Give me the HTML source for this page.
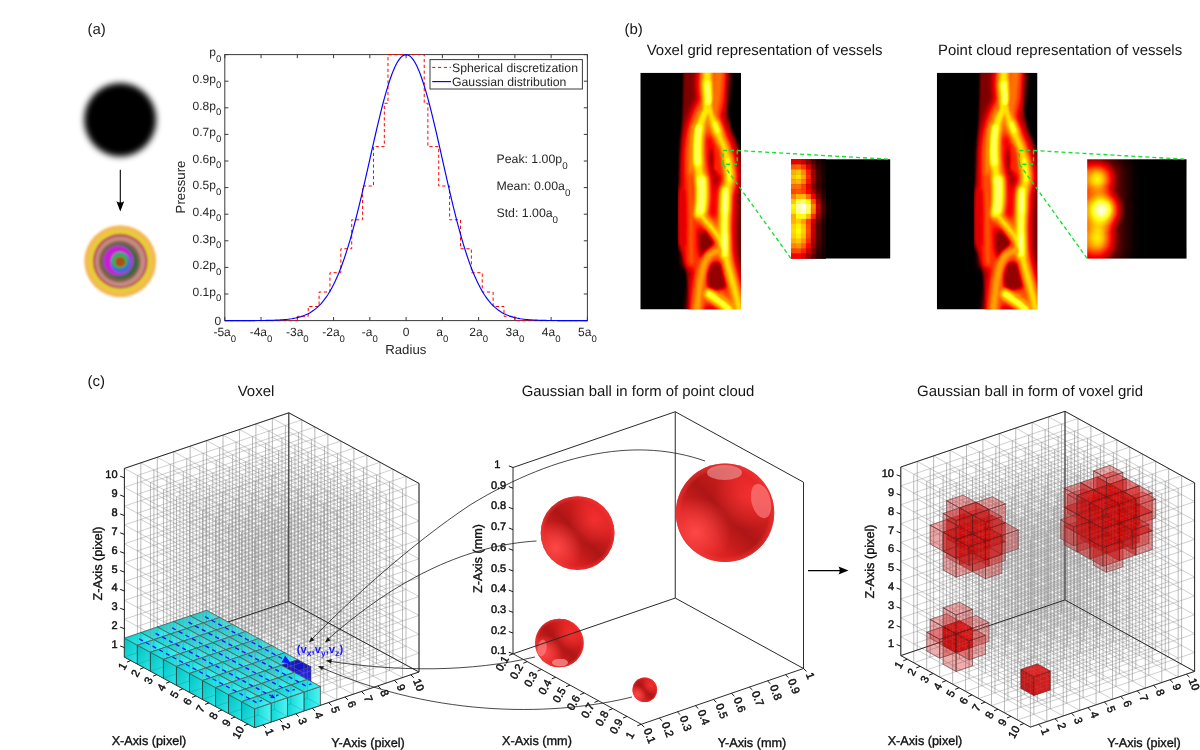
<!DOCTYPE html>
<html><head><meta charset="utf-8"><title>Figure</title>
<style>
html,body{margin:0;padding:0;background:#fff;}
body{width:1200px;height:750px;overflow:hidden;font-family:'Liberation Sans', sans-serif;}
svg{display:block;will-change:transform;text-rendering:geometricPrecision;font-family:"Liberation Sans",sans-serif;}
</style></head><body>
<svg width="1200" height="750" viewBox="0 0 1200 750">
<defs>
<filter id="blur25" x="-20%" y="-20%" width="140%" height="140%"><feGaussianBlur stdDeviation="3"/></filter>
<filter id="blur12" x="-20%" y="-20%" width="140%" height="140%"><feGaussianBlur stdDeviation="1.1"/></filter>

<filter id="hot" x="0" y="0" width="100%" height="100%" color-interpolation-filters="sRGB">
<feComponentTransfer>
<feFuncR type="table" tableValues="0 0.333 0.667 1 1 1 1 1 1"/>
<feFuncG type="table" tableValues="0 0 0 0 0.333 0.667 1 1 1"/>
<feFuncB type="table" tableValues="0 0 0 0 0 0 0 0.5 1"/>
</feComponentTransfer>
</filter>
<filter id="vb" x="-10%" y="-10%" width="120%" height="120%" color-interpolation-filters="sRGB"><feGaussianBlur stdDeviation="1.3"/></filter>
<filter id="vb3" x="-10%" y="-10%" width="120%" height="120%" color-interpolation-filters="sRGB"><feGaussianBlur stdDeviation="3"/></filter>
<filter id="vb2" x="-10%" y="-10%" width="120%" height="120%" color-interpolation-filters="sRGB"><feGaussianBlur stdDeviation="1.7"/></filter>
<radialGradient id="gw"><stop offset="0" stop-color="#fff" stop-opacity="1"/><stop offset="0.25" stop-color="#fff" stop-opacity="0.82"/><stop offset="0.5" stop-color="#fff" stop-opacity="0.46"/><stop offset="0.75" stop-color="#fff" stop-opacity="0.17"/><stop offset="1" stop-color="#fff" stop-opacity="0"/></radialGradient>
<linearGradient id="bandg" x1="0" x2="1" y1="0" y2="0"><stop offset="0.000" stop-color="#696969"/><stop offset="0.121" stop-color="#5e5e5e"/><stop offset="0.202" stop-color="#4a4a4a"/><stop offset="0.282" stop-color="#2e2e2e"/><stop offset="0.363" stop-color="#171717"/><stop offset="0.444" stop-color="#090909"/><stop offset="0.524" stop-color="#000000"/></linearGradient>
<linearGradient id="topg" x1="0" x2="0" y1="0" y2="1"><stop offset="0" stop-color="#000" stop-opacity="0.5"/><stop offset="1" stop-color="#000" stop-opacity="0"/></linearGradient>
<linearGradient id="botg" x1="0" x2="0" y1="0" y2="1"><stop offset="0" stop-color="#000" stop-opacity="0"/><stop offset="1" stop-color="#000" stop-opacity="0.35"/></linearGradient>
<clipPath id="vclip"><rect x="640.3" y="72.7" width="100.7" height="236.8"/></clipPath>
<linearGradient id="ct" x1="0" y1="0.3" x2="1" y2="0.7"><stop offset="0" stop-color="#00d2d2"/><stop offset="1" stop-color="#4cf2f2"/></linearGradient>
<linearGradient id="cy" x1="0" y1="0" x2="1" y2="1"><stop offset="0" stop-color="#00c4c4"/><stop offset="1" stop-color="#2ee6e6"/></linearGradient>
<linearGradient id="cx" x1="0" y1="0" x2="1" y2="0"><stop offset="0" stop-color="#0cd8d8"/><stop offset="1" stop-color="#52f3f3"/></linearGradient>
<linearGradient id="bshade" gradientUnits="objectBoundingBox" x1="0.15" y1="0.85" x2="0.85" y2="0.15"><stop offset="0.2" stop-color="#8a0c0c" stop-opacity="0"/><stop offset="0.36" stop-color="#8a0c0c" stop-opacity="0.32"/><stop offset="0.5" stop-color="#8a0c0c" stop-opacity="0.55"/><stop offset="0.66" stop-color="#8a0c0c" stop-opacity="0.3"/><stop offset="0.85" stop-color="#8a0c0c" stop-opacity="0"/></linearGradient>
<radialGradient id="bhl1" gradientUnits="objectBoundingBox" cx="0.2" cy="0.7" r="0.36"><stop offset="0" stop-color="#ff4a4a" stop-opacity="0.95"/><stop offset="1" stop-color="#ff4a4a" stop-opacity="0"/></radialGradient>
<radialGradient id="bhl2" gradientUnits="objectBoundingBox" cx="0.72" cy="0.33" r="0.34"><stop offset="0" stop-color="#ff3636" stop-opacity="0.7"/><stop offset="1" stop-color="#ff3636" stop-opacity="0"/></radialGradient>
<radialGradient id="brim"><stop offset="0.88" stop-color="#ff4040" stop-opacity="0"/><stop offset="1" stop-color="#f03838" stop-opacity="0.6"/></radialGradient>
</defs>
<rect width="1200" height="750" fill="#fff"/>
<text x="87.5" y="33.5" font-size="15" text-anchor="start" fill="#1a1a1a">(a)</text>
<ellipse cx="120.2" cy="119.7" rx="36" ry="36.8" fill="#000" filter="url(#blur25)"/>
<path d="M120.3 169.8V205" stroke="#000" stroke-width="1.1" fill="none"/>
<path d="M120.3 211.6L116.4 201.2Q120.3 203.6 124.2 201.2Z" fill="#000"/>
<g filter="url(#blur12)">
<circle cx="120.3" cy="261.2" r="36" fill="#f4b955"/>
<circle cx="120.3" cy="261.2" r="31.2" fill="#e3d22a"/>
<circle cx="120.3" cy="261.2" r="27.4" fill="#c0405f"/>
<circle cx="120.3" cy="261.5" r="25.2" fill="#c18c82"/>
<circle cx="119.7" cy="261.5" r="20.7" fill="#86603f"/>
<circle cx="120" cy="261.2" r="17.6" fill="#5e6283"/>
<circle cx="121" cy="262.2" r="16.9" fill="#2f6b46"/>
<circle cx="118.4" cy="260.8" r="14.8" fill="#c91fd4"/>
<circle cx="120.9" cy="263" r="10.4" fill="#4468da"/>
<circle cx="119.8" cy="260.4" r="8.4" fill="#22b556"/>
<circle cx="120.3" cy="261.8" r="5.3" fill="#a9501f"/>
</g>
<rect x="224.8" y="54.6" width="362.6" height="266" fill="none" stroke="#3a3a3a" stroke-width="1"/>
<path d="M224.8 320.6v-3.6M224.8 54.6v3.6M224.8 320.6h3.6M587.4 320.6h-3.6M261.06 320.6v-3.6M261.06 54.6v3.6M224.8 294h3.6M587.4 294h-3.6M297.32 320.6v-3.6M297.32 54.6v3.6M224.8 267.4h3.6M587.4 267.4h-3.6M333.58 320.6v-3.6M333.58 54.6v3.6M224.8 240.8h3.6M587.4 240.8h-3.6M369.84 320.6v-3.6M369.84 54.6v3.6M224.8 214.2h3.6M587.4 214.2h-3.6M406.1 320.6v-3.6M406.1 54.6v3.6M224.8 187.6h3.6M587.4 187.6h-3.6M442.36 320.6v-3.6M442.36 54.6v3.6M224.8 161h3.6M587.4 161h-3.6M478.62 320.6v-3.6M478.62 54.6v3.6M224.8 134.4h3.6M587.4 134.4h-3.6M514.88 320.6v-3.6M514.88 54.6v3.6M224.8 107.8h3.6M587.4 107.8h-3.6M551.14 320.6v-3.6M551.14 54.6v3.6M224.8 81.2h3.6M587.4 81.2h-3.6M587.4 320.6v-3.6M587.4 54.6v3.6M224.8 54.6h3.6M587.4 54.6h-3.6" stroke="#3a3a3a" stroke-width="1" fill="none"/>
<path d="M224.8 320.6L297.32 320.6L297.32 316.34L308.2 316.34L308.2 306.5L319.08 306.5L319.08 292L329.95 292L329.95 272.72L340.83 272.72L340.83 248.78L351.71 248.78L351.71 219.79L362.59 219.79L362.59 186L373.47 186L373.47 146.64L384.34 146.64L384.34 103.28L387.97 103.28L387.97 54.6L424.23 54.6L424.23 103.28L427.86 103.28L427.86 146.64L438.73 146.64L438.73 186L449.61 186L449.61 219.79L460.49 219.79L460.49 248.78L471.37 248.78L471.37 272.72L482.25 272.72L482.25 292L493.12 292L493.12 306.5L504 306.5L504 316.34L514.88 316.34L514.88 320.6L587.4 320.6" stroke="#ff0000" stroke-width="1" stroke-dasharray="3.2 2.6" fill="none"/>
<path d="M224.8 320.6L226.61 320.6L228.43 320.6L230.24 320.6L232.05 320.6L233.87 320.6L235.68 320.6L237.49 320.59L239.3 320.59L241.12 320.59L242.93 320.59L244.74 320.59L246.56 320.58L248.37 320.58L250.18 320.57L252 320.57L253.81 320.56L255.62 320.55L257.43 320.54L259.25 320.53L261.06 320.51L262.87 320.49L264.69 320.47L266.5 320.44L268.31 320.41L270.12 320.36L271.94 320.32L273.75 320.26L275.56 320.19L277.38 320.11L279.19 320.02L281 319.91L282.82 319.78L284.63 319.63L286.44 319.45L288.25 319.25L290.07 319.01L291.88 318.74L293.69 318.42L295.51 318.06L297.32 317.65L299.13 317.17L300.95 316.63L302.76 316.02L304.57 315.32L306.39 314.54L308.2 313.65L310.01 312.66L311.82 311.54L313.64 310.3L315.45 308.91L317.26 307.37L319.08 305.67L320.89 303.79L322.7 301.71L324.52 299.44L326.33 296.95L328.14 294.23L329.95 291.27L331.77 288.07L333.58 284.6L335.39 280.86L337.21 276.85L339.02 272.55L340.83 267.96L342.65 263.07L344.46 257.89L346.27 252.41L348.08 246.64L349.9 240.58L351.71 234.24L353.52 227.63L355.34 220.77L357.15 213.66L358.96 206.34L360.78 198.82L362.59 191.12L364.4 183.29L366.21 175.34L368.03 167.32L369.84 159.26L371.65 151.2L373.47 143.18L375.28 135.25L377.09 127.44L378.91 119.81L380.72 112.4L382.53 105.25L384.34 98.42L386.16 91.94L387.97 85.86L389.78 80.21L391.6 75.05L393.41 70.4L395.22 66.3L397.04 62.78L398.85 59.87L400.66 57.58L402.47 55.93L404.29 54.93L406.1 54.6L407.91 54.93L409.73 55.93L411.54 57.58L413.35 59.87L415.17 62.78L416.98 66.3L418.79 70.4L420.6 75.05L422.42 80.21L424.23 85.86L426.04 91.94L427.86 98.42L429.67 105.25L431.48 112.4L433.3 119.81L435.11 127.44L436.92 135.25L438.73 143.18L440.55 151.2L442.36 159.26L444.17 167.32L445.99 175.34L447.8 183.29L449.61 191.12L451.43 198.82L453.24 206.34L455.05 213.66L456.86 220.77L458.68 227.63L460.49 234.24L462.3 240.58L464.12 246.64L465.93 252.41L467.74 257.89L469.56 263.07L471.37 267.96L473.18 272.55L474.99 276.85L476.81 280.86L478.62 284.6L480.43 288.07L482.25 291.27L484.06 294.23L485.87 296.95L487.69 299.44L489.5 301.71L491.31 303.79L493.12 305.67L494.94 307.37L496.75 308.91L498.56 310.3L500.38 311.54L502.19 312.66L504 313.65L505.81 314.54L507.63 315.32L509.44 316.02L511.25 316.63L513.07 317.17L514.88 317.65L516.69 318.06L518.51 318.42L520.32 318.74L522.13 319.01L523.95 319.25L525.76 319.45L527.57 319.63L529.38 319.78L531.2 319.91L533.01 320.02L534.82 320.11L536.64 320.19L538.45 320.26L540.26 320.32L542.08 320.36L543.89 320.41L545.7 320.44L547.51 320.47L549.33 320.49L551.14 320.51L552.95 320.53L554.77 320.54L556.58 320.55L558.39 320.56L560.21 320.57L562.02 320.57L563.83 320.58L565.64 320.58L567.46 320.59L569.27 320.59L571.08 320.59L572.9 320.59L574.71 320.59L576.52 320.6L578.34 320.6L580.15 320.6L581.96 320.6L583.77 320.6L585.59 320.6L587.4 320.6" stroke="#0000ff" stroke-width="1.15" fill="none"/>
<text x="221.3" y="325.1" font-size="12" text-anchor="end" fill="#262626">0</text>
<text x="221.3" y="295.7" font-size="12" text-anchor="end" fill="#262626">0.1p<tspan font-size="80%" dy="5.4">0</tspan></text>
<text x="221.3" y="269.1" font-size="12" text-anchor="end" fill="#262626">0.2p<tspan font-size="80%" dy="5.4">0</tspan></text>
<text x="221.3" y="242.5" font-size="12" text-anchor="end" fill="#262626">0.3p<tspan font-size="80%" dy="5.4">0</tspan></text>
<text x="221.3" y="215.9" font-size="12" text-anchor="end" fill="#262626">0.4p<tspan font-size="80%" dy="5.4">0</tspan></text>
<text x="221.3" y="189.3" font-size="12" text-anchor="end" fill="#262626">0.5p<tspan font-size="80%" dy="5.4">0</tspan></text>
<text x="221.3" y="162.7" font-size="12" text-anchor="end" fill="#262626">0.6p<tspan font-size="80%" dy="5.4">0</tspan></text>
<text x="221.3" y="136.1" font-size="12" text-anchor="end" fill="#262626">0.7p<tspan font-size="80%" dy="5.4">0</tspan></text>
<text x="221.3" y="109.5" font-size="12" text-anchor="end" fill="#262626">0.8p<tspan font-size="80%" dy="5.4">0</tspan></text>
<text x="221.3" y="82.9" font-size="12" text-anchor="end" fill="#262626">0.9p<tspan font-size="80%" dy="5.4">0</tspan></text>
<text x="221.3" y="56.3" font-size="12" text-anchor="end" fill="#262626">p<tspan font-size="80%" dy="5.4">0</tspan></text>
<text x="224.8" y="336.3" font-size="12" text-anchor="middle" fill="#262626">-5a<tspan font-size="80%" dy="5.4">0</tspan></text>
<text x="261.06" y="336.3" font-size="12" text-anchor="middle" fill="#262626">-4a<tspan font-size="80%" dy="5.4">0</tspan></text>
<text x="297.32" y="336.3" font-size="12" text-anchor="middle" fill="#262626">-3a<tspan font-size="80%" dy="5.4">0</tspan></text>
<text x="333.58" y="336.3" font-size="12" text-anchor="middle" fill="#262626">-2a<tspan font-size="80%" dy="5.4">0</tspan></text>
<text x="369.84" y="336.3" font-size="12" text-anchor="middle" fill="#262626">-a<tspan font-size="80%" dy="5.4">0</tspan></text>
<text x="406.1" y="336.3" font-size="12" text-anchor="middle" fill="#262626">0</text>
<text x="442.36" y="336.3" font-size="12" text-anchor="middle" fill="#262626">a<tspan font-size="80%" dy="5.4">0</tspan></text>
<text x="478.62" y="336.3" font-size="12" text-anchor="middle" fill="#262626">2a<tspan font-size="80%" dy="5.4">0</tspan></text>
<text x="514.88" y="336.3" font-size="12" text-anchor="middle" fill="#262626">3a<tspan font-size="80%" dy="5.4">0</tspan></text>
<text x="551.14" y="336.3" font-size="12" text-anchor="middle" fill="#262626">4a<tspan font-size="80%" dy="5.4">0</tspan></text>
<text x="587.4" y="336.3" font-size="12" text-anchor="middle" fill="#262626">5a<tspan font-size="80%" dy="5.4">0</tspan></text>
<text x="405.8" y="354" font-size="13.2" text-anchor="middle" fill="#262626">Radius</text>
<text x="185" y="187" font-size="13.2" text-anchor="middle" fill="#262626" transform="rotate(-90 185 187)">Pressure</text>
<rect x="430" y="59.6" width="152.4" height="29.4" fill="#fff" stroke="#3a3a3a" stroke-width="1"/>
<path d="M432.2 67.4H451" stroke="#ff0000" stroke-width="1" stroke-dasharray="3.2 2.6"/>
<path d="M432.2 81.6H451" stroke="#0000ff" stroke-width="1.15"/>
<text x="452" y="71.7" font-size="12.25" text-anchor="start" fill="#262626">Spherical discretization</text>
<text x="452" y="85.6" font-size="12.25" text-anchor="start" fill="#262626">Gaussian distribution</text>
<text x="496.5" y="163.3" font-size="12.3" text-anchor="start" fill="#262626">Peak: 1.00p<tspan font-size="80%" dy="5.4">0</tspan></text>
<text x="496.5" y="190.3" font-size="12.3" text-anchor="start" fill="#262626">Mean: 0.00a<tspan font-size="80%" dy="5.4">0</tspan></text>
<text x="496.5" y="217.3" font-size="12.3" text-anchor="start" fill="#262626">Std: 1.00a<tspan font-size="80%" dy="5.4">0</tspan></text>
<text x="624.5" y="34" font-size="15" text-anchor="start" fill="#151515">(b)</text>
<text x="646.7" y="54.5" font-size="14.95" text-anchor="start" fill="#151515">Voxel grid representation of vessels</text>
<text x="938" y="54.5" font-size="14.95" text-anchor="start" fill="#151515">Point cloud representation of vessels</text>
<g id="vimg" filter="url(#hot)" clip-path="url(#vclip)"><g>
<rect x="640.3" y="72.7" width="100.7" height="236.8" fill="#000"/>
<path d="M683.5 72L683 100L682 125L681 140L680 165L679 188L679.5 215L680 250L685 263L688 288L690 310L741.5 310L741.5 152L739 148L735 138L731 128L727 110L725 90L723.5 72Z" fill="#303030" filter="url(#vb)"/>
<g filter="url(#vb3)" fill="none" stroke-linecap="round" stroke-linejoin="round">
<path d="M685 193C684.83 196.67 684.08 206.83 684 215C683.92 223.17 684.42 237.5 684.5 242" stroke="#5a5a5a" stroke-width="14.5"/>
<path d="M702 108C701.17 110 698.5 115.5 697 120C695.5 124.5 694 130 693 135C692 140 691.42 145 691 150C690.58 155 690.67 160 690.5 165C690.33 170 690 175 690 180C690 185 690.33 189.17 690.5 195C690.67 200.83 690.92 207.5 691 215C691.08 222.5 690.92 232.17 691 240C691.08 247.83 691.42 258.33 691.5 262" stroke="#6b6b6b" stroke-width="16"/>
<path d="M700 112C699 115.33 695.5 125.67 694 132C692.5 138.33 691.58 143.33 691 150C690.42 156.67 690.58 168.33 690.5 172" stroke="#717171" stroke-width="16"/>
<path d="M718.5 73C718.33 75 717.92 80.5 717.5 85C717.08 89.5 716.75 95.5 716 100C715.25 104.5 713.5 110 713 112" stroke="#6e6e6e" stroke-width="20"/>
<path d="M716 148C716.17 149.67 716.92 154.67 717 158C717.08 161.33 716.58 166.33 716.5 168" stroke="#686868" stroke-width="14"/>
<path d="M724 250C723 250.17 720.17 250.33 718 251C715.83 251.67 713 252.5 711 254C709 255.5 707.33 257.67 706 260C704.67 262.33 703.92 264.67 703 268C702.08 271.33 701.17 276 700.5 280C699.83 284 699.5 287.83 699 292C698.5 296.17 697.83 301.83 697.5 305C697.17 308.17 697.08 310 697 311" stroke="#747474" stroke-width="18.5"/>
<path d="M720 296C721.17 296.83 724.5 299 727 301C729.5 303 733.67 306.83 735 308" stroke="#727272" stroke-width="16.5"/>
<path d="M707.5 72C707.42 74.17 706.92 81.17 707 85C707.08 88.83 707.75 92.33 708 95C708.25 97.67 709 98.17 708.5 101C708 103.83 706.42 108 705 112C703.58 116 701.25 121.17 700 125C698.75 128.83 698 130.83 697.5 135C697 139.17 697 145.83 697 150C697 154.17 697.17 156.67 697.5 160C697.83 163.33 698.42 165.83 699 170C699.58 174.17 700.55 181.33 701 185C701.45 188.67 701.62 189.17 701.7 192C701.78 194.83 701.78 199 701.5 202C701.22 205 700.5 208 700 210C699.5 212 698.75 213.33 698.5 214" stroke="#7d7d7d" stroke-width="19.5"/>
<path d="M708.5 103C709.08 105.5 710.75 113.83 712 118C713.25 122.17 714.67 124.67 716 128C717.33 131.33 718.67 134.83 720 138C721.33 141.17 722.83 143.67 724 147C725.17 150.33 726.17 154.17 727 158C727.83 161.83 728.58 166.33 729 170C729.42 173.67 729.75 177 729.5 180C729.25 183 728.17 185.67 727.5 188C726.83 190.33 725.92 191.67 725.5 194C725.08 196.33 725.17 198.5 725 202C724.83 205.5 724.67 210.33 724.5 215C724.33 219.67 724 225 724 230C724 235 724.33 241.33 724.5 245C724.67 248.67 724.42 248.67 725 252C725.58 255.33 726.83 260.33 728 265C729.17 269.67 730.67 275 732 280C733.33 285 734.75 289.83 736 295C737.25 300.17 738.92 308.33 739.5 311" stroke="#7b7b7b" stroke-width="18"/>
<path d="M699 212C700 213.33 702.83 217.33 705 220C707.17 222.67 709.83 225.33 712 228C714.17 230.67 716.17 233.33 718 236C719.83 238.67 722.17 242.67 723 244" stroke="#7d7d7d" stroke-width="16.5"/>
<path d="M709 294C710.17 294.83 713.83 297.5 716 299C718.17 300.5 719.83 301.33 722 303C724.17 304.67 727.83 308 729 309" stroke="#858585" stroke-width="18"/>
<path d="M725.6 190C725.53 191.67 725.33 196 725.2 200C725.07 204 724.93 209.33 724.8 214C724.67 218.67 724.45 223.67 724.4 228C724.35 232.33 724.43 235.67 724.5 240C724.57 244.33 724.75 251.67 724.8 254" stroke="#888888" stroke-width="17.5"/>
<path d="M725.3 195L725 210" stroke="#8c8c8c" stroke-width="17.5"/>
<path d="M724.5 236L724.6 248" stroke="#8c8c8c" stroke-width="17"/>
<path d="M701.4 180C701.47 181.67 701.78 186.33 701.8 190C701.82 193.67 701.72 198.67 701.5 202C701.28 205.33 700.67 208.67 700.5 210" stroke="#888888" stroke-width="20.5"/>
<path d="M707.4 84C707.47 85.33 707.63 89 707.8 92C707.97 95 708.3 100.33 708.4 102" stroke="#888888" stroke-width="18"/>
<path d="M698.6 128C698.42 129.67 697.73 134.33 697.5 138C697.27 141.67 697.18 146 697.2 150C697.22 154 697.53 160 697.6 162" stroke="#878787" stroke-width="19.5"/>
<path d="M715 124L717.5 131" stroke="#868686" stroke-width="16.5"/>
<path d="M727.5 160C727.8 162 728.97 168.67 729.3 172C729.63 175.33 729.47 178.67 729.5 180" stroke="#858585" stroke-width="16"/>
</g>
<g filter="url(#vb2)" fill="none" stroke-linecap="round" stroke-linejoin="round">
<ellipse cx="713.5" cy="160" rx="4" ry="15" fill="#333333"/>
<path d="M704 230L714 243L708 251L702 260L700 260L700 238Z" fill="#333333"/>
<path d="M712 263L720 263L726 287L716 290L708 287L707 272Z" fill="#383838"/>
<path d="M685 193C684.83 196.67 684.08 206.83 684 215C683.92 223.17 684.42 237.5 684.5 242" stroke="#535353" stroke-width="7.5"/>
<path d="M702 108C701.17 110 698.5 115.5 697 120C695.5 124.5 694 130 693 135C692 140 691.42 145 691 150C690.58 155 690.67 160 690.5 165C690.33 170 690 175 690 180C690 185 690.33 189.17 690.5 195C690.67 200.83 690.92 207.5 691 215C691.08 222.5 690.92 232.17 691 240C691.08 247.83 691.42 258.33 691.5 262" stroke="#747474" stroke-width="9"/>
<path d="M700 112C699 115.33 695.5 125.67 694 132C692.5 138.33 691.58 143.33 691 150C690.42 156.67 690.58 168.33 690.5 172" stroke="#808080" stroke-width="9"/>
<path d="M718.5 73C718.33 75 717.92 80.5 717.5 85C717.08 89.5 716.75 95.5 716 100C715.25 104.5 713.5 110 713 112" stroke="#7a7a7a" stroke-width="13"/>
<path d="M716 148C716.17 149.67 716.92 154.67 717 158C717.08 161.33 716.58 166.33 716.5 168" stroke="#6e6e6e" stroke-width="7"/>
<path d="M724 250C723 250.17 720.17 250.33 718 251C715.83 251.67 713 252.5 711 254C709 255.5 707.33 257.67 706 260C704.67 262.33 703.92 264.67 703 268C702.08 271.33 701.17 276 700.5 280C699.83 284 699.5 287.83 699 292C698.5 296.17 697.83 301.83 697.5 305C697.17 308.17 697.08 310 697 311" stroke="#868686" stroke-width="11.5"/>
<path d="M720 296C721.17 296.83 724.5 299 727 301C729.5 303 733.67 306.83 735 308" stroke="#838383" stroke-width="9.5"/>
<path d="M707.5 72C707.42 74.17 706.92 81.17 707 85C707.08 88.83 707.75 92.33 708 95C708.25 97.67 709 98.17 708.5 101C708 103.83 706.42 108 705 112C703.58 116 701.25 121.17 700 125C698.75 128.83 698 130.83 697.5 135C697 139.17 697 145.83 697 150C697 154.17 697.17 156.67 697.5 160C697.83 163.33 698.42 165.83 699 170C699.58 174.17 700.55 181.33 701 185C701.45 188.67 701.62 189.17 701.7 192C701.78 194.83 701.78 199 701.5 202C701.22 205 700.5 208 700 210C699.5 212 698.75 213.33 698.5 214" stroke="#979797" stroke-width="12.5"/>
<path d="M708.5 103C709.08 105.5 710.75 113.83 712 118C713.25 122.17 714.67 124.67 716 128C717.33 131.33 718.67 134.83 720 138C721.33 141.17 722.83 143.67 724 147C725.17 150.33 726.17 154.17 727 158C727.83 161.83 728.58 166.33 729 170C729.42 173.67 729.75 177 729.5 180C729.25 183 728.17 185.67 727.5 188C726.83 190.33 725.92 191.67 725.5 194C725.08 196.33 725.17 198.5 725 202C724.83 205.5 724.67 210.33 724.5 215C724.33 219.67 724 225 724 230C724 235 724.33 241.33 724.5 245C724.67 248.67 724.42 248.67 725 252C725.58 255.33 726.83 260.33 728 265C729.17 269.67 730.67 275 732 280C733.33 285 734.75 289.83 736 295C737.25 300.17 738.92 308.33 739.5 311" stroke="#959595" stroke-width="11"/>
<path d="M699 212C700 213.33 702.83 217.33 705 220C707.17 222.67 709.83 225.33 712 228C714.17 230.67 716.17 233.33 718 236C719.83 238.67 722.17 242.67 723 244" stroke="#979797" stroke-width="9.5"/>
<path d="M709 294C710.17 294.83 713.83 297.5 716 299C718.17 300.5 719.83 301.33 722 303C724.17 304.67 727.83 308 729 309" stroke="#a6a6a6" stroke-width="11"/>
<path d="M725.6 190C725.53 191.67 725.33 196 725.2 200C725.07 204 724.93 209.33 724.8 214C724.67 218.67 724.45 223.67 724.4 228C724.35 232.33 724.43 235.67 724.5 240C724.57 244.33 724.75 251.67 724.8 254" stroke="#aeaeae" stroke-width="10.5"/>
<path d="M725.3 195L725 210" stroke="#b5b5b5" stroke-width="10.5"/>
<path d="M724.5 236L724.6 248" stroke="#b5b5b5" stroke-width="10"/>
<path d="M701.4 180C701.47 181.67 701.78 186.33 701.8 190C701.82 193.67 701.72 198.67 701.5 202C701.28 205.33 700.67 208.67 700.5 210" stroke="#aeaeae" stroke-width="13.5"/>
<path d="M707.4 84C707.47 85.33 707.63 89 707.8 92C707.97 95 708.3 100.33 708.4 102" stroke="#aeaeae" stroke-width="11"/>
<path d="M698.6 128C698.42 129.67 697.73 134.33 697.5 138C697.27 141.67 697.18 146 697.2 150C697.22 154 697.53 160 697.6 162" stroke="#ababab" stroke-width="12.5"/>
<path d="M715 124L717.5 131" stroke="#a9a9a9" stroke-width="9.5"/>
<path d="M727.5 160C727.8 162 728.97 168.67 729.3 172C729.63 175.33 729.47 178.67 729.5 180" stroke="#a6a6a6" stroke-width="9"/>
</g>
<g filter="url(#vb)" fill="none" stroke-linecap="round" stroke-linejoin="round">
<path d="M702 108C701.17 110 698.5 115.5 697 120C695.5 124.5 694 130 693 135C692 140 691.42 145 691 150C690.58 155 690.67 160 690.5 165C690.33 170 690 175 690 180C690 185 690.33 189.17 690.5 195C690.67 200.83 690.92 207.5 691 215C691.08 222.5 690.92 232.17 691 240C691.08 247.83 691.42 258.33 691.5 262" stroke="#818181" stroke-width="3"/>
<path d="M700 112C699 115.33 695.5 125.67 694 132C692.5 138.33 691.58 143.33 691 150C690.42 156.67 690.58 168.33 690.5 172" stroke="#939393" stroke-width="3"/>
<path d="M718.5 73C718.33 75 717.92 80.5 717.5 85C717.08 89.5 716.75 95.5 716 100C715.25 104.5 713.5 110 713 112" stroke="#8a8a8a" stroke-width="7"/>
<path d="M724 250C723 250.17 720.17 250.33 718 251C715.83 251.67 713 252.5 711 254C709 255.5 707.33 257.67 706 260C704.67 262.33 703.92 264.67 703 268C702.08 271.33 701.17 276 700.5 280C699.83 284 699.5 287.83 699 292C698.5 296.17 697.83 301.83 697.5 305C697.17 308.17 697.08 310 697 311" stroke="#9c9c9c" stroke-width="5.5"/>
<path d="M720 296C721.17 296.83 724.5 299 727 301C729.5 303 733.67 306.83 735 308" stroke="#979797" stroke-width="3.5"/>
<path d="M707.5 72C707.42 74.17 706.92 81.17 707 85C707.08 88.83 707.75 92.33 708 95C708.25 97.67 709 98.17 708.5 101C708 103.83 706.42 108 705 112C703.58 116 701.25 121.17 700 125C698.75 128.83 698 130.83 697.5 135C697 139.17 697 145.83 697 150C697 154.17 697.17 156.67 697.5 160C697.83 163.33 698.42 165.83 699 170C699.58 174.17 700.55 181.33 701 185C701.45 188.67 701.62 189.17 701.7 192C701.78 194.83 701.78 199 701.5 202C701.22 205 700.5 208 700 210C699.5 212 698.75 213.33 698.5 214" stroke="#b8b8b8" stroke-width="6.5"/>
<path d="M708.5 103C709.08 105.5 710.75 113.83 712 118C713.25 122.17 714.67 124.67 716 128C717.33 131.33 718.67 134.83 720 138C721.33 141.17 722.83 143.67 724 147C725.17 150.33 726.17 154.17 727 158C727.83 161.83 728.58 166.33 729 170C729.42 173.67 729.75 177 729.5 180C729.25 183 728.17 185.67 727.5 188C726.83 190.33 725.92 191.67 725.5 194C725.08 196.33 725.17 198.5 725 202C724.83 205.5 724.67 210.33 724.5 215C724.33 219.67 724 225 724 230C724 235 724.33 241.33 724.5 245C724.67 248.67 724.42 248.67 725 252C725.58 255.33 726.83 260.33 728 265C729.17 269.67 730.67 275 732 280C733.33 285 734.75 289.83 736 295C737.25 300.17 738.92 308.33 739.5 311" stroke="#b3b3b3" stroke-width="5"/>
<path d="M699 212C700 213.33 702.83 217.33 705 220C707.17 222.67 709.83 225.33 712 228C714.17 230.67 716.17 233.33 718 236C719.83 238.67 722.17 242.67 723 244" stroke="#b8b8b8" stroke-width="3.5"/>
<path d="M709 294C710.17 294.83 713.83 297.5 716 299C718.17 300.5 719.83 301.33 722 303C724.17 304.67 727.83 308 729 309" stroke="#cfcfcf" stroke-width="5"/>
<path d="M725.6 190C725.53 191.67 725.33 196 725.2 200C725.07 204 724.93 209.33 724.8 214C724.67 218.67 724.45 223.67 724.4 228C724.35 232.33 724.43 235.67 724.5 240C724.57 244.33 724.75 251.67 724.8 254" stroke="#dadada" stroke-width="4.5"/>
<path d="M725.3 195L725 210" stroke="#e6e6e6" stroke-width="4.5"/>
<path d="M724.5 236L724.6 248" stroke="#e6e6e6" stroke-width="4"/>
<path d="M701.4 180C701.47 181.67 701.78 186.33 701.8 190C701.82 193.67 701.72 198.67 701.5 202C701.28 205.33 700.67 208.67 700.5 210" stroke="#dadada" stroke-width="7.5"/>
<path d="M707.4 84C707.47 85.33 707.63 89 707.8 92C707.97 95 708.3 100.33 708.4 102" stroke="#dadada" stroke-width="5"/>
<path d="M698.6 128C698.42 129.67 697.73 134.33 697.5 138C697.27 141.67 697.18 146 697.2 150C697.22 154 697.53 160 697.6 162" stroke="#d5d5d5" stroke-width="6.5"/>
<path d="M715 124L717.5 131" stroke="#d3d3d3" stroke-width="3.5"/>
<path d="M727.5 160C727.8 162 728.97 168.67 729.3 172C729.63 175.33 729.47 178.67 729.5 180" stroke="#cfcfcf" stroke-width="3"/>
</g>
</g></g>
<use href="#vimg" x="296.5" y="0"/>
<rect x="791.0" y="159.3" width="99.2" height="99.2" fill="#000"/>
<rect x="791" y="159.3" width="5.26" height="5.26" fill="#e40000"/>
<rect x="791" y="164.26" width="5.26" height="5.26" fill="#ff5600"/>
<rect x="791" y="169.22" width="5.26" height="5.26" fill="#ffae00"/>
<rect x="791" y="174.18" width="5.26" height="5.26" fill="#ffc300"/>
<rect x="791" y="179.14" width="5.26" height="5.26" fill="#ffa400"/>
<rect x="791" y="184.1" width="5.26" height="5.26" fill="#ff6b00"/>
<rect x="791" y="189.06" width="5.26" height="5.26" fill="#ff4400"/>
<rect x="791" y="194.02" width="5.26" height="5.26" fill="#ff8100"/>
<rect x="791" y="198.98" width="5.26" height="5.26" fill="#ffc900"/>
<rect x="791" y="203.94" width="5.26" height="5.26" fill="#fff700"/>
<rect x="791" y="208.9" width="5.26" height="5.26" fill="#ffeb00"/>
<rect x="791" y="213.86" width="5.26" height="5.26" fill="#ffad00"/>
<rect x="791" y="218.82" width="5.26" height="5.26" fill="#ffb400"/>
<rect x="791" y="223.78" width="5.26" height="5.26" fill="#ffd200"/>
<rect x="791" y="228.74" width="5.26" height="5.26" fill="#ffdb00"/>
<rect x="791" y="233.7" width="5.26" height="5.26" fill="#ffcd00"/>
<rect x="791" y="238.66" width="5.26" height="5.26" fill="#ffad00"/>
<rect x="791" y="243.62" width="5.26" height="5.26" fill="#ff8300"/>
<rect x="791" y="248.58" width="5.26" height="5.26" fill="#ff4200"/>
<rect x="791" y="253.54" width="5.26" height="5.26" fill="#f90000"/>
<rect x="795.96" y="159.3" width="5.26" height="5.26" fill="#e70000"/>
<rect x="795.96" y="164.26" width="5.26" height="5.26" fill="#ff6200"/>
<rect x="795.96" y="169.22" width="5.26" height="5.26" fill="#ffc300"/>
<rect x="795.96" y="174.18" width="5.26" height="5.26" fill="#ffdd00"/>
<rect x="795.96" y="179.14" width="5.26" height="5.26" fill="#ffb800"/>
<rect x="795.96" y="184.1" width="5.26" height="5.26" fill="#ff7000"/>
<rect x="795.96" y="189.06" width="5.26" height="5.26" fill="#ff5300"/>
<rect x="795.96" y="194.02" width="5.26" height="5.26" fill="#ffb400"/>
<rect x="795.96" y="198.98" width="5.26" height="5.26" fill="#ffff3f"/>
<rect x="795.96" y="203.94" width="5.26" height="5.26" fill="#ffffad"/>
<rect x="795.96" y="208.9" width="5.26" height="5.26" fill="#ffff8f"/>
<rect x="795.96" y="213.86" width="5.26" height="5.26" fill="#fffb00"/>
<rect x="795.96" y="218.82" width="5.26" height="5.26" fill="#ffce00"/>
<rect x="795.96" y="223.78" width="5.26" height="5.26" fill="#fff300"/>
<rect x="795.96" y="228.74" width="5.26" height="5.26" fill="#ffff00"/>
<rect x="795.96" y="233.7" width="5.26" height="5.26" fill="#ffed00"/>
<rect x="795.96" y="238.66" width="5.26" height="5.26" fill="#ffc400"/>
<rect x="795.96" y="243.62" width="5.26" height="5.26" fill="#ff9000"/>
<rect x="795.96" y="248.58" width="5.26" height="5.26" fill="#ff4800"/>
<rect x="795.96" y="253.54" width="5.26" height="5.26" fill="#f90000"/>
<rect x="800.92" y="159.3" width="5.26" height="5.26" fill="#c60000"/>
<rect x="800.92" y="164.26" width="5.26" height="5.26" fill="#ff3400"/>
<rect x="800.92" y="169.22" width="5.26" height="5.26" fill="#ff8c00"/>
<rect x="800.92" y="174.18" width="5.26" height="5.26" fill="#ffa400"/>
<rect x="800.92" y="179.14" width="5.26" height="5.26" fill="#ff8100"/>
<rect x="800.92" y="184.1" width="5.26" height="5.26" fill="#ff4000"/>
<rect x="800.92" y="189.06" width="5.26" height="5.26" fill="#ff4000"/>
<rect x="800.92" y="194.02" width="5.26" height="5.26" fill="#ffb800"/>
<rect x="800.92" y="198.98" width="5.26" height="5.26" fill="#ffff6d"/>
<rect x="800.92" y="203.94" width="5.26" height="5.26" fill="#fffff5"/>
<rect x="800.92" y="208.9" width="5.26" height="5.26" fill="#ffffd0"/>
<rect x="800.92" y="213.86" width="5.26" height="5.26" fill="#ffff19"/>
<rect x="800.92" y="218.82" width="5.26" height="5.26" fill="#ff9f00"/>
<rect x="800.92" y="223.78" width="5.26" height="5.26" fill="#ffc300"/>
<rect x="800.92" y="228.74" width="5.26" height="5.26" fill="#ffcf00"/>
<rect x="800.92" y="233.7" width="5.26" height="5.26" fill="#ffbe00"/>
<rect x="800.92" y="238.66" width="5.26" height="5.26" fill="#ff9600"/>
<rect x="800.92" y="243.62" width="5.26" height="5.26" fill="#ff6400"/>
<rect x="800.92" y="248.58" width="5.26" height="5.26" fill="#ff2000"/>
<rect x="800.92" y="253.54" width="5.26" height="5.26" fill="#d90000"/>
<rect x="805.88" y="159.3" width="5.26" height="5.26" fill="#8b0000"/>
<rect x="805.88" y="164.26" width="5.26" height="5.26" fill="#d70000"/>
<rect x="805.88" y="169.22" width="5.26" height="5.26" fill="#ff1700"/>
<rect x="805.88" y="174.18" width="5.26" height="5.26" fill="#ff2700"/>
<rect x="805.88" y="179.14" width="5.26" height="5.26" fill="#ff1000"/>
<rect x="805.88" y="184.1" width="5.26" height="5.26" fill="#e30000"/>
<rect x="805.88" y="189.06" width="5.26" height="5.26" fill="#fe0000"/>
<rect x="805.88" y="194.02" width="5.26" height="5.26" fill="#ff7000"/>
<rect x="805.88" y="198.98" width="5.26" height="5.26" fill="#fff600"/>
<rect x="805.88" y="203.94" width="5.26" height="5.26" fill="#ffff72"/>
<rect x="805.88" y="208.9" width="5.26" height="5.26" fill="#ffff4f"/>
<rect x="805.88" y="213.86" width="5.26" height="5.26" fill="#ffc200"/>
<rect x="805.88" y="218.82" width="5.26" height="5.26" fill="#ff3d00"/>
<rect x="805.88" y="223.78" width="5.26" height="5.26" fill="#ff4a00"/>
<rect x="805.88" y="228.74" width="5.26" height="5.26" fill="#ff5300"/>
<rect x="805.88" y="233.7" width="5.26" height="5.26" fill="#ff4600"/>
<rect x="805.88" y="238.66" width="5.26" height="5.26" fill="#ff2a00"/>
<rect x="805.88" y="243.62" width="5.26" height="5.26" fill="#ff0500"/>
<rect x="805.88" y="248.58" width="5.26" height="5.26" fill="#d10000"/>
<rect x="805.88" y="253.54" width="5.26" height="5.26" fill="#9d0000"/>
<rect x="810.84" y="159.3" width="5.26" height="5.26" fill="#500000"/>
<rect x="810.84" y="164.26" width="5.26" height="5.26" fill="#790000"/>
<rect x="810.84" y="169.22" width="5.26" height="5.26" fill="#9c0000"/>
<rect x="810.84" y="174.18" width="5.26" height="5.26" fill="#a30000"/>
<rect x="810.84" y="179.14" width="5.26" height="5.26" fill="#980000"/>
<rect x="810.84" y="184.1" width="5.26" height="5.26" fill="#840000"/>
<rect x="810.84" y="189.06" width="5.26" height="5.26" fill="#a40000"/>
<rect x="810.84" y="194.02" width="5.26" height="5.26" fill="#f10000"/>
<rect x="810.84" y="198.98" width="5.26" height="5.26" fill="#ff4d00"/>
<rect x="810.84" y="203.94" width="5.26" height="5.26" fill="#ff8700"/>
<rect x="810.84" y="208.9" width="5.26" height="5.26" fill="#ff7700"/>
<rect x="810.84" y="213.86" width="5.26" height="5.26" fill="#ff2900"/>
<rect x="810.84" y="218.82" width="5.26" height="5.26" fill="#cf0000"/>
<rect x="810.84" y="223.78" width="5.26" height="5.26" fill="#be0000"/>
<rect x="810.84" y="228.74" width="5.26" height="5.26" fill="#c30000"/>
<rect x="810.84" y="233.7" width="5.26" height="5.26" fill="#bc0000"/>
<rect x="810.84" y="238.66" width="5.26" height="5.26" fill="#ad0000"/>
<rect x="810.84" y="243.62" width="5.26" height="5.26" fill="#990000"/>
<rect x="810.84" y="248.58" width="5.26" height="5.26" fill="#7c0000"/>
<rect x="810.84" y="253.54" width="5.26" height="5.26" fill="#5e0000"/>
<rect x="815.8" y="159.3" width="5.26" height="5.26" fill="#260000"/>
<rect x="815.8" y="164.26" width="5.26" height="5.26" fill="#380000"/>
<rect x="815.8" y="169.22" width="5.26" height="5.26" fill="#460000"/>
<rect x="815.8" y="174.18" width="5.26" height="5.26" fill="#490000"/>
<rect x="815.8" y="179.14" width="5.26" height="5.26" fill="#450000"/>
<rect x="815.8" y="184.1" width="5.26" height="5.26" fill="#3f0000"/>
<rect x="815.8" y="189.06" width="5.26" height="5.26" fill="#540000"/>
<rect x="815.8" y="194.02" width="5.26" height="5.26" fill="#790000"/>
<rect x="815.8" y="198.98" width="5.26" height="5.26" fill="#a50000"/>
<rect x="815.8" y="203.94" width="5.26" height="5.26" fill="#c10000"/>
<rect x="815.8" y="208.9" width="5.26" height="5.26" fill="#b90000"/>
<rect x="815.8" y="213.86" width="5.26" height="5.26" fill="#940000"/>
<rect x="815.8" y="218.82" width="5.26" height="5.26" fill="#680000"/>
<rect x="815.8" y="223.78" width="5.26" height="5.26" fill="#570000"/>
<rect x="815.8" y="228.74" width="5.26" height="5.26" fill="#580000"/>
<rect x="815.8" y="233.7" width="5.26" height="5.26" fill="#560000"/>
<rect x="815.8" y="238.66" width="5.26" height="5.26" fill="#500000"/>
<rect x="815.8" y="243.62" width="5.26" height="5.26" fill="#490000"/>
<rect x="815.8" y="248.58" width="5.26" height="5.26" fill="#3c0000"/>
<rect x="815.8" y="253.54" width="5.26" height="5.26" fill="#2e0000"/>
<rect x="820.76" y="159.3" width="5.26" height="5.26" fill="#0e0000"/>
<rect x="820.76" y="164.26" width="5.26" height="5.26" fill="#150000"/>
<rect x="820.76" y="169.22" width="5.26" height="5.26" fill="#190000"/>
<rect x="820.76" y="174.18" width="5.26" height="5.26" fill="#1a0000"/>
<rect x="820.76" y="179.14" width="5.26" height="5.26" fill="#190000"/>
<rect x="820.76" y="184.1" width="5.26" height="5.26" fill="#190000"/>
<rect x="820.76" y="189.06" width="5.26" height="5.26" fill="#200000"/>
<rect x="820.76" y="194.02" width="5.26" height="5.26" fill="#2d0000"/>
<rect x="820.76" y="198.98" width="5.26" height="5.26" fill="#3c0000"/>
<rect x="820.76" y="203.94" width="5.26" height="5.26" fill="#460000"/>
<rect x="820.76" y="208.9" width="5.26" height="5.26" fill="#430000"/>
<rect x="820.76" y="213.86" width="5.26" height="5.26" fill="#360000"/>
<rect x="820.76" y="218.82" width="5.26" height="5.26" fill="#270000"/>
<rect x="820.76" y="223.78" width="5.26" height="5.26" fill="#1f0000"/>
<rect x="820.76" y="228.74" width="5.26" height="5.26" fill="#1f0000"/>
<rect x="820.76" y="233.7" width="5.26" height="5.26" fill="#1f0000"/>
<rect x="820.76" y="238.66" width="5.26" height="5.26" fill="#1d0000"/>
<rect x="820.76" y="243.62" width="5.26" height="5.26" fill="#1b0000"/>
<rect x="820.76" y="248.58" width="5.26" height="5.26" fill="#170000"/>
<rect x="820.76" y="253.54" width="5.26" height="5.26" fill="#120000"/>
<rect x="825.72" y="198.98" width="5.26" height="5.26" fill="#0b0000"/>
<rect x="825.72" y="203.94" width="5.26" height="5.26" fill="#0d0000"/>
<rect x="825.72" y="208.9" width="5.26" height="5.26" fill="#0c0000"/>
<rect x="825.72" y="213.86" width="5.26" height="5.26" fill="#090000"/>
<g filter="url(#hot)"><svg x="1087.2" y="159.3" width="99.2" height="99.2" viewBox="0 0 99.2 99.2"><rect width="99.2" height="99.2" fill="#000"/>
<rect width="99.2" height="99.2" fill="url(#bandg)"/>
<rect width="99.2" height="12" fill="url(#topg)"/>
<rect y="87.2" width="99.2" height="12" fill="url(#botg)"/>
<ellipse cx="10.5" cy="20" rx="21" ry="21" fill="url(#gw)" opacity="0.6"/>
<ellipse cx="10.5" cy="78" rx="22" ry="28" fill="url(#gw)" opacity="0.58"/>
<ellipse cx="14.5" cy="50.5" rx="24" ry="24" fill="url(#gw)" opacity="1"/>
</svg></g>
<rect x="723" y="150.5" width="14.2" height="13.7" stroke="#14e02e" stroke-width="1.35" stroke-dasharray="4 3" fill="none"/>
<path d="M737.2 150.5L890.2 159.3M723 164.2L791 258.5" stroke="#14e02e" stroke-width="1.35" stroke-dasharray="4 3" fill="none"/>
<rect x="1019.3" y="150.5" width="14.2" height="13.7" stroke="#14e02e" stroke-width="1.35" stroke-dasharray="4 3" fill="none"/>
<path d="M1033.5 150.5L1186.4 159.3M1019.3 164.2L1087.2 258.5" stroke="#14e02e" stroke-width="1.35" stroke-dasharray="4 3" fill="none"/>
<text x="87.5" y="386.2" font-size="15" text-anchor="start" fill="#151515">(c)</text>
<text x="256" y="395.7" font-size="15" text-anchor="middle" fill="#151515">Voxel</text>
<text x="638" y="395.7" font-size="14.9" text-anchor="middle" fill="#151515">Gaussian ball in form of point cloud</text>
<text x="1030" y="395.7" font-size="15" text-anchor="middle" fill="#151515">Gaussian ball in form of voxel grid</text>
<path d="M124.4 657L254.6 727.6M124.4 638.14L254.6 708.74M124.4 619.28L254.6 689.88M124.4 600.42L254.6 671.02M124.4 581.56L254.6 652.16M124.4 562.7L254.6 633.3M124.4 543.84L254.6 614.44M124.4 524.98L254.6 595.58M124.4 506.12L254.6 576.72M124.4 487.26L254.6 557.86M124.4 468.4L254.6 539M140.84 651.44L271.04 722.04M140.84 632.58L271.04 703.18M140.84 613.72L271.04 684.32M140.84 594.86L271.04 665.46M140.84 576L271.04 646.6M140.84 557.14L271.04 627.74M140.84 538.28L271.04 608.88M140.84 519.42L271.04 590.02M140.84 500.56L271.04 571.16M140.84 481.7L271.04 552.3M140.84 462.84L271.04 533.44M157.28 645.88L287.48 716.48M157.28 627.02L287.48 697.62M157.28 608.16L287.48 678.76M157.28 589.3L287.48 659.9M157.28 570.44L287.48 641.04M157.28 551.58L287.48 622.18M157.28 532.72L287.48 603.32M157.28 513.86L287.48 584.46M157.28 495L287.48 565.6M157.28 476.14L287.48 546.74M157.28 457.28L287.48 527.88M173.72 640.32L303.92 710.92M173.72 621.46L303.92 692.06M173.72 602.6L303.92 673.2M173.72 583.74L303.92 654.34M173.72 564.88L303.92 635.48M173.72 546.02L303.92 616.62M173.72 527.16L303.92 597.76M173.72 508.3L303.92 578.9M173.72 489.44L303.92 560.04M173.72 470.58L303.92 541.18M173.72 451.72L303.92 522.32M190.16 634.76L320.36 705.36M190.16 615.9L320.36 686.5M190.16 597.04L320.36 667.64M190.16 578.18L320.36 648.78M190.16 559.32L320.36 629.92M190.16 540.46L320.36 611.06M190.16 521.6L320.36 592.2M190.16 502.74L320.36 573.34M190.16 483.88L320.36 554.48M190.16 465.02L320.36 535.62M190.16 446.16L320.36 516.76M206.6 629.2L336.8 699.8M206.6 610.34L336.8 680.94M206.6 591.48L336.8 662.08M206.6 572.62L336.8 643.22M206.6 553.76L336.8 624.36M206.6 534.9L336.8 605.5M206.6 516.04L336.8 586.64M206.6 497.18L336.8 567.78M206.6 478.32L336.8 548.92M206.6 459.46L336.8 530.06M206.6 440.6L336.8 511.2M223.04 623.64L353.24 694.24M223.04 604.78L353.24 675.38M223.04 585.92L353.24 656.52M223.04 567.06L353.24 637.66M223.04 548.2L353.24 618.8M223.04 529.34L353.24 599.94M223.04 510.48L353.24 581.08M223.04 491.62L353.24 562.22M223.04 472.76L353.24 543.36M223.04 453.9L353.24 524.5M223.04 435.04L353.24 505.64M239.48 618.08L369.68 688.68M239.48 599.22L369.68 669.82M239.48 580.36L369.68 650.96M239.48 561.5L369.68 632.1M239.48 542.64L369.68 613.24M239.48 523.78L369.68 594.38M239.48 504.92L369.68 575.52M239.48 486.06L369.68 556.66M239.48 467.2L369.68 537.8M239.48 448.34L369.68 518.94M239.48 429.48L369.68 500.08M255.92 612.52L386.12 683.12M255.92 593.66L386.12 664.26M255.92 574.8L386.12 645.4M255.92 555.94L386.12 626.54M255.92 537.08L386.12 607.68M255.92 518.22L386.12 588.82M255.92 499.36L386.12 569.96M255.92 480.5L386.12 551.1M255.92 461.64L386.12 532.24M255.92 442.78L386.12 513.38M255.92 423.92L386.12 494.52M272.36 606.96L402.56 677.56M272.36 588.1L402.56 658.7M272.36 569.24L402.56 639.84M272.36 550.38L402.56 620.98M272.36 531.52L402.56 602.12M272.36 512.66L402.56 583.26M272.36 493.8L402.56 564.4M272.36 474.94L402.56 545.54M272.36 456.08L402.56 526.68M272.36 437.22L402.56 507.82M272.36 418.36L402.56 488.96M288.8 601.4L419 672M288.8 582.54L419 653.14M288.8 563.68L419 634.28M288.8 544.82L419 615.42M288.8 525.96L419 596.56M288.8 507.1L419 577.7M288.8 488.24L419 558.84M288.8 469.38L419 539.98M288.8 450.52L419 521.12M288.8 431.66L419 502.26M288.8 412.8L419 483.4M124.4 657L288.8 601.4M124.4 638.14L288.8 582.54M124.4 619.28L288.8 563.68M124.4 600.42L288.8 544.82M124.4 581.56L288.8 525.96M124.4 562.7L288.8 507.1M124.4 543.84L288.8 488.24M124.4 524.98L288.8 469.38M124.4 506.12L288.8 450.52M124.4 487.26L288.8 431.66M124.4 468.4L288.8 412.8M137.42 664.06L301.82 608.46M137.42 645.2L301.82 589.6M137.42 626.34L301.82 570.74M137.42 607.48L301.82 551.88M137.42 588.62L301.82 533.02M137.42 569.76L301.82 514.16M137.42 550.9L301.82 495.3M137.42 532.04L301.82 476.44M137.42 513.18L301.82 457.58M137.42 494.32L301.82 438.72M137.42 475.46L301.82 419.86M150.44 671.12L314.84 615.52M150.44 652.26L314.84 596.66M150.44 633.4L314.84 577.8M150.44 614.54L314.84 558.94M150.44 595.68L314.84 540.08M150.44 576.82L314.84 521.22M150.44 557.96L314.84 502.36M150.44 539.1L314.84 483.5M150.44 520.24L314.84 464.64M150.44 501.38L314.84 445.78M150.44 482.52L314.84 426.92M163.46 678.18L327.86 622.58M163.46 659.32L327.86 603.72M163.46 640.46L327.86 584.86M163.46 621.6L327.86 566M163.46 602.74L327.86 547.14M163.46 583.88L327.86 528.28M163.46 565.02L327.86 509.42M163.46 546.16L327.86 490.56M163.46 527.3L327.86 471.7M163.46 508.44L327.86 452.84M163.46 489.58L327.86 433.98M176.48 685.24L340.88 629.64M176.48 666.38L340.88 610.78M176.48 647.52L340.88 591.92M176.48 628.66L340.88 573.06M176.48 609.8L340.88 554.2M176.48 590.94L340.88 535.34M176.48 572.08L340.88 516.48M176.48 553.22L340.88 497.62M176.48 534.36L340.88 478.76M176.48 515.5L340.88 459.9M176.48 496.64L340.88 441.04M189.5 692.3L353.9 636.7M189.5 673.44L353.9 617.84M189.5 654.58L353.9 598.98M189.5 635.72L353.9 580.12M189.5 616.86L353.9 561.26M189.5 598L353.9 542.4M189.5 579.14L353.9 523.54M189.5 560.28L353.9 504.68M189.5 541.42L353.9 485.82M189.5 522.56L353.9 466.96M189.5 503.7L353.9 448.1M202.52 699.36L366.92 643.76M202.52 680.5L366.92 624.9M202.52 661.64L366.92 606.04M202.52 642.78L366.92 587.18M202.52 623.92L366.92 568.32M202.52 605.06L366.92 549.46M202.52 586.2L366.92 530.6M202.52 567.34L366.92 511.74M202.52 548.48L366.92 492.88M202.52 529.62L366.92 474.02M202.52 510.76L366.92 455.16M215.54 706.42L379.94 650.82M215.54 687.56L379.94 631.96M215.54 668.7L379.94 613.1M215.54 649.84L379.94 594.24M215.54 630.98L379.94 575.38M215.54 612.12L379.94 556.52M215.54 593.26L379.94 537.66M215.54 574.4L379.94 518.8M215.54 555.54L379.94 499.94M215.54 536.68L379.94 481.08M215.54 517.82L379.94 462.22M228.56 713.48L392.96 657.88M228.56 694.62L392.96 639.02M228.56 675.76L392.96 620.16M228.56 656.9L392.96 601.3M228.56 638.04L392.96 582.44M228.56 619.18L392.96 563.58M228.56 600.32L392.96 544.72M228.56 581.46L392.96 525.86M228.56 562.6L392.96 507M228.56 543.74L392.96 488.14M228.56 524.88L392.96 469.28M241.58 720.54L405.98 664.94M241.58 701.68L405.98 646.08M241.58 682.82L405.98 627.22M241.58 663.96L405.98 608.36M241.58 645.1L405.98 589.5M241.58 626.24L405.98 570.64M241.58 607.38L405.98 551.78M241.58 588.52L405.98 532.92M241.58 569.66L405.98 514.06M241.58 550.8L405.98 495.2M241.58 531.94L405.98 476.34M254.6 727.6L419 672M254.6 708.74L419 653.14M254.6 689.88L419 634.28M254.6 671.02L419 615.42M254.6 652.16L419 596.56M254.6 633.3L419 577.7M254.6 614.44L419 558.84M254.6 595.58L419 539.98M254.6 576.72L419 521.12M254.6 557.86L419 502.26M254.6 539L419 483.4" fill="none" stroke="#9e9e9e" stroke-width="0.5"/><path d="M124.4 657L124.4 468.4M140.84 651.44L140.84 462.84M157.28 645.88L157.28 457.28M173.72 640.32L173.72 451.72M190.16 634.76L190.16 446.16M206.6 629.2L206.6 440.6M223.04 623.64L223.04 435.04M239.48 618.08L239.48 429.48M255.92 612.52L255.92 423.92M272.36 606.96L272.36 418.36M288.8 601.4L288.8 412.8M137.42 664.06L137.42 475.46M153.86 658.5L153.86 469.9M170.3 652.94L170.3 464.34M186.74 647.38L186.74 458.78M203.18 641.82L203.18 453.22M219.62 636.26L219.62 447.66M236.06 630.7L236.06 442.1M252.5 625.14L252.5 436.54M268.94 619.58L268.94 430.98M285.38 614.02L285.38 425.42M301.82 608.46L301.82 419.86M150.44 671.12L150.44 482.52M166.88 665.56L166.88 476.96M183.32 660L183.32 471.4M199.76 654.44L199.76 465.84M216.2 648.88L216.2 460.28M232.64 643.32L232.64 454.72M249.08 637.76L249.08 449.16M265.52 632.2L265.52 443.6M281.96 626.64L281.96 438.04M298.4 621.08L298.4 432.48M314.84 615.52L314.84 426.92M163.46 678.18L163.46 489.58M179.9 672.62L179.9 484.02M196.34 667.06L196.34 478.46M212.78 661.5L212.78 472.9M229.22 655.94L229.22 467.34M245.66 650.38L245.66 461.78M262.1 644.82L262.1 456.22M278.54 639.26L278.54 450.66M294.98 633.7L294.98 445.1M311.42 628.14L311.42 439.54M327.86 622.58L327.86 433.98M176.48 685.24L176.48 496.64M192.92 679.68L192.92 491.08M209.36 674.12L209.36 485.52M225.8 668.56L225.8 479.96M242.24 663L242.24 474.4M258.68 657.44L258.68 468.84M275.12 651.88L275.12 463.28M291.56 646.32L291.56 457.72M308 640.76L308 452.16M324.44 635.2L324.44 446.6M340.88 629.64L340.88 441.04M189.5 692.3L189.5 503.7M205.94 686.74L205.94 498.14M222.38 681.18L222.38 492.58M238.82 675.62L238.82 487.02M255.26 670.06L255.26 481.46M271.7 664.5L271.7 475.9M288.14 658.94L288.14 470.34M304.58 653.38L304.58 464.78M321.02 647.82L321.02 459.22M337.46 642.26L337.46 453.66M353.9 636.7L353.9 448.1M202.52 699.36L202.52 510.76M218.96 693.8L218.96 505.2M235.4 688.24L235.4 499.64M251.84 682.68L251.84 494.08M268.28 677.12L268.28 488.52M284.72 671.56L284.72 482.96M301.16 666L301.16 477.4M317.6 660.44L317.6 471.84M334.04 654.88L334.04 466.28M350.48 649.32L350.48 460.72M366.92 643.76L366.92 455.16M215.54 706.42L215.54 517.82M231.98 700.86L231.98 512.26M248.42 695.3L248.42 506.7M264.86 689.74L264.86 501.14M281.3 684.18L281.3 495.58M297.74 678.62L297.74 490.02M314.18 673.06L314.18 484.46M330.62 667.5L330.62 478.9M347.06 661.94L347.06 473.34M363.5 656.38L363.5 467.78M379.94 650.82L379.94 462.22M228.56 713.48L228.56 524.88M245 707.92L245 519.32M261.44 702.36L261.44 513.76M277.88 696.8L277.88 508.2M294.32 691.24L294.32 502.64M310.76 685.68L310.76 497.08M327.2 680.12L327.2 491.52M343.64 674.56L343.64 485.96M360.08 669L360.08 480.4M376.52 663.44L376.52 474.84M392.96 657.88L392.96 469.28M241.58 720.54L241.58 531.94M258.02 714.98L258.02 526.38M274.46 709.42L274.46 520.82M290.9 703.86L290.9 515.26M307.34 698.3L307.34 509.7M323.78 692.74L323.78 504.14M340.22 687.18L340.22 498.58M356.66 681.62L356.66 493.02M373.1 676.06L373.1 487.46M389.54 670.5L389.54 481.9M405.98 664.94L405.98 476.34M254.6 727.6L254.6 539M271.04 722.04L271.04 533.44M287.48 716.48L287.48 527.88M303.92 710.92L303.92 522.32M320.36 705.36L320.36 516.76M336.8 699.8L336.8 511.2M353.24 694.24L353.24 505.64M369.68 688.68L369.68 500.08M386.12 683.12L386.12 494.52M402.56 677.56L402.56 488.96M419 672L419 483.4" fill="none" stroke="#8c8c8c" stroke-width="0.6"/>
<path d="M124.4 468.4L124.4 657L254.6 727.6L419 672L419 483.4L288.8 412.8L124.4 468.4M124.4 657L288.8 601.4L419 672M288.8 601.4L288.8 412.8" fill="none" stroke="#2a2a2a" stroke-width="1" stroke-linejoin="round"/>
<path d="M900.8 655.6L1030.4 727.1M900.8 636.74L1030.4 708.24M900.8 617.88L1030.4 689.38M900.8 599.02L1030.4 670.52M900.8 580.16L1030.4 651.66M900.8 561.3L1030.4 632.8M900.8 542.44L1030.4 613.94M900.8 523.58L1030.4 595.08M900.8 504.72L1030.4 576.22M900.8 485.86L1030.4 557.36M900.8 467L1030.4 538.5M917.22 650.03L1046.82 721.53M917.22 631.17L1046.82 702.67M917.22 612.31L1046.82 683.81M917.22 593.45L1046.82 664.95M917.22 574.59L1046.82 646.09M917.22 555.73L1046.82 627.23M917.22 536.87L1046.82 608.37M917.22 518.01L1046.82 589.51M917.22 499.15L1046.82 570.65M917.22 480.29L1046.82 551.79M917.22 461.43L1046.82 532.93M933.64 644.46L1063.24 715.96M933.64 625.6L1063.24 697.1M933.64 606.74L1063.24 678.24M933.64 587.88L1063.24 659.38M933.64 569.02L1063.24 640.52M933.64 550.16L1063.24 621.66M933.64 531.3L1063.24 602.8M933.64 512.44L1063.24 583.94M933.64 493.58L1063.24 565.08M933.64 474.72L1063.24 546.22M933.64 455.86L1063.24 527.36M950.06 638.89L1079.66 710.39M950.06 620.03L1079.66 691.53M950.06 601.17L1079.66 672.67M950.06 582.31L1079.66 653.81M950.06 563.45L1079.66 634.95M950.06 544.59L1079.66 616.09M950.06 525.73L1079.66 597.23M950.06 506.87L1079.66 578.37M950.06 488.01L1079.66 559.51M950.06 469.15L1079.66 540.65M950.06 450.29L1079.66 521.79M966.48 633.32L1096.08 704.82M966.48 614.46L1096.08 685.96M966.48 595.6L1096.08 667.1M966.48 576.74L1096.08 648.24M966.48 557.88L1096.08 629.38M966.48 539.02L1096.08 610.52M966.48 520.16L1096.08 591.66M966.48 501.3L1096.08 572.8M966.48 482.44L1096.08 553.94M966.48 463.58L1096.08 535.08M966.48 444.72L1096.08 516.22M982.9 627.75L1112.5 699.25M982.9 608.89L1112.5 680.39M982.9 590.03L1112.5 661.53M982.9 571.17L1112.5 642.67M982.9 552.31L1112.5 623.81M982.9 533.45L1112.5 604.95M982.9 514.59L1112.5 586.09M982.9 495.73L1112.5 567.23M982.9 476.87L1112.5 548.37M982.9 458.01L1112.5 529.51M982.9 439.15L1112.5 510.65M999.32 622.18L1128.92 693.68M999.32 603.32L1128.92 674.82M999.32 584.46L1128.92 655.96M999.32 565.6L1128.92 637.1M999.32 546.74L1128.92 618.24M999.32 527.88L1128.92 599.38M999.32 509.02L1128.92 580.52M999.32 490.16L1128.92 561.66M999.32 471.3L1128.92 542.8M999.32 452.44L1128.92 523.94M999.32 433.58L1128.92 505.08M1015.74 616.61L1145.34 688.11M1015.74 597.75L1145.34 669.25M1015.74 578.89L1145.34 650.39M1015.74 560.03L1145.34 631.53M1015.74 541.17L1145.34 612.67M1015.74 522.31L1145.34 593.81M1015.74 503.45L1145.34 574.95M1015.74 484.59L1145.34 556.09M1015.74 465.73L1145.34 537.23M1015.74 446.87L1145.34 518.37M1015.74 428.01L1145.34 499.51M1032.16 611.04L1161.76 682.54M1032.16 592.18L1161.76 663.68M1032.16 573.32L1161.76 644.82M1032.16 554.46L1161.76 625.96M1032.16 535.6L1161.76 607.1M1032.16 516.74L1161.76 588.24M1032.16 497.88L1161.76 569.38M1032.16 479.02L1161.76 550.52M1032.16 460.16L1161.76 531.66M1032.16 441.3L1161.76 512.8M1032.16 422.44L1161.76 493.94M1048.58 605.47L1178.18 676.97M1048.58 586.61L1178.18 658.11M1048.58 567.75L1178.18 639.25M1048.58 548.89L1178.18 620.39M1048.58 530.03L1178.18 601.53M1048.58 511.17L1178.18 582.67M1048.58 492.31L1178.18 563.81M1048.58 473.45L1178.18 544.95M1048.58 454.59L1178.18 526.09M1048.58 435.73L1178.18 507.23M1048.58 416.87L1178.18 488.37M1065 599.9L1194.6 671.4M1065 581.04L1194.6 652.54M1065 562.18L1194.6 633.68M1065 543.32L1194.6 614.82M1065 524.46L1194.6 595.96M1065 505.6L1194.6 577.1M1065 486.74L1194.6 558.24M1065 467.88L1194.6 539.38M1065 449.02L1194.6 520.52M1065 430.16L1194.6 501.66M1065 411.3L1194.6 482.8M900.8 655.6L1065 599.9M900.8 636.74L1065 581.04M900.8 617.88L1065 562.18M900.8 599.02L1065 543.32M900.8 580.16L1065 524.46M900.8 561.3L1065 505.6M900.8 542.44L1065 486.74M900.8 523.58L1065 467.88M900.8 504.72L1065 449.02M900.8 485.86L1065 430.16M900.8 467L1065 411.3M913.76 662.75L1077.96 607.05M913.76 643.89L1077.96 588.19M913.76 625.03L1077.96 569.33M913.76 606.17L1077.96 550.47M913.76 587.31L1077.96 531.61M913.76 568.45L1077.96 512.75M913.76 549.59L1077.96 493.89M913.76 530.73L1077.96 475.03M913.76 511.87L1077.96 456.17M913.76 493.01L1077.96 437.31M913.76 474.15L1077.96 418.45M926.72 669.9L1090.92 614.2M926.72 651.04L1090.92 595.34M926.72 632.18L1090.92 576.48M926.72 613.32L1090.92 557.62M926.72 594.46L1090.92 538.76M926.72 575.6L1090.92 519.9M926.72 556.74L1090.92 501.04M926.72 537.88L1090.92 482.18M926.72 519.02L1090.92 463.32M926.72 500.16L1090.92 444.46M926.72 481.3L1090.92 425.6M939.68 677.05L1103.88 621.35M939.68 658.19L1103.88 602.49M939.68 639.33L1103.88 583.63M939.68 620.47L1103.88 564.77M939.68 601.61L1103.88 545.91M939.68 582.75L1103.88 527.05M939.68 563.89L1103.88 508.19M939.68 545.03L1103.88 489.33M939.68 526.17L1103.88 470.47M939.68 507.31L1103.88 451.61M939.68 488.45L1103.88 432.75M952.64 684.2L1116.84 628.5M952.64 665.34L1116.84 609.64M952.64 646.48L1116.84 590.78M952.64 627.62L1116.84 571.92M952.64 608.76L1116.84 553.06M952.64 589.9L1116.84 534.2M952.64 571.04L1116.84 515.34M952.64 552.18L1116.84 496.48M952.64 533.32L1116.84 477.62M952.64 514.46L1116.84 458.76M952.64 495.6L1116.84 439.9M965.6 691.35L1129.8 635.65M965.6 672.49L1129.8 616.79M965.6 653.63L1129.8 597.93M965.6 634.77L1129.8 579.07M965.6 615.91L1129.8 560.21M965.6 597.05L1129.8 541.35M965.6 578.19L1129.8 522.49M965.6 559.33L1129.8 503.63M965.6 540.47L1129.8 484.77M965.6 521.61L1129.8 465.91M965.6 502.75L1129.8 447.05M978.56 698.5L1142.76 642.8M978.56 679.64L1142.76 623.94M978.56 660.78L1142.76 605.08M978.56 641.92L1142.76 586.22M978.56 623.06L1142.76 567.36M978.56 604.2L1142.76 548.5M978.56 585.34L1142.76 529.64M978.56 566.48L1142.76 510.78M978.56 547.62L1142.76 491.92M978.56 528.76L1142.76 473.06M978.56 509.9L1142.76 454.2M991.52 705.65L1155.72 649.95M991.52 686.79L1155.72 631.09M991.52 667.93L1155.72 612.23M991.52 649.07L1155.72 593.37M991.52 630.21L1155.72 574.51M991.52 611.35L1155.72 555.65M991.52 592.49L1155.72 536.79M991.52 573.63L1155.72 517.93M991.52 554.77L1155.72 499.07M991.52 535.91L1155.72 480.21M991.52 517.05L1155.72 461.35M1004.48 712.8L1168.68 657.1M1004.48 693.94L1168.68 638.24M1004.48 675.08L1168.68 619.38M1004.48 656.22L1168.68 600.52M1004.48 637.36L1168.68 581.66M1004.48 618.5L1168.68 562.8M1004.48 599.64L1168.68 543.94M1004.48 580.78L1168.68 525.08M1004.48 561.92L1168.68 506.22M1004.48 543.06L1168.68 487.36M1004.48 524.2L1168.68 468.5M1017.44 719.95L1181.64 664.25M1017.44 701.09L1181.64 645.39M1017.44 682.23L1181.64 626.53M1017.44 663.37L1181.64 607.67M1017.44 644.51L1181.64 588.81M1017.44 625.65L1181.64 569.95M1017.44 606.79L1181.64 551.09M1017.44 587.93L1181.64 532.23M1017.44 569.07L1181.64 513.37M1017.44 550.21L1181.64 494.51M1017.44 531.35L1181.64 475.65M1030.4 727.1L1194.6 671.4M1030.4 708.24L1194.6 652.54M1030.4 689.38L1194.6 633.68M1030.4 670.52L1194.6 614.82M1030.4 651.66L1194.6 595.96M1030.4 632.8L1194.6 577.1M1030.4 613.94L1194.6 558.24M1030.4 595.08L1194.6 539.38M1030.4 576.22L1194.6 520.52M1030.4 557.36L1194.6 501.66M1030.4 538.5L1194.6 482.8" fill="none" stroke="#9e9e9e" stroke-width="0.5"/><path d="M900.8 655.6L900.8 467M917.22 650.03L917.22 461.43M933.64 644.46L933.64 455.86M950.06 638.89L950.06 450.29M966.48 633.32L966.48 444.72M982.9 627.75L982.9 439.15M999.32 622.18L999.32 433.58M1015.74 616.61L1015.74 428.01M1032.16 611.04L1032.16 422.44M1048.58 605.47L1048.58 416.87M1065 599.9L1065 411.3M913.76 662.75L913.76 474.15M930.18 657.18L930.18 468.58M946.6 651.61L946.6 463.01M963.02 646.04L963.02 457.44M979.44 640.47L979.44 451.87M995.86 634.9L995.86 446.3M1012.28 629.33L1012.28 440.73M1028.7 623.76L1028.7 435.16M1045.12 618.19L1045.12 429.59M1061.54 612.62L1061.54 424.02M1077.96 607.05L1077.96 418.45M926.72 669.9L926.72 481.3M943.14 664.33L943.14 475.73M959.56 658.76L959.56 470.16M975.98 653.19L975.98 464.59M992.4 647.62L992.4 459.02M1008.82 642.05L1008.82 453.45M1025.24 636.48L1025.24 447.88M1041.66 630.91L1041.66 442.31M1058.08 625.34L1058.08 436.74M1074.5 619.77L1074.5 431.17M1090.92 614.2L1090.92 425.6M939.68 677.05L939.68 488.45M956.1 671.48L956.1 482.88M972.52 665.91L972.52 477.31M988.94 660.34L988.94 471.74M1005.36 654.77L1005.36 466.17M1021.78 649.2L1021.78 460.6M1038.2 643.63L1038.2 455.03M1054.62 638.06L1054.62 449.46M1071.04 632.49L1071.04 443.89M1087.46 626.92L1087.46 438.32M1103.88 621.35L1103.88 432.75M952.64 684.2L952.64 495.6M969.06 678.63L969.06 490.03M985.48 673.06L985.48 484.46M1001.9 667.49L1001.9 478.89M1018.32 661.92L1018.32 473.32M1034.74 656.35L1034.74 467.75M1051.16 650.78L1051.16 462.18M1067.58 645.21L1067.58 456.61M1084 639.64L1084 451.04M1100.42 634.07L1100.42 445.47M1116.84 628.5L1116.84 439.9M965.6 691.35L965.6 502.75M982.02 685.78L982.02 497.18M998.44 680.21L998.44 491.61M1014.86 674.64L1014.86 486.04M1031.28 669.07L1031.28 480.47M1047.7 663.5L1047.7 474.9M1064.12 657.93L1064.12 469.33M1080.54 652.36L1080.54 463.76M1096.96 646.79L1096.96 458.19M1113.38 641.22L1113.38 452.62M1129.8 635.65L1129.8 447.05M978.56 698.5L978.56 509.9M994.98 692.93L994.98 504.33M1011.4 687.36L1011.4 498.76M1027.82 681.79L1027.82 493.19M1044.24 676.22L1044.24 487.62M1060.66 670.65L1060.66 482.05M1077.08 665.08L1077.08 476.48M1093.5 659.51L1093.5 470.91M1109.92 653.94L1109.92 465.34M1126.34 648.37L1126.34 459.77M1142.76 642.8L1142.76 454.2M991.52 705.65L991.52 517.05M1007.94 700.08L1007.94 511.48M1024.36 694.51L1024.36 505.91M1040.78 688.94L1040.78 500.34M1057.2 683.37L1057.2 494.77M1073.62 677.8L1073.62 489.2M1090.04 672.23L1090.04 483.63M1106.46 666.66L1106.46 478.06M1122.88 661.09L1122.88 472.49M1139.3 655.52L1139.3 466.92M1155.72 649.95L1155.72 461.35M1004.48 712.8L1004.48 524.2M1020.9 707.23L1020.9 518.63M1037.32 701.66L1037.32 513.06M1053.74 696.09L1053.74 507.49M1070.16 690.52L1070.16 501.92M1086.58 684.95L1086.58 496.35M1103 679.38L1103 490.78M1119.42 673.81L1119.42 485.21M1135.84 668.24L1135.84 479.64M1152.26 662.67L1152.26 474.07M1168.68 657.1L1168.68 468.5M1017.44 719.95L1017.44 531.35M1033.86 714.38L1033.86 525.78M1050.28 708.81L1050.28 520.21M1066.7 703.24L1066.7 514.64M1083.12 697.67L1083.12 509.07M1099.54 692.1L1099.54 503.5M1115.96 686.53L1115.96 497.93M1132.38 680.96L1132.38 492.36M1148.8 675.39L1148.8 486.79M1165.22 669.82L1165.22 481.22M1181.64 664.25L1181.64 475.65M1030.4 727.1L1030.4 538.5M1046.82 721.53L1046.82 532.93M1063.24 715.96L1063.24 527.36M1079.66 710.39L1079.66 521.79M1096.08 704.82L1096.08 516.22M1112.5 699.25L1112.5 510.65M1128.92 693.68L1128.92 505.08M1145.34 688.11L1145.34 499.51M1161.76 682.54L1161.76 493.94M1178.18 676.97L1178.18 488.37M1194.6 671.4L1194.6 482.8" fill="none" stroke="#8c8c8c" stroke-width="0.6"/>
<path d="M900.8 467L900.8 655.6L1030.4 727.1L1194.6 671.4L1194.6 482.8L1065 411.3L900.8 467M900.8 655.6L1065 599.9L1194.6 671.4M1065 599.9L1065 411.3" fill="none" stroke="#2a2a2a" stroke-width="1" stroke-linejoin="round"/>
<path d="M190.16 634.76L203.18 641.82L203.18 622.96L190.16 615.9Z" fill="url(#cy)" stroke="#2a2a2a" stroke-width="0.6" stroke-linejoin="round"/><path d="M203.18 641.82L219.62 636.26L219.62 617.4L203.18 622.96Z" fill="url(#cx)" stroke="#2a2a2a" stroke-width="0.6" stroke-linejoin="round"/><path d="M190.16 615.9L203.18 622.96L219.62 617.4L206.6 610.34Z" fill="url(#ct)" stroke="#2a2a2a" stroke-width="0.6" stroke-linejoin="round"/><path d="M206.6 629.2L219.62 636.26M206.6 629.2L190.16 634.76M206.6 629.2L206.6 610.34" fill="none" stroke="rgba(30,70,70,0.38)" stroke-width="0.5"/>
<path d="M203.18 641.82L216.2 648.88L216.2 630.02L203.18 622.96Z" fill="url(#cy)" stroke="#2a2a2a" stroke-width="0.6" stroke-linejoin="round"/><path d="M216.2 648.88L232.64 643.32L232.64 624.46L216.2 630.02Z" fill="url(#cx)" stroke="#2a2a2a" stroke-width="0.6" stroke-linejoin="round"/><path d="M203.18 622.96L216.2 630.02L232.64 624.46L219.62 617.4Z" fill="url(#ct)" stroke="#2a2a2a" stroke-width="0.6" stroke-linejoin="round"/><path d="M219.62 636.26L232.64 643.32M219.62 636.26L203.18 641.82M219.62 636.26L219.62 617.4" fill="none" stroke="rgba(30,70,70,0.38)" stroke-width="0.5"/>
<path d="M216.2 648.88L229.22 655.94L229.22 637.08L216.2 630.02Z" fill="url(#cy)" stroke="#2a2a2a" stroke-width="0.6" stroke-linejoin="round"/><path d="M229.22 655.94L245.66 650.38L245.66 631.52L229.22 637.08Z" fill="url(#cx)" stroke="#2a2a2a" stroke-width="0.6" stroke-linejoin="round"/><path d="M216.2 630.02L229.22 637.08L245.66 631.52L232.64 624.46Z" fill="url(#ct)" stroke="#2a2a2a" stroke-width="0.6" stroke-linejoin="round"/><path d="M232.64 643.32L245.66 650.38M232.64 643.32L216.2 648.88M232.64 643.32L232.64 624.46" fill="none" stroke="rgba(30,70,70,0.38)" stroke-width="0.5"/>
<path d="M229.22 655.94L242.24 663L242.24 644.14L229.22 637.08Z" fill="url(#cy)" stroke="#2a2a2a" stroke-width="0.6" stroke-linejoin="round"/><path d="M242.24 663L258.68 657.44L258.68 638.58L242.24 644.14Z" fill="url(#cx)" stroke="#2a2a2a" stroke-width="0.6" stroke-linejoin="round"/><path d="M229.22 637.08L242.24 644.14L258.68 638.58L245.66 631.52Z" fill="url(#ct)" stroke="#2a2a2a" stroke-width="0.6" stroke-linejoin="round"/><path d="M245.66 650.38L258.68 657.44M245.66 650.38L229.22 655.94M245.66 650.38L245.66 631.52" fill="none" stroke="rgba(30,70,70,0.38)" stroke-width="0.5"/>
<path d="M242.24 663L255.26 670.06L255.26 651.2L242.24 644.14Z" fill="url(#cy)" stroke="#2a2a2a" stroke-width="0.6" stroke-linejoin="round"/><path d="M255.26 670.06L271.7 664.5L271.7 645.64L255.26 651.2Z" fill="url(#cx)" stroke="#2a2a2a" stroke-width="0.6" stroke-linejoin="round"/><path d="M242.24 644.14L255.26 651.2L271.7 645.64L258.68 638.58Z" fill="url(#ct)" stroke="#2a2a2a" stroke-width="0.6" stroke-linejoin="round"/><path d="M258.68 657.44L271.7 664.5M258.68 657.44L242.24 663M258.68 657.44L258.68 638.58" fill="none" stroke="rgba(30,70,70,0.38)" stroke-width="0.5"/>
<path d="M255.26 670.06L268.28 677.12L268.28 658.26L255.26 651.2Z" fill="url(#cy)" stroke="#2a2a2a" stroke-width="0.6" stroke-linejoin="round"/><path d="M268.28 677.12L284.72 671.56L284.72 652.7L268.28 658.26Z" fill="url(#cx)" stroke="#2a2a2a" stroke-width="0.6" stroke-linejoin="round"/><path d="M255.26 651.2L268.28 658.26L284.72 652.7L271.7 645.64Z" fill="url(#ct)" stroke="#2a2a2a" stroke-width="0.6" stroke-linejoin="round"/><path d="M271.7 664.5L284.72 671.56M271.7 664.5L255.26 670.06M271.7 664.5L271.7 645.64" fill="none" stroke="rgba(30,70,70,0.38)" stroke-width="0.5"/>
<path d="M268.28 677.12L281.3 684.18L281.3 665.32L268.28 658.26Z" fill="url(#cy)" stroke="#2a2a2a" stroke-width="0.6" stroke-linejoin="round"/><path d="M281.3 684.18L297.74 678.62L297.74 659.76L281.3 665.32Z" fill="url(#cx)" stroke="#2a2a2a" stroke-width="0.6" stroke-linejoin="round"/><path d="M268.28 658.26L281.3 665.32L297.74 659.76L284.72 652.7Z" fill="url(#ct)" stroke="#2a2a2a" stroke-width="0.6" stroke-linejoin="round"/><path d="M284.72 671.56L297.74 678.62M284.72 671.56L268.28 677.12M284.72 671.56L284.72 652.7" fill="none" stroke="rgba(30,70,70,0.38)" stroke-width="0.5"/>
<path d="M281.3 684.18L294.32 691.24L294.32 672.38L281.3 665.32Z" fill="#0a0aa0" stroke="#101050" stroke-width="0.6" stroke-linejoin="round"/><path d="M294.32 691.24L310.76 685.68L310.76 666.82L294.32 672.38Z" fill="#2020e6" stroke="#101050" stroke-width="0.6" stroke-linejoin="round"/><path d="M281.3 665.32L294.32 672.38L310.76 666.82L297.74 659.76Z" fill="#1414c8" stroke="#101050" stroke-width="0.6" stroke-linejoin="round"/>
<path d="M173.72 640.32L186.74 647.38L186.74 628.52L173.72 621.46Z" fill="url(#cy)" stroke="#2a2a2a" stroke-width="0.6" stroke-linejoin="round"/><path d="M186.74 647.38L203.18 641.82L203.18 622.96L186.74 628.52Z" fill="url(#cx)" stroke="#2a2a2a" stroke-width="0.6" stroke-linejoin="round"/><path d="M173.72 621.46L186.74 628.52L203.18 622.96L190.16 615.9Z" fill="url(#ct)" stroke="#2a2a2a" stroke-width="0.6" stroke-linejoin="round"/><path d="M190.16 634.76L203.18 641.82M190.16 634.76L173.72 640.32M190.16 634.76L190.16 615.9" fill="none" stroke="rgba(30,70,70,0.38)" stroke-width="0.5"/>
<path d="M186.74 647.38L199.76 654.44L199.76 635.58L186.74 628.52Z" fill="url(#cy)" stroke="#2a2a2a" stroke-width="0.6" stroke-linejoin="round"/><path d="M199.76 654.44L216.2 648.88L216.2 630.02L199.76 635.58Z" fill="url(#cx)" stroke="#2a2a2a" stroke-width="0.6" stroke-linejoin="round"/><path d="M186.74 628.52L199.76 635.58L216.2 630.02L203.18 622.96Z" fill="url(#ct)" stroke="#2a2a2a" stroke-width="0.6" stroke-linejoin="round"/><path d="M203.18 641.82L216.2 648.88M203.18 641.82L186.74 647.38M203.18 641.82L203.18 622.96" fill="none" stroke="rgba(30,70,70,0.38)" stroke-width="0.5"/>
<path d="M199.76 654.44L212.78 661.5L212.78 642.64L199.76 635.58Z" fill="url(#cy)" stroke="#2a2a2a" stroke-width="0.6" stroke-linejoin="round"/><path d="M212.78 661.5L229.22 655.94L229.22 637.08L212.78 642.64Z" fill="url(#cx)" stroke="#2a2a2a" stroke-width="0.6" stroke-linejoin="round"/><path d="M199.76 635.58L212.78 642.64L229.22 637.08L216.2 630.02Z" fill="url(#ct)" stroke="#2a2a2a" stroke-width="0.6" stroke-linejoin="round"/><path d="M216.2 648.88L229.22 655.94M216.2 648.88L199.76 654.44M216.2 648.88L216.2 630.02" fill="none" stroke="rgba(30,70,70,0.38)" stroke-width="0.5"/>
<path d="M212.78 661.5L225.8 668.56L225.8 649.7L212.78 642.64Z" fill="url(#cy)" stroke="#2a2a2a" stroke-width="0.6" stroke-linejoin="round"/><path d="M225.8 668.56L242.24 663L242.24 644.14L225.8 649.7Z" fill="url(#cx)" stroke="#2a2a2a" stroke-width="0.6" stroke-linejoin="round"/><path d="M212.78 642.64L225.8 649.7L242.24 644.14L229.22 637.08Z" fill="url(#ct)" stroke="#2a2a2a" stroke-width="0.6" stroke-linejoin="round"/><path d="M229.22 655.94L242.24 663M229.22 655.94L212.78 661.5M229.22 655.94L229.22 637.08" fill="none" stroke="rgba(30,70,70,0.38)" stroke-width="0.5"/>
<path d="M225.8 668.56L238.82 675.62L238.82 656.76L225.8 649.7Z" fill="url(#cy)" stroke="#2a2a2a" stroke-width="0.6" stroke-linejoin="round"/><path d="M238.82 675.62L255.26 670.06L255.26 651.2L238.82 656.76Z" fill="url(#cx)" stroke="#2a2a2a" stroke-width="0.6" stroke-linejoin="round"/><path d="M225.8 649.7L238.82 656.76L255.26 651.2L242.24 644.14Z" fill="url(#ct)" stroke="#2a2a2a" stroke-width="0.6" stroke-linejoin="round"/><path d="M242.24 663L255.26 670.06M242.24 663L225.8 668.56M242.24 663L242.24 644.14" fill="none" stroke="rgba(30,70,70,0.38)" stroke-width="0.5"/>
<path d="M238.82 675.62L251.84 682.68L251.84 663.82L238.82 656.76Z" fill="url(#cy)" stroke="#2a2a2a" stroke-width="0.6" stroke-linejoin="round"/><path d="M251.84 682.68L268.28 677.12L268.28 658.26L251.84 663.82Z" fill="url(#cx)" stroke="#2a2a2a" stroke-width="0.6" stroke-linejoin="round"/><path d="M238.82 656.76L251.84 663.82L268.28 658.26L255.26 651.2Z" fill="url(#ct)" stroke="#2a2a2a" stroke-width="0.6" stroke-linejoin="round"/><path d="M255.26 670.06L268.28 677.12M255.26 670.06L238.82 675.62M255.26 670.06L255.26 651.2" fill="none" stroke="rgba(30,70,70,0.38)" stroke-width="0.5"/>
<path d="M251.84 682.68L264.86 689.74L264.86 670.88L251.84 663.82Z" fill="url(#cy)" stroke="#2a2a2a" stroke-width="0.6" stroke-linejoin="round"/><path d="M264.86 689.74L281.3 684.18L281.3 665.32L264.86 670.88Z" fill="url(#cx)" stroke="#2a2a2a" stroke-width="0.6" stroke-linejoin="round"/><path d="M251.84 663.82L264.86 670.88L281.3 665.32L268.28 658.26Z" fill="url(#ct)" stroke="#2a2a2a" stroke-width="0.6" stroke-linejoin="round"/><path d="M268.28 677.12L281.3 684.18M268.28 677.12L251.84 682.68M268.28 677.12L268.28 658.26" fill="none" stroke="rgba(30,70,70,0.38)" stroke-width="0.5"/>
<path d="M264.86 689.74L277.88 696.8L277.88 677.94L264.86 670.88Z" fill="url(#cy)" stroke="#2a2a2a" stroke-width="0.6" stroke-linejoin="round"/><path d="M277.88 696.8L294.32 691.24L294.32 672.38L277.88 677.94Z" fill="url(#cx)" stroke="#2a2a2a" stroke-width="0.6" stroke-linejoin="round"/><path d="M264.86 670.88L277.88 677.94L294.32 672.38L281.3 665.32Z" fill="url(#ct)" stroke="#2a2a2a" stroke-width="0.6" stroke-linejoin="round"/><path d="M281.3 684.18L294.32 691.24M281.3 684.18L264.86 689.74M281.3 684.18L281.3 665.32" fill="none" stroke="rgba(30,70,70,0.38)" stroke-width="0.5"/>
<path d="M277.88 696.8L290.9 703.86L290.9 685L277.88 677.94Z" fill="url(#cy)" stroke="#2a2a2a" stroke-width="0.6" stroke-linejoin="round"/><path d="M290.9 703.86L307.34 698.3L307.34 679.44L290.9 685Z" fill="url(#cx)" stroke="#2a2a2a" stroke-width="0.6" stroke-linejoin="round"/><path d="M277.88 677.94L290.9 685L307.34 679.44L294.32 672.38Z" fill="url(#ct)" stroke="#2a2a2a" stroke-width="0.6" stroke-linejoin="round"/><path d="M294.32 691.24L307.34 698.3M294.32 691.24L277.88 696.8M294.32 691.24L294.32 672.38" fill="none" stroke="rgba(30,70,70,0.38)" stroke-width="0.5"/>
<path d="M290.9 703.86L303.92 710.92L303.92 692.06L290.9 685Z" fill="url(#cy)" stroke="#2a2a2a" stroke-width="0.6" stroke-linejoin="round"/><path d="M303.92 710.92L320.36 705.36L320.36 686.5L303.92 692.06Z" fill="url(#cx)" stroke="#2a2a2a" stroke-width="0.6" stroke-linejoin="round"/><path d="M290.9 685L303.92 692.06L320.36 686.5L307.34 679.44Z" fill="url(#ct)" stroke="#2a2a2a" stroke-width="0.6" stroke-linejoin="round"/><path d="M307.34 698.3L320.36 705.36M307.34 698.3L290.9 703.86M307.34 698.3L307.34 679.44" fill="none" stroke="rgba(30,70,70,0.38)" stroke-width="0.5"/>
<path d="M157.28 645.88L170.3 652.94L170.3 634.08L157.28 627.02Z" fill="url(#cy)" stroke="#2a2a2a" stroke-width="0.6" stroke-linejoin="round"/><path d="M170.3 652.94L186.74 647.38L186.74 628.52L170.3 634.08Z" fill="url(#cx)" stroke="#2a2a2a" stroke-width="0.6" stroke-linejoin="round"/><path d="M157.28 627.02L170.3 634.08L186.74 628.52L173.72 621.46Z" fill="url(#ct)" stroke="#2a2a2a" stroke-width="0.6" stroke-linejoin="round"/><path d="M173.72 640.32L186.74 647.38M173.72 640.32L157.28 645.88M173.72 640.32L173.72 621.46" fill="none" stroke="rgba(30,70,70,0.38)" stroke-width="0.5"/>
<path d="M170.3 652.94L183.32 660L183.32 641.14L170.3 634.08Z" fill="url(#cy)" stroke="#2a2a2a" stroke-width="0.6" stroke-linejoin="round"/><path d="M183.32 660L199.76 654.44L199.76 635.58L183.32 641.14Z" fill="url(#cx)" stroke="#2a2a2a" stroke-width="0.6" stroke-linejoin="round"/><path d="M170.3 634.08L183.32 641.14L199.76 635.58L186.74 628.52Z" fill="url(#ct)" stroke="#2a2a2a" stroke-width="0.6" stroke-linejoin="round"/><path d="M186.74 647.38L199.76 654.44M186.74 647.38L170.3 652.94M186.74 647.38L186.74 628.52" fill="none" stroke="rgba(30,70,70,0.38)" stroke-width="0.5"/>
<path d="M183.32 660L196.34 667.06L196.34 648.2L183.32 641.14Z" fill="url(#cy)" stroke="#2a2a2a" stroke-width="0.6" stroke-linejoin="round"/><path d="M196.34 667.06L212.78 661.5L212.78 642.64L196.34 648.2Z" fill="url(#cx)" stroke="#2a2a2a" stroke-width="0.6" stroke-linejoin="round"/><path d="M183.32 641.14L196.34 648.2L212.78 642.64L199.76 635.58Z" fill="url(#ct)" stroke="#2a2a2a" stroke-width="0.6" stroke-linejoin="round"/><path d="M199.76 654.44L212.78 661.5M199.76 654.44L183.32 660M199.76 654.44L199.76 635.58" fill="none" stroke="rgba(30,70,70,0.38)" stroke-width="0.5"/>
<path d="M196.34 667.06L209.36 674.12L209.36 655.26L196.34 648.2Z" fill="url(#cy)" stroke="#2a2a2a" stroke-width="0.6" stroke-linejoin="round"/><path d="M209.36 674.12L225.8 668.56L225.8 649.7L209.36 655.26Z" fill="url(#cx)" stroke="#2a2a2a" stroke-width="0.6" stroke-linejoin="round"/><path d="M196.34 648.2L209.36 655.26L225.8 649.7L212.78 642.64Z" fill="url(#ct)" stroke="#2a2a2a" stroke-width="0.6" stroke-linejoin="round"/><path d="M212.78 661.5L225.8 668.56M212.78 661.5L196.34 667.06M212.78 661.5L212.78 642.64" fill="none" stroke="rgba(30,70,70,0.38)" stroke-width="0.5"/>
<path d="M209.36 674.12L222.38 681.18L222.38 662.32L209.36 655.26Z" fill="url(#cy)" stroke="#2a2a2a" stroke-width="0.6" stroke-linejoin="round"/><path d="M222.38 681.18L238.82 675.62L238.82 656.76L222.38 662.32Z" fill="url(#cx)" stroke="#2a2a2a" stroke-width="0.6" stroke-linejoin="round"/><path d="M209.36 655.26L222.38 662.32L238.82 656.76L225.8 649.7Z" fill="url(#ct)" stroke="#2a2a2a" stroke-width="0.6" stroke-linejoin="round"/><path d="M225.8 668.56L238.82 675.62M225.8 668.56L209.36 674.12M225.8 668.56L225.8 649.7" fill="none" stroke="rgba(30,70,70,0.38)" stroke-width="0.5"/>
<path d="M222.38 681.18L235.4 688.24L235.4 669.38L222.38 662.32Z" fill="url(#cy)" stroke="#2a2a2a" stroke-width="0.6" stroke-linejoin="round"/><path d="M235.4 688.24L251.84 682.68L251.84 663.82L235.4 669.38Z" fill="url(#cx)" stroke="#2a2a2a" stroke-width="0.6" stroke-linejoin="round"/><path d="M222.38 662.32L235.4 669.38L251.84 663.82L238.82 656.76Z" fill="url(#ct)" stroke="#2a2a2a" stroke-width="0.6" stroke-linejoin="round"/><path d="M238.82 675.62L251.84 682.68M238.82 675.62L222.38 681.18M238.82 675.62L238.82 656.76" fill="none" stroke="rgba(30,70,70,0.38)" stroke-width="0.5"/>
<path d="M235.4 688.24L248.42 695.3L248.42 676.44L235.4 669.38Z" fill="url(#cy)" stroke="#2a2a2a" stroke-width="0.6" stroke-linejoin="round"/><path d="M248.42 695.3L264.86 689.74L264.86 670.88L248.42 676.44Z" fill="url(#cx)" stroke="#2a2a2a" stroke-width="0.6" stroke-linejoin="round"/><path d="M235.4 669.38L248.42 676.44L264.86 670.88L251.84 663.82Z" fill="url(#ct)" stroke="#2a2a2a" stroke-width="0.6" stroke-linejoin="round"/><path d="M251.84 682.68L264.86 689.74M251.84 682.68L235.4 688.24M251.84 682.68L251.84 663.82" fill="none" stroke="rgba(30,70,70,0.38)" stroke-width="0.5"/>
<path d="M248.42 695.3L261.44 702.36L261.44 683.5L248.42 676.44Z" fill="url(#cy)" stroke="#2a2a2a" stroke-width="0.6" stroke-linejoin="round"/><path d="M261.44 702.36L277.88 696.8L277.88 677.94L261.44 683.5Z" fill="url(#cx)" stroke="#2a2a2a" stroke-width="0.6" stroke-linejoin="round"/><path d="M248.42 676.44L261.44 683.5L277.88 677.94L264.86 670.88Z" fill="url(#ct)" stroke="#2a2a2a" stroke-width="0.6" stroke-linejoin="round"/><path d="M264.86 689.74L277.88 696.8M264.86 689.74L248.42 695.3M264.86 689.74L264.86 670.88" fill="none" stroke="rgba(30,70,70,0.38)" stroke-width="0.5"/>
<path d="M261.44 702.36L274.46 709.42L274.46 690.56L261.44 683.5Z" fill="url(#cy)" stroke="#2a2a2a" stroke-width="0.6" stroke-linejoin="round"/><path d="M274.46 709.42L290.9 703.86L290.9 685L274.46 690.56Z" fill="url(#cx)" stroke="#2a2a2a" stroke-width="0.6" stroke-linejoin="round"/><path d="M261.44 683.5L274.46 690.56L290.9 685L277.88 677.94Z" fill="url(#ct)" stroke="#2a2a2a" stroke-width="0.6" stroke-linejoin="round"/><path d="M277.88 696.8L290.9 703.86M277.88 696.8L261.44 702.36M277.88 696.8L277.88 677.94" fill="none" stroke="rgba(30,70,70,0.38)" stroke-width="0.5"/>
<path d="M274.46 709.42L287.48 716.48L287.48 697.62L274.46 690.56Z" fill="url(#cy)" stroke="#2a2a2a" stroke-width="0.6" stroke-linejoin="round"/><path d="M287.48 716.48L303.92 710.92L303.92 692.06L287.48 697.62Z" fill="url(#cx)" stroke="#2a2a2a" stroke-width="0.6" stroke-linejoin="round"/><path d="M274.46 690.56L287.48 697.62L303.92 692.06L290.9 685Z" fill="url(#ct)" stroke="#2a2a2a" stroke-width="0.6" stroke-linejoin="round"/><path d="M290.9 703.86L303.92 710.92M290.9 703.86L274.46 709.42M290.9 703.86L290.9 685" fill="none" stroke="rgba(30,70,70,0.38)" stroke-width="0.5"/>
<path d="M140.84 651.44L153.86 658.5L153.86 639.64L140.84 632.58Z" fill="url(#cy)" stroke="#2a2a2a" stroke-width="0.6" stroke-linejoin="round"/><path d="M153.86 658.5L170.3 652.94L170.3 634.08L153.86 639.64Z" fill="url(#cx)" stroke="#2a2a2a" stroke-width="0.6" stroke-linejoin="round"/><path d="M140.84 632.58L153.86 639.64L170.3 634.08L157.28 627.02Z" fill="url(#ct)" stroke="#2a2a2a" stroke-width="0.6" stroke-linejoin="round"/><path d="M157.28 645.88L170.3 652.94M157.28 645.88L140.84 651.44M157.28 645.88L157.28 627.02" fill="none" stroke="rgba(30,70,70,0.38)" stroke-width="0.5"/>
<path d="M153.86 658.5L166.88 665.56L166.88 646.7L153.86 639.64Z" fill="url(#cy)" stroke="#2a2a2a" stroke-width="0.6" stroke-linejoin="round"/><path d="M166.88 665.56L183.32 660L183.32 641.14L166.88 646.7Z" fill="url(#cx)" stroke="#2a2a2a" stroke-width="0.6" stroke-linejoin="round"/><path d="M153.86 639.64L166.88 646.7L183.32 641.14L170.3 634.08Z" fill="url(#ct)" stroke="#2a2a2a" stroke-width="0.6" stroke-linejoin="round"/><path d="M170.3 652.94L183.32 660M170.3 652.94L153.86 658.5M170.3 652.94L170.3 634.08" fill="none" stroke="rgba(30,70,70,0.38)" stroke-width="0.5"/>
<path d="M166.88 665.56L179.9 672.62L179.9 653.76L166.88 646.7Z" fill="url(#cy)" stroke="#2a2a2a" stroke-width="0.6" stroke-linejoin="round"/><path d="M179.9 672.62L196.34 667.06L196.34 648.2L179.9 653.76Z" fill="url(#cx)" stroke="#2a2a2a" stroke-width="0.6" stroke-linejoin="round"/><path d="M166.88 646.7L179.9 653.76L196.34 648.2L183.32 641.14Z" fill="url(#ct)" stroke="#2a2a2a" stroke-width="0.6" stroke-linejoin="round"/><path d="M183.32 660L196.34 667.06M183.32 660L166.88 665.56M183.32 660L183.32 641.14" fill="none" stroke="rgba(30,70,70,0.38)" stroke-width="0.5"/>
<path d="M179.9 672.62L192.92 679.68L192.92 660.82L179.9 653.76Z" fill="url(#cy)" stroke="#2a2a2a" stroke-width="0.6" stroke-linejoin="round"/><path d="M192.92 679.68L209.36 674.12L209.36 655.26L192.92 660.82Z" fill="url(#cx)" stroke="#2a2a2a" stroke-width="0.6" stroke-linejoin="round"/><path d="M179.9 653.76L192.92 660.82L209.36 655.26L196.34 648.2Z" fill="url(#ct)" stroke="#2a2a2a" stroke-width="0.6" stroke-linejoin="round"/><path d="M196.34 667.06L209.36 674.12M196.34 667.06L179.9 672.62M196.34 667.06L196.34 648.2" fill="none" stroke="rgba(30,70,70,0.38)" stroke-width="0.5"/>
<path d="M192.92 679.68L205.94 686.74L205.94 667.88L192.92 660.82Z" fill="url(#cy)" stroke="#2a2a2a" stroke-width="0.6" stroke-linejoin="round"/><path d="M205.94 686.74L222.38 681.18L222.38 662.32L205.94 667.88Z" fill="url(#cx)" stroke="#2a2a2a" stroke-width="0.6" stroke-linejoin="round"/><path d="M192.92 660.82L205.94 667.88L222.38 662.32L209.36 655.26Z" fill="url(#ct)" stroke="#2a2a2a" stroke-width="0.6" stroke-linejoin="round"/><path d="M209.36 674.12L222.38 681.18M209.36 674.12L192.92 679.68M209.36 674.12L209.36 655.26" fill="none" stroke="rgba(30,70,70,0.38)" stroke-width="0.5"/>
<path d="M205.94 686.74L218.96 693.8L218.96 674.94L205.94 667.88Z" fill="url(#cy)" stroke="#2a2a2a" stroke-width="0.6" stroke-linejoin="round"/><path d="M218.96 693.8L235.4 688.24L235.4 669.38L218.96 674.94Z" fill="url(#cx)" stroke="#2a2a2a" stroke-width="0.6" stroke-linejoin="round"/><path d="M205.94 667.88L218.96 674.94L235.4 669.38L222.38 662.32Z" fill="url(#ct)" stroke="#2a2a2a" stroke-width="0.6" stroke-linejoin="round"/><path d="M222.38 681.18L235.4 688.24M222.38 681.18L205.94 686.74M222.38 681.18L222.38 662.32" fill="none" stroke="rgba(30,70,70,0.38)" stroke-width="0.5"/>
<path d="M218.96 693.8L231.98 700.86L231.98 682L218.96 674.94Z" fill="url(#cy)" stroke="#2a2a2a" stroke-width="0.6" stroke-linejoin="round"/><path d="M231.98 700.86L248.42 695.3L248.42 676.44L231.98 682Z" fill="url(#cx)" stroke="#2a2a2a" stroke-width="0.6" stroke-linejoin="round"/><path d="M218.96 674.94L231.98 682L248.42 676.44L235.4 669.38Z" fill="url(#ct)" stroke="#2a2a2a" stroke-width="0.6" stroke-linejoin="round"/><path d="M235.4 688.24L248.42 695.3M235.4 688.24L218.96 693.8M235.4 688.24L235.4 669.38" fill="none" stroke="rgba(30,70,70,0.38)" stroke-width="0.5"/>
<path d="M231.98 700.86L245 707.92L245 689.06L231.98 682Z" fill="url(#cy)" stroke="#2a2a2a" stroke-width="0.6" stroke-linejoin="round"/><path d="M245 707.92L261.44 702.36L261.44 683.5L245 689.06Z" fill="url(#cx)" stroke="#2a2a2a" stroke-width="0.6" stroke-linejoin="round"/><path d="M231.98 682L245 689.06L261.44 683.5L248.42 676.44Z" fill="url(#ct)" stroke="#2a2a2a" stroke-width="0.6" stroke-linejoin="round"/><path d="M248.42 695.3L261.44 702.36M248.42 695.3L231.98 700.86M248.42 695.3L248.42 676.44" fill="none" stroke="rgba(30,70,70,0.38)" stroke-width="0.5"/>
<path d="M245 707.92L258.02 714.98L258.02 696.12L245 689.06Z" fill="url(#cy)" stroke="#2a2a2a" stroke-width="0.6" stroke-linejoin="round"/><path d="M258.02 714.98L274.46 709.42L274.46 690.56L258.02 696.12Z" fill="url(#cx)" stroke="#2a2a2a" stroke-width="0.6" stroke-linejoin="round"/><path d="M245 689.06L258.02 696.12L274.46 690.56L261.44 683.5Z" fill="url(#ct)" stroke="#2a2a2a" stroke-width="0.6" stroke-linejoin="round"/><path d="M261.44 702.36L274.46 709.42M261.44 702.36L245 707.92M261.44 702.36L261.44 683.5" fill="none" stroke="rgba(30,70,70,0.38)" stroke-width="0.5"/>
<path d="M258.02 714.98L271.04 722.04L271.04 703.18L258.02 696.12Z" fill="url(#cy)" stroke="#2a2a2a" stroke-width="0.6" stroke-linejoin="round"/><path d="M271.04 722.04L287.48 716.48L287.48 697.62L271.04 703.18Z" fill="url(#cx)" stroke="#2a2a2a" stroke-width="0.6" stroke-linejoin="round"/><path d="M258.02 696.12L271.04 703.18L287.48 697.62L274.46 690.56Z" fill="url(#ct)" stroke="#2a2a2a" stroke-width="0.6" stroke-linejoin="round"/><path d="M274.46 709.42L287.48 716.48M274.46 709.42L258.02 714.98M274.46 709.42L274.46 690.56" fill="none" stroke="rgba(30,70,70,0.38)" stroke-width="0.5"/>
<path d="M124.4 657L137.42 664.06L137.42 645.2L124.4 638.14Z" fill="url(#cy)" stroke="#2a2a2a" stroke-width="0.6" stroke-linejoin="round"/><path d="M137.42 664.06L153.86 658.5L153.86 639.64L137.42 645.2Z" fill="url(#cx)" stroke="#2a2a2a" stroke-width="0.6" stroke-linejoin="round"/><path d="M124.4 638.14L137.42 645.2L153.86 639.64L140.84 632.58Z" fill="url(#ct)" stroke="#2a2a2a" stroke-width="0.6" stroke-linejoin="round"/><path d="M140.84 651.44L153.86 658.5M140.84 651.44L124.4 657M140.84 651.44L140.84 632.58" fill="none" stroke="rgba(30,70,70,0.38)" stroke-width="0.5"/>
<path d="M137.42 664.06L150.44 671.12L150.44 652.26L137.42 645.2Z" fill="url(#cy)" stroke="#2a2a2a" stroke-width="0.6" stroke-linejoin="round"/><path d="M150.44 671.12L166.88 665.56L166.88 646.7L150.44 652.26Z" fill="url(#cx)" stroke="#2a2a2a" stroke-width="0.6" stroke-linejoin="round"/><path d="M137.42 645.2L150.44 652.26L166.88 646.7L153.86 639.64Z" fill="url(#ct)" stroke="#2a2a2a" stroke-width="0.6" stroke-linejoin="round"/><path d="M153.86 658.5L166.88 665.56M153.86 658.5L137.42 664.06M153.86 658.5L153.86 639.64" fill="none" stroke="rgba(30,70,70,0.38)" stroke-width="0.5"/>
<path d="M150.44 671.12L163.46 678.18L163.46 659.32L150.44 652.26Z" fill="url(#cy)" stroke="#2a2a2a" stroke-width="0.6" stroke-linejoin="round"/><path d="M163.46 678.18L179.9 672.62L179.9 653.76L163.46 659.32Z" fill="url(#cx)" stroke="#2a2a2a" stroke-width="0.6" stroke-linejoin="round"/><path d="M150.44 652.26L163.46 659.32L179.9 653.76L166.88 646.7Z" fill="url(#ct)" stroke="#2a2a2a" stroke-width="0.6" stroke-linejoin="round"/><path d="M166.88 665.56L179.9 672.62M166.88 665.56L150.44 671.12M166.88 665.56L166.88 646.7" fill="none" stroke="rgba(30,70,70,0.38)" stroke-width="0.5"/>
<path d="M163.46 678.18L176.48 685.24L176.48 666.38L163.46 659.32Z" fill="url(#cy)" stroke="#2a2a2a" stroke-width="0.6" stroke-linejoin="round"/><path d="M176.48 685.24L192.92 679.68L192.92 660.82L176.48 666.38Z" fill="url(#cx)" stroke="#2a2a2a" stroke-width="0.6" stroke-linejoin="round"/><path d="M163.46 659.32L176.48 666.38L192.92 660.82L179.9 653.76Z" fill="url(#ct)" stroke="#2a2a2a" stroke-width="0.6" stroke-linejoin="round"/><path d="M179.9 672.62L192.92 679.68M179.9 672.62L163.46 678.18M179.9 672.62L179.9 653.76" fill="none" stroke="rgba(30,70,70,0.38)" stroke-width="0.5"/>
<path d="M176.48 685.24L189.5 692.3L189.5 673.44L176.48 666.38Z" fill="url(#cy)" stroke="#2a2a2a" stroke-width="0.6" stroke-linejoin="round"/><path d="M189.5 692.3L205.94 686.74L205.94 667.88L189.5 673.44Z" fill="url(#cx)" stroke="#2a2a2a" stroke-width="0.6" stroke-linejoin="round"/><path d="M176.48 666.38L189.5 673.44L205.94 667.88L192.92 660.82Z" fill="url(#ct)" stroke="#2a2a2a" stroke-width="0.6" stroke-linejoin="round"/><path d="M192.92 679.68L205.94 686.74M192.92 679.68L176.48 685.24M192.92 679.68L192.92 660.82" fill="none" stroke="rgba(30,70,70,0.38)" stroke-width="0.5"/>
<path d="M189.5 692.3L202.52 699.36L202.52 680.5L189.5 673.44Z" fill="url(#cy)" stroke="#2a2a2a" stroke-width="0.6" stroke-linejoin="round"/><path d="M202.52 699.36L218.96 693.8L218.96 674.94L202.52 680.5Z" fill="url(#cx)" stroke="#2a2a2a" stroke-width="0.6" stroke-linejoin="round"/><path d="M189.5 673.44L202.52 680.5L218.96 674.94L205.94 667.88Z" fill="url(#ct)" stroke="#2a2a2a" stroke-width="0.6" stroke-linejoin="round"/><path d="M205.94 686.74L218.96 693.8M205.94 686.74L189.5 692.3M205.94 686.74L205.94 667.88" fill="none" stroke="rgba(30,70,70,0.38)" stroke-width="0.5"/>
<path d="M202.52 699.36L215.54 706.42L215.54 687.56L202.52 680.5Z" fill="url(#cy)" stroke="#2a2a2a" stroke-width="0.6" stroke-linejoin="round"/><path d="M215.54 706.42L231.98 700.86L231.98 682L215.54 687.56Z" fill="url(#cx)" stroke="#2a2a2a" stroke-width="0.6" stroke-linejoin="round"/><path d="M202.52 680.5L215.54 687.56L231.98 682L218.96 674.94Z" fill="url(#ct)" stroke="#2a2a2a" stroke-width="0.6" stroke-linejoin="round"/><path d="M218.96 693.8L231.98 700.86M218.96 693.8L202.52 699.36M218.96 693.8L218.96 674.94" fill="none" stroke="rgba(30,70,70,0.38)" stroke-width="0.5"/>
<path d="M215.54 706.42L228.56 713.48L228.56 694.62L215.54 687.56Z" fill="url(#cy)" stroke="#2a2a2a" stroke-width="0.6" stroke-linejoin="round"/><path d="M228.56 713.48L245 707.92L245 689.06L228.56 694.62Z" fill="url(#cx)" stroke="#2a2a2a" stroke-width="0.6" stroke-linejoin="round"/><path d="M215.54 687.56L228.56 694.62L245 689.06L231.98 682Z" fill="url(#ct)" stroke="#2a2a2a" stroke-width="0.6" stroke-linejoin="round"/><path d="M231.98 700.86L245 707.92M231.98 700.86L215.54 706.42M231.98 700.86L231.98 682" fill="none" stroke="rgba(30,70,70,0.38)" stroke-width="0.5"/>
<path d="M228.56 713.48L241.58 720.54L241.58 701.68L228.56 694.62Z" fill="url(#cy)" stroke="#2a2a2a" stroke-width="0.6" stroke-linejoin="round"/><path d="M241.58 720.54L258.02 714.98L258.02 696.12L241.58 701.68Z" fill="url(#cx)" stroke="#2a2a2a" stroke-width="0.6" stroke-linejoin="round"/><path d="M228.56 694.62L241.58 701.68L258.02 696.12L245 689.06Z" fill="url(#ct)" stroke="#2a2a2a" stroke-width="0.6" stroke-linejoin="round"/><path d="M245 707.92L258.02 714.98M245 707.92L228.56 713.48M245 707.92L245 689.06" fill="none" stroke="rgba(30,70,70,0.38)" stroke-width="0.5"/>
<path d="M241.58 720.54L254.6 727.6L254.6 708.74L241.58 701.68Z" fill="url(#cy)" stroke="#2a2a2a" stroke-width="0.6" stroke-linejoin="round"/><path d="M254.6 727.6L271.04 722.04L271.04 703.18L254.6 708.74Z" fill="url(#cx)" stroke="#2a2a2a" stroke-width="0.6" stroke-linejoin="round"/><path d="M241.58 701.68L254.6 708.74L271.04 703.18L258.02 696.12Z" fill="url(#ct)" stroke="#2a2a2a" stroke-width="0.6" stroke-linejoin="round"/><path d="M258.02 714.98L271.04 722.04M258.02 714.98L241.58 720.54M258.02 714.98L258.02 696.12" fill="none" stroke="rgba(30,70,70,0.38)" stroke-width="0.5"/>
<clipPath id="slabclip"><path d="M124.4 657L254.6 727.6L320.36 705.36L320.36 686.5L190.16 615.9L124.4 638.14ZM190.16 634.76L294.32 691.24L310.76 685.68L310.76 666.82L206.6 610.34L190.16 615.9Z"/></clipPath>
<g clip-path="url(#slabclip)" opacity="0.6"><path d="M124.4 638.14L254.6 708.74M124.4 619.28L254.6 689.88M124.4 600.42L254.6 671.02M124.4 581.56L254.6 652.16M124.4 562.7L254.6 633.3M124.4 543.84L254.6 614.44M124.4 524.98L254.6 595.58M124.4 506.12L254.6 576.72M124.4 487.26L254.6 557.86M124.4 468.4L254.6 539M140.84 632.58L271.04 703.18M140.84 613.72L271.04 684.32M140.84 594.86L271.04 665.46M140.84 576L271.04 646.6M140.84 557.14L271.04 627.74M140.84 538.28L271.04 608.88M140.84 519.42L271.04 590.02M140.84 500.56L271.04 571.16M140.84 481.7L271.04 552.3M140.84 462.84L271.04 533.44M157.28 627.02L287.48 697.62M157.28 608.16L287.48 678.76M157.28 589.3L287.48 659.9M157.28 570.44L287.48 641.04M157.28 551.58L287.48 622.18M157.28 532.72L287.48 603.32M157.28 513.86L287.48 584.46M157.28 495L287.48 565.6M157.28 476.14L287.48 546.74M157.28 457.28L287.48 527.88M173.72 621.46L303.92 692.06M173.72 602.6L303.92 673.2M173.72 583.74L303.92 654.34M173.72 564.88L303.92 635.48M173.72 546.02L303.92 616.62M173.72 527.16L303.92 597.76M173.72 508.3L303.92 578.9M173.72 489.44L303.92 560.04M173.72 470.58L303.92 541.18M173.72 451.72L303.92 522.32M190.16 615.9L320.36 686.5M190.16 597.04L320.36 667.64M190.16 578.18L320.36 648.78M190.16 559.32L320.36 629.92M190.16 540.46L320.36 611.06M190.16 521.6L320.36 592.2M190.16 502.74L320.36 573.34M190.16 483.88L320.36 554.48M190.16 465.02L320.36 535.62M190.16 446.16L320.36 516.76M206.6 610.34L336.8 680.94M206.6 591.48L336.8 662.08M206.6 572.62L336.8 643.22M206.6 553.76L336.8 624.36M206.6 534.9L336.8 605.5M206.6 516.04L336.8 586.64M206.6 497.18L336.8 567.78M206.6 478.32L336.8 548.92M206.6 459.46L336.8 530.06M206.6 440.6L336.8 511.2M223.04 604.78L353.24 675.38M223.04 585.92L353.24 656.52M223.04 567.06L353.24 637.66M223.04 548.2L353.24 618.8M223.04 529.34L353.24 599.94M223.04 510.48L353.24 581.08M223.04 491.62L353.24 562.22M223.04 472.76L353.24 543.36M223.04 453.9L353.24 524.5M223.04 435.04L353.24 505.64M239.48 599.22L369.68 669.82M239.48 580.36L369.68 650.96M239.48 561.5L369.68 632.1M239.48 542.64L369.68 613.24M239.48 523.78L369.68 594.38M239.48 504.92L369.68 575.52M239.48 486.06L369.68 556.66M239.48 467.2L369.68 537.8M239.48 448.34L369.68 518.94M239.48 429.48L369.68 500.08M255.92 593.66L386.12 664.26M255.92 574.8L386.12 645.4M255.92 555.94L386.12 626.54M255.92 537.08L386.12 607.68M255.92 518.22L386.12 588.82M255.92 499.36L386.12 569.96M255.92 480.5L386.12 551.1M255.92 461.64L386.12 532.24M255.92 442.78L386.12 513.38M255.92 423.92L386.12 494.52M272.36 588.1L402.56 658.7M272.36 569.24L402.56 639.84M272.36 550.38L402.56 620.98M272.36 531.52L402.56 602.12M272.36 512.66L402.56 583.26M272.36 493.8L402.56 564.4M272.36 474.94L402.56 545.54M272.36 456.08L402.56 526.68M272.36 437.22L402.56 507.82M272.36 418.36L402.56 488.96M288.8 582.54L419 653.14M288.8 563.68L419 634.28M288.8 544.82L419 615.42M288.8 525.96L419 596.56M288.8 507.1L419 577.7M288.8 488.24L419 558.84M288.8 469.38L419 539.98M288.8 450.52L419 521.12M288.8 431.66L419 502.26M288.8 412.8L419 483.4M124.4 638.14L288.8 582.54M124.4 619.28L288.8 563.68M124.4 600.42L288.8 544.82M124.4 581.56L288.8 525.96M124.4 562.7L288.8 507.1M124.4 543.84L288.8 488.24M124.4 524.98L288.8 469.38M124.4 506.12L288.8 450.52M124.4 487.26L288.8 431.66M124.4 468.4L288.8 412.8M137.42 645.2L301.82 589.6M137.42 626.34L301.82 570.74M137.42 607.48L301.82 551.88M137.42 588.62L301.82 533.02M137.42 569.76L301.82 514.16M137.42 550.9L301.82 495.3M137.42 532.04L301.82 476.44M137.42 513.18L301.82 457.58M137.42 494.32L301.82 438.72M137.42 475.46L301.82 419.86M150.44 652.26L314.84 596.66M150.44 633.4L314.84 577.8M150.44 614.54L314.84 558.94M150.44 595.68L314.84 540.08M150.44 576.82L314.84 521.22M150.44 557.96L314.84 502.36M150.44 539.1L314.84 483.5M150.44 520.24L314.84 464.64M150.44 501.38L314.84 445.78M150.44 482.52L314.84 426.92M163.46 659.32L327.86 603.72M163.46 640.46L327.86 584.86M163.46 621.6L327.86 566M163.46 602.74L327.86 547.14M163.46 583.88L327.86 528.28M163.46 565.02L327.86 509.42M163.46 546.16L327.86 490.56M163.46 527.3L327.86 471.7M163.46 508.44L327.86 452.84M163.46 489.58L327.86 433.98M176.48 666.38L340.88 610.78M176.48 647.52L340.88 591.92M176.48 628.66L340.88 573.06M176.48 609.8L340.88 554.2M176.48 590.94L340.88 535.34M176.48 572.08L340.88 516.48M176.48 553.22L340.88 497.62M176.48 534.36L340.88 478.76M176.48 515.5L340.88 459.9M176.48 496.64L340.88 441.04M189.5 673.44L353.9 617.84M189.5 654.58L353.9 598.98M189.5 635.72L353.9 580.12M189.5 616.86L353.9 561.26M189.5 598L353.9 542.4M189.5 579.14L353.9 523.54M189.5 560.28L353.9 504.68M189.5 541.42L353.9 485.82M189.5 522.56L353.9 466.96M189.5 503.7L353.9 448.1M202.52 680.5L366.92 624.9M202.52 661.64L366.92 606.04M202.52 642.78L366.92 587.18M202.52 623.92L366.92 568.32M202.52 605.06L366.92 549.46M202.52 586.2L366.92 530.6M202.52 567.34L366.92 511.74M202.52 548.48L366.92 492.88M202.52 529.62L366.92 474.02M202.52 510.76L366.92 455.16M215.54 687.56L379.94 631.96M215.54 668.7L379.94 613.1M215.54 649.84L379.94 594.24M215.54 630.98L379.94 575.38M215.54 612.12L379.94 556.52M215.54 593.26L379.94 537.66M215.54 574.4L379.94 518.8M215.54 555.54L379.94 499.94M215.54 536.68L379.94 481.08M215.54 517.82L379.94 462.22M228.56 694.62L392.96 639.02M228.56 675.76L392.96 620.16M228.56 656.9L392.96 601.3M228.56 638.04L392.96 582.44M228.56 619.18L392.96 563.58M228.56 600.32L392.96 544.72M228.56 581.46L392.96 525.86M228.56 562.6L392.96 507M228.56 543.74L392.96 488.14M228.56 524.88L392.96 469.28M241.58 701.68L405.98 646.08M241.58 682.82L405.98 627.22M241.58 663.96L405.98 608.36M241.58 645.1L405.98 589.5M241.58 626.24L405.98 570.64M241.58 607.38L405.98 551.78M241.58 588.52L405.98 532.92M241.58 569.66L405.98 514.06M241.58 550.8L405.98 495.2M241.58 531.94L405.98 476.34M254.6 708.74L419 653.14M254.6 689.88L419 634.28M254.6 671.02L419 615.42M254.6 652.16L419 596.56M254.6 633.3L419 577.7M254.6 614.44L419 558.84M254.6 595.58L419 539.98M254.6 576.72L419 521.12M254.6 557.86L419 502.26M254.6 539L419 483.4" fill="none" stroke="#9e9e9e" stroke-width="0.5"/><path d="M124.4 638.14L124.4 468.4M140.84 632.58L140.84 462.84M157.28 627.02L157.28 457.28M173.72 621.46L173.72 451.72M190.16 615.9L190.16 446.16M206.6 610.34L206.6 440.6M223.04 604.78L223.04 435.04M239.48 599.22L239.48 429.48M255.92 593.66L255.92 423.92M272.36 588.1L272.36 418.36M288.8 582.54L288.8 412.8M137.42 645.2L137.42 475.46M153.86 639.64L153.86 469.9M170.3 634.08L170.3 464.34M186.74 628.52L186.74 458.78M203.18 622.96L203.18 453.22M219.62 617.4L219.62 447.66M236.06 611.84L236.06 442.1M252.5 606.28L252.5 436.54M268.94 600.72L268.94 430.98M285.38 595.16L285.38 425.42M301.82 589.6L301.82 419.86M150.44 652.26L150.44 482.52M166.88 646.7L166.88 476.96M183.32 641.14L183.32 471.4M199.76 635.58L199.76 465.84M216.2 630.02L216.2 460.28M232.64 624.46L232.64 454.72M249.08 618.9L249.08 449.16M265.52 613.34L265.52 443.6M281.96 607.78L281.96 438.04M298.4 602.22L298.4 432.48M314.84 596.66L314.84 426.92M163.46 659.32L163.46 489.58M179.9 653.76L179.9 484.02M196.34 648.2L196.34 478.46M212.78 642.64L212.78 472.9M229.22 637.08L229.22 467.34M245.66 631.52L245.66 461.78M262.1 625.96L262.1 456.22M278.54 620.4L278.54 450.66M294.98 614.84L294.98 445.1M311.42 609.28L311.42 439.54M327.86 603.72L327.86 433.98M176.48 666.38L176.48 496.64M192.92 660.82L192.92 491.08M209.36 655.26L209.36 485.52M225.8 649.7L225.8 479.96M242.24 644.14L242.24 474.4M258.68 638.58L258.68 468.84M275.12 633.02L275.12 463.28M291.56 627.46L291.56 457.72M308 621.9L308 452.16M324.44 616.34L324.44 446.6M340.88 610.78L340.88 441.04M189.5 673.44L189.5 503.7M205.94 667.88L205.94 498.14M222.38 662.32L222.38 492.58M238.82 656.76L238.82 487.02M255.26 651.2L255.26 481.46M271.7 645.64L271.7 475.9M288.14 640.08L288.14 470.34M304.58 634.52L304.58 464.78M321.02 628.96L321.02 459.22M337.46 623.4L337.46 453.66M353.9 617.84L353.9 448.1M202.52 680.5L202.52 510.76M218.96 674.94L218.96 505.2M235.4 669.38L235.4 499.64M251.84 663.82L251.84 494.08M268.28 658.26L268.28 488.52M284.72 652.7L284.72 482.96M301.16 647.14L301.16 477.4M317.6 641.58L317.6 471.84M334.04 636.02L334.04 466.28M350.48 630.46L350.48 460.72M366.92 624.9L366.92 455.16M215.54 687.56L215.54 517.82M231.98 682L231.98 512.26M248.42 676.44L248.42 506.7M264.86 670.88L264.86 501.14M281.3 665.32L281.3 495.58M297.74 659.76L297.74 490.02M314.18 654.2L314.18 484.46M330.62 648.64L330.62 478.9M347.06 643.08L347.06 473.34M363.5 637.52L363.5 467.78M379.94 631.96L379.94 462.22M228.56 694.62L228.56 524.88M245 689.06L245 519.32M261.44 683.5L261.44 513.76M277.88 677.94L277.88 508.2M294.32 672.38L294.32 502.64M310.76 666.82L310.76 497.08M327.2 661.26L327.2 491.52M343.64 655.7L343.64 485.96M360.08 650.14L360.08 480.4M376.52 644.58L376.52 474.84M392.96 639.02L392.96 469.28M241.58 701.68L241.58 531.94M258.02 696.12L258.02 526.38M274.46 690.56L274.46 520.82M290.9 685L290.9 515.26M307.34 679.44L307.34 509.7M323.78 673.88L323.78 504.14M340.22 668.32L340.22 498.58M356.66 662.76L356.66 493.02M373.1 657.2L373.1 487.46M389.54 651.64L389.54 481.9M405.98 646.08L405.98 476.34M254.6 708.74L254.6 539M271.04 703.18L271.04 533.44M287.48 697.62L287.48 527.88M303.92 692.06L303.92 522.32M320.36 686.5L320.36 516.76M336.8 680.94L336.8 511.2M353.24 675.38L353.24 505.64M369.68 669.82L369.68 500.08M386.12 664.26L386.12 494.52M402.56 658.7L402.56 488.96M419 653.14L419 483.4" fill="none" stroke="#8c8c8c" stroke-width="0.6"/></g>
<path d="M139.13 638.89L256.31 702.43L262.06 700.48M155.57 633.33L272.75 696.87L278.5 694.92M172.01 627.77L289.19 691.31L294.94 689.36M188.45 622.21L305.63 685.75L311.38 683.8M204.89 616.65L285.61 660.42" fill="none" stroke="#0a18ff" stroke-width="1.35" stroke-dasharray="4.2 3.4"/>
<path d="M290.82 663.25L281.54 662.53L285.17 655.85Z" fill="#0a18ff"/>
<path d="M275.35 698.28L270.35 698.07L272.45 694.2Z" fill="#0a18ff"/>
<text x="296.8" y="652.8" font-size="11.3" font-weight="bold" fill="#1a1aff">(v<tspan font-size="75%" dy="3.2">x</tspan><tspan dy="-3.2">,</tspan>v<tspan font-size="75%" dy="3.2">y</tspan><tspan dy="-3.2">,</tspan>v<tspan font-size="75%" dy="3.2">z</tspan><tspan dy="-3.2">)</tspan></text>
<path d="M124.4 647.57l-4.2 -1.6" stroke="#151515" stroke-width="1"/>
<text x="117.6" y="648.07" font-size="11" text-anchor="end" fill="#111" stroke="#111" stroke-width="0.45">1</text>
<path d="M124.4 628.71l-4.2 -1.6" stroke="#151515" stroke-width="1"/>
<text x="117.6" y="629.21" font-size="11" text-anchor="end" fill="#111" stroke="#111" stroke-width="0.45">2</text>
<path d="M124.4 609.85l-4.2 -1.6" stroke="#151515" stroke-width="1"/>
<text x="117.6" y="610.35" font-size="11" text-anchor="end" fill="#111" stroke="#111" stroke-width="0.45">3</text>
<path d="M124.4 590.99l-4.2 -1.6" stroke="#151515" stroke-width="1"/>
<text x="117.6" y="591.49" font-size="11" text-anchor="end" fill="#111" stroke="#111" stroke-width="0.45">4</text>
<path d="M124.4 572.13l-4.2 -1.6" stroke="#151515" stroke-width="1"/>
<text x="117.6" y="572.63" font-size="11" text-anchor="end" fill="#111" stroke="#111" stroke-width="0.45">5</text>
<path d="M124.4 553.27l-4.2 -1.6" stroke="#151515" stroke-width="1"/>
<text x="117.6" y="553.77" font-size="11" text-anchor="end" fill="#111" stroke="#111" stroke-width="0.45">6</text>
<path d="M124.4 534.41l-4.2 -1.6" stroke="#151515" stroke-width="1"/>
<text x="117.6" y="534.91" font-size="11" text-anchor="end" fill="#111" stroke="#111" stroke-width="0.45">7</text>
<path d="M124.4 515.55l-4.2 -1.6" stroke="#151515" stroke-width="1"/>
<text x="117.6" y="516.05" font-size="11" text-anchor="end" fill="#111" stroke="#111" stroke-width="0.45">8</text>
<path d="M124.4 496.69l-4.2 -1.6" stroke="#151515" stroke-width="1"/>
<text x="117.6" y="497.19" font-size="11" text-anchor="end" fill="#111" stroke="#111" stroke-width="0.45">9</text>
<path d="M124.4 477.83l-4.2 -1.6" stroke="#151515" stroke-width="1"/>
<text x="117.6" y="478.33" font-size="11" text-anchor="end" fill="#111" stroke="#111" stroke-width="0.45">10</text>
<path d="M130.91 660.53l-4 1.6" stroke="#151515" stroke-width="1"/>
<text font-size="11" text-anchor="end" fill="#111" stroke="#111" stroke-width="0.45" transform="translate(123.71 663.53) rotate(-61)" y="3.96">1</text>
<path d="M143.93 667.59l-4 1.6" stroke="#151515" stroke-width="1"/>
<text font-size="11" text-anchor="end" fill="#111" stroke="#111" stroke-width="0.45" transform="translate(136.73 670.59) rotate(-61)" y="3.96">2</text>
<path d="M156.95 674.65l-4 1.6" stroke="#151515" stroke-width="1"/>
<text font-size="11" text-anchor="end" fill="#111" stroke="#111" stroke-width="0.45" transform="translate(149.75 677.65) rotate(-61)" y="3.96">3</text>
<path d="M169.97 681.71l-4 1.6" stroke="#151515" stroke-width="1"/>
<text font-size="11" text-anchor="end" fill="#111" stroke="#111" stroke-width="0.45" transform="translate(162.77 684.71) rotate(-61)" y="3.96">4</text>
<path d="M182.99 688.77l-4 1.6" stroke="#151515" stroke-width="1"/>
<text font-size="11" text-anchor="end" fill="#111" stroke="#111" stroke-width="0.45" transform="translate(175.79 691.77) rotate(-61)" y="3.96">5</text>
<path d="M196.01 695.83l-4 1.6" stroke="#151515" stroke-width="1"/>
<text font-size="11" text-anchor="end" fill="#111" stroke="#111" stroke-width="0.45" transform="translate(188.81 698.83) rotate(-61)" y="3.96">6</text>
<path d="M209.03 702.89l-4 1.6" stroke="#151515" stroke-width="1"/>
<text font-size="11" text-anchor="end" fill="#111" stroke="#111" stroke-width="0.45" transform="translate(201.83 705.89) rotate(-61)" y="3.96">7</text>
<path d="M222.05 709.95l-4 1.6" stroke="#151515" stroke-width="1"/>
<text font-size="11" text-anchor="end" fill="#111" stroke="#111" stroke-width="0.45" transform="translate(214.85 712.95) rotate(-61)" y="3.96">8</text>
<path d="M235.07 717.01l-4 1.6" stroke="#151515" stroke-width="1"/>
<text font-size="11" text-anchor="end" fill="#111" stroke="#111" stroke-width="0.45" transform="translate(227.87 720.01) rotate(-61)" y="3.96">9</text>
<path d="M248.09 724.07l-4 1.6" stroke="#151515" stroke-width="1"/>
<text font-size="11" text-anchor="end" fill="#111" stroke="#111" stroke-width="0.45" transform="translate(240.89 727.07) rotate(-61)" y="3.96">10</text>
<path d="M262.82 724.82l3 2.9" stroke="#151515" stroke-width="1"/>
<text font-size="11" text-anchor="start" fill="#111" stroke="#111" stroke-width="0.45" transform="translate(268.72 729.12) rotate(69)" y="3.96">1</text>
<path d="M279.26 719.26l3 2.9" stroke="#151515" stroke-width="1"/>
<text font-size="11" text-anchor="start" fill="#111" stroke="#111" stroke-width="0.45" transform="translate(285.16 723.56) rotate(69)" y="3.96">2</text>
<path d="M295.7 713.7l3 2.9" stroke="#151515" stroke-width="1"/>
<text font-size="11" text-anchor="start" fill="#111" stroke="#111" stroke-width="0.45" transform="translate(301.6 718) rotate(69)" y="3.96">3</text>
<path d="M312.14 708.14l3 2.9" stroke="#151515" stroke-width="1"/>
<text font-size="11" text-anchor="start" fill="#111" stroke="#111" stroke-width="0.45" transform="translate(318.04 712.44) rotate(69)" y="3.96">4</text>
<path d="M328.58 702.58l3 2.9" stroke="#151515" stroke-width="1"/>
<text font-size="11" text-anchor="start" fill="#111" stroke="#111" stroke-width="0.45" transform="translate(334.48 706.88) rotate(69)" y="3.96">5</text>
<path d="M345.02 697.02l3 2.9" stroke="#151515" stroke-width="1"/>
<text font-size="11" text-anchor="start" fill="#111" stroke="#111" stroke-width="0.45" transform="translate(350.92 701.32) rotate(69)" y="3.96">6</text>
<path d="M361.46 691.46l3 2.9" stroke="#151515" stroke-width="1"/>
<text font-size="11" text-anchor="start" fill="#111" stroke="#111" stroke-width="0.45" transform="translate(367.36 695.76) rotate(69)" y="3.96">7</text>
<path d="M377.9 685.9l3 2.9" stroke="#151515" stroke-width="1"/>
<text font-size="11" text-anchor="start" fill="#111" stroke="#111" stroke-width="0.45" transform="translate(383.8 690.2) rotate(69)" y="3.96">8</text>
<path d="M394.34 680.34l3 2.9" stroke="#151515" stroke-width="1"/>
<text font-size="11" text-anchor="start" fill="#111" stroke="#111" stroke-width="0.45" transform="translate(400.24 684.64) rotate(69)" y="3.96">9</text>
<path d="M410.78 674.78l3 2.9" stroke="#151515" stroke-width="1"/>
<text font-size="11" text-anchor="start" fill="#111" stroke="#111" stroke-width="0.45" transform="translate(416.68 679.08) rotate(69)" y="3.96">10</text>
<path d="M900.8 646.17l-4.2 -1.6" stroke="#151515" stroke-width="1"/>
<text x="894" y="646.67" font-size="11" text-anchor="end" fill="#111" stroke="#111" stroke-width="0.45">1</text>
<path d="M900.8 627.31l-4.2 -1.6" stroke="#151515" stroke-width="1"/>
<text x="894" y="627.81" font-size="11" text-anchor="end" fill="#111" stroke="#111" stroke-width="0.45">2</text>
<path d="M900.8 608.45l-4.2 -1.6" stroke="#151515" stroke-width="1"/>
<text x="894" y="608.95" font-size="11" text-anchor="end" fill="#111" stroke="#111" stroke-width="0.45">3</text>
<path d="M900.8 589.59l-4.2 -1.6" stroke="#151515" stroke-width="1"/>
<text x="894" y="590.09" font-size="11" text-anchor="end" fill="#111" stroke="#111" stroke-width="0.45">4</text>
<path d="M900.8 570.73l-4.2 -1.6" stroke="#151515" stroke-width="1"/>
<text x="894" y="571.23" font-size="11" text-anchor="end" fill="#111" stroke="#111" stroke-width="0.45">5</text>
<path d="M900.8 551.87l-4.2 -1.6" stroke="#151515" stroke-width="1"/>
<text x="894" y="552.37" font-size="11" text-anchor="end" fill="#111" stroke="#111" stroke-width="0.45">6</text>
<path d="M900.8 533.01l-4.2 -1.6" stroke="#151515" stroke-width="1"/>
<text x="894" y="533.51" font-size="11" text-anchor="end" fill="#111" stroke="#111" stroke-width="0.45">7</text>
<path d="M900.8 514.15l-4.2 -1.6" stroke="#151515" stroke-width="1"/>
<text x="894" y="514.65" font-size="11" text-anchor="end" fill="#111" stroke="#111" stroke-width="0.45">8</text>
<path d="M900.8 495.29l-4.2 -1.6" stroke="#151515" stroke-width="1"/>
<text x="894" y="495.79" font-size="11" text-anchor="end" fill="#111" stroke="#111" stroke-width="0.45">9</text>
<path d="M900.8 476.43l-4.2 -1.6" stroke="#151515" stroke-width="1"/>
<text x="894" y="476.93" font-size="11" text-anchor="end" fill="#111" stroke="#111" stroke-width="0.45">10</text>
<path d="M907.28 659.18l-4 1.6" stroke="#151515" stroke-width="1"/>
<text font-size="11" text-anchor="end" fill="#111" stroke="#111" stroke-width="0.45" transform="translate(900.08 662.18) rotate(-61)" y="3.96">1</text>
<path d="M920.24 666.33l-4 1.6" stroke="#151515" stroke-width="1"/>
<text font-size="11" text-anchor="end" fill="#111" stroke="#111" stroke-width="0.45" transform="translate(913.04 669.33) rotate(-61)" y="3.96">2</text>
<path d="M933.2 673.48l-4 1.6" stroke="#151515" stroke-width="1"/>
<text font-size="11" text-anchor="end" fill="#111" stroke="#111" stroke-width="0.45" transform="translate(926 676.48) rotate(-61)" y="3.96">3</text>
<path d="M946.16 680.62l-4 1.6" stroke="#151515" stroke-width="1"/>
<text font-size="11" text-anchor="end" fill="#111" stroke="#111" stroke-width="0.45" transform="translate(938.96 683.62) rotate(-61)" y="3.96">4</text>
<path d="M959.12 687.77l-4 1.6" stroke="#151515" stroke-width="1"/>
<text font-size="11" text-anchor="end" fill="#111" stroke="#111" stroke-width="0.45" transform="translate(951.92 690.77) rotate(-61)" y="3.96">5</text>
<path d="M972.08 694.93l-4 1.6" stroke="#151515" stroke-width="1"/>
<text font-size="11" text-anchor="end" fill="#111" stroke="#111" stroke-width="0.45" transform="translate(964.88 697.93) rotate(-61)" y="3.96">6</text>
<path d="M985.04 702.08l-4 1.6" stroke="#151515" stroke-width="1"/>
<text font-size="11" text-anchor="end" fill="#111" stroke="#111" stroke-width="0.45" transform="translate(977.84 705.08) rotate(-61)" y="3.96">7</text>
<path d="M998 709.23l-4 1.6" stroke="#151515" stroke-width="1"/>
<text font-size="11" text-anchor="end" fill="#111" stroke="#111" stroke-width="0.45" transform="translate(990.8 712.23) rotate(-61)" y="3.96">8</text>
<path d="M1010.96 716.38l-4 1.6" stroke="#151515" stroke-width="1"/>
<text font-size="11" text-anchor="end" fill="#111" stroke="#111" stroke-width="0.45" transform="translate(1003.76 719.38) rotate(-61)" y="3.96">9</text>
<path d="M1023.92 723.52l-4 1.6" stroke="#151515" stroke-width="1"/>
<text font-size="11" text-anchor="end" fill="#111" stroke="#111" stroke-width="0.45" transform="translate(1016.72 726.52) rotate(-61)" y="3.96">10</text>
<path d="M1038.61 724.32l3 2.9" stroke="#151515" stroke-width="1"/>
<text font-size="11" text-anchor="start" fill="#111" stroke="#111" stroke-width="0.45" transform="translate(1044.51 728.62) rotate(69)" y="3.96">1</text>
<path d="M1055.03 718.75l3 2.9" stroke="#151515" stroke-width="1"/>
<text font-size="11" text-anchor="start" fill="#111" stroke="#111" stroke-width="0.45" transform="translate(1060.93 723.04) rotate(69)" y="3.96">2</text>
<path d="M1071.45 713.18l3 2.9" stroke="#151515" stroke-width="1"/>
<text font-size="11" text-anchor="start" fill="#111" stroke="#111" stroke-width="0.45" transform="translate(1077.35 717.48) rotate(69)" y="3.96">3</text>
<path d="M1087.87 707.61l3 2.9" stroke="#151515" stroke-width="1"/>
<text font-size="11" text-anchor="start" fill="#111" stroke="#111" stroke-width="0.45" transform="translate(1093.77 711.9) rotate(69)" y="3.96">4</text>
<path d="M1104.29 702.03l3 2.9" stroke="#151515" stroke-width="1"/>
<text font-size="11" text-anchor="start" fill="#111" stroke="#111" stroke-width="0.45" transform="translate(1110.19 706.33) rotate(69)" y="3.96">5</text>
<path d="M1120.71 696.47l3 2.9" stroke="#151515" stroke-width="1"/>
<text font-size="11" text-anchor="start" fill="#111" stroke="#111" stroke-width="0.45" transform="translate(1126.61 700.76) rotate(69)" y="3.96">6</text>
<path d="M1137.13 690.89l3 2.9" stroke="#151515" stroke-width="1"/>
<text font-size="11" text-anchor="start" fill="#111" stroke="#111" stroke-width="0.45" transform="translate(1143.03 695.19) rotate(69)" y="3.96">7</text>
<path d="M1153.55 685.33l3 2.9" stroke="#151515" stroke-width="1"/>
<text font-size="11" text-anchor="start" fill="#111" stroke="#111" stroke-width="0.45" transform="translate(1159.45 689.62) rotate(69)" y="3.96">8</text>
<path d="M1169.97 679.75l3 2.9" stroke="#151515" stroke-width="1"/>
<text font-size="11" text-anchor="start" fill="#111" stroke="#111" stroke-width="0.45" transform="translate(1175.87 684.05) rotate(69)" y="3.96">9</text>
<path d="M1186.39 674.19l3 2.9" stroke="#151515" stroke-width="1"/>
<text font-size="11" text-anchor="start" fill="#111" stroke="#111" stroke-width="0.45" transform="translate(1192.29 678.49) rotate(69)" y="3.96">10</text>
<text x="102.5" y="563.4" font-size="12.7" text-anchor="middle" fill="#111" transform="rotate(-90 102.5 563.4)" stroke="#111" stroke-width="0.35">Z-Axis (pixel)</text>
<text x="149" y="745.2" font-size="12.7" text-anchor="middle" fill="#111" stroke="#111" stroke-width="0.35">X-Axis (pixel)</text>
<text x="368" y="746.8" font-size="12.7" text-anchor="middle" fill="#111" stroke="#111" stroke-width="0.35">Y-Axis (pixel)</text>
<text x="874.3" y="561.5" font-size="12.7" text-anchor="middle" fill="#111" transform="rotate(-90 874.3 561.5)" stroke="#111" stroke-width="0.35">Z-Axis (pixel)</text>
<text x="925" y="745.2" font-size="12.7" text-anchor="middle" fill="#111" stroke="#111" stroke-width="0.35">X-Axis (pixel)</text>
<text x="1144" y="746.8" font-size="12.7" text-anchor="middle" fill="#111" stroke="#111" stroke-width="0.35">Y-Axis (pixel)</text>
<path d="M513 467.5L513 653.8L641.25 724.25L803.5 668.5L803.5 482.2L675.25 411.75L513 467.5M513 653.8L675.25 598.05L803.5 668.5M675.25 598.05L675.25 411.75" fill="none" stroke="#2a2a2a" stroke-width="1" stroke-linejoin="round"/>
<circle cx="725.0" cy="512.8" r="49.2" fill="#db2121"/>
<circle cx="725.0" cy="512.8" r="49.2" fill="url(#bshade)"/>
<circle cx="725.0" cy="512.8" r="49.2" fill="url(#bhl1)"/>
<circle cx="725.0" cy="512.8" r="49.2" fill="url(#bhl2)"/>
<circle cx="725.0" cy="512.8" r="49.2" fill="url(#brim)"/>
<circle cx="577.6" cy="533.1" r="36.9" fill="#db2121"/>
<circle cx="577.6" cy="533.1" r="36.9" fill="url(#bshade)"/>
<circle cx="577.6" cy="533.1" r="36.9" fill="url(#bhl1)"/>
<circle cx="577.6" cy="533.1" r="36.9" fill="url(#bhl2)"/>
<circle cx="577.6" cy="533.1" r="36.9" fill="url(#brim)"/>
<circle cx="559.4" cy="643.0" r="24.3" fill="#db2121"/>
<circle cx="559.4" cy="643.0" r="24.3" fill="url(#bshade)"/>
<circle cx="559.4" cy="643.0" r="24.3" fill="url(#bhl1)"/>
<circle cx="559.4" cy="643.0" r="24.3" fill="url(#bhl2)"/>
<circle cx="559.4" cy="643.0" r="24.3" fill="url(#brim)"/>
<circle cx="644.8" cy="689.8" r="12.3" fill="#db2121"/>
<circle cx="644.8" cy="689.8" r="12.3" fill="url(#bshade)"/>
<circle cx="644.8" cy="689.8" r="12.3" fill="url(#bhl1)"/>
<circle cx="644.8" cy="689.8" r="12.3" fill="url(#bhl2)"/>
<circle cx="644.8" cy="689.8" r="12.3" fill="url(#brim)"/>
<ellipse cx="724.5" cy="472.5" rx="17.5" ry="7.5" fill="#e8a0a0" opacity="0.6"/>
<ellipse cx="761" cy="501" rx="9.5" ry="17.5" fill="#ff8a8a" opacity="0.6" transform="rotate(-14 761 501)"/>
<ellipse cx="542" cy="648" rx="4.5" ry="8.5" fill="#ff9a9a" opacity="0.5" transform="rotate(10 542 648)"/>
<ellipse cx="560" cy="662.5" rx="8" ry="3.8" fill="#ffb0b0" opacity="0.6"/>
<clipPath id="b3clip"><circle cx="559.4" cy="643" r="24.3"/></clipPath>
<path d="M513 653.8L675.25 598.05" fill="none" stroke="#2a2a2a" stroke-width="1" stroke-linejoin="round" clip-path="url(#b3clip)"/>
<path d="M513 653.8l-4.2 -1.6" stroke="#151515" stroke-width="1"/>
<text x="506.2" y="654.3" font-size="11" text-anchor="end" fill="#111" stroke="#111" stroke-width="0.45">0.1</text>
<path d="M513 633.1l-4.2 -1.6" stroke="#151515" stroke-width="1"/>
<text x="506.2" y="633.6" font-size="11" text-anchor="end" fill="#111" stroke="#111" stroke-width="0.45">0.2</text>
<path d="M513 612.4l-4.2 -1.6" stroke="#151515" stroke-width="1"/>
<text x="506.2" y="612.9" font-size="11" text-anchor="end" fill="#111" stroke="#111" stroke-width="0.45">0.3</text>
<path d="M513 591.7l-4.2 -1.6" stroke="#151515" stroke-width="1"/>
<text x="506.2" y="592.2" font-size="11" text-anchor="end" fill="#111" stroke="#111" stroke-width="0.45">0.4</text>
<path d="M513 571l-4.2 -1.6" stroke="#151515" stroke-width="1"/>
<text x="506.2" y="571.5" font-size="11" text-anchor="end" fill="#111" stroke="#111" stroke-width="0.45">0.5</text>
<path d="M513 550.3l-4.2 -1.6" stroke="#151515" stroke-width="1"/>
<text x="506.2" y="550.8" font-size="11" text-anchor="end" fill="#111" stroke="#111" stroke-width="0.45">0.6</text>
<path d="M513 529.6l-4.2 -1.6" stroke="#151515" stroke-width="1"/>
<text x="506.2" y="530.1" font-size="11" text-anchor="end" fill="#111" stroke="#111" stroke-width="0.45">0.7</text>
<path d="M513 508.9l-4.2 -1.6" stroke="#151515" stroke-width="1"/>
<text x="506.2" y="509.4" font-size="11" text-anchor="end" fill="#111" stroke="#111" stroke-width="0.45">0.8</text>
<path d="M513 488.2l-4.2 -1.6" stroke="#151515" stroke-width="1"/>
<text x="506.2" y="488.7" font-size="11" text-anchor="end" fill="#111" stroke="#111" stroke-width="0.45">0.9</text>
<path d="M513 467.5l-4.2 -1.6" stroke="#151515" stroke-width="1"/>
<text x="500.4" y="468" font-size="11" text-anchor="end" fill="#111" stroke="#111" stroke-width="0.45">1</text>
<path d="M513 653.8l-4 1.6" stroke="#151515" stroke-width="1"/>
<text font-size="11" text-anchor="end" fill="#111" stroke="#111" stroke-width="0.45" transform="translate(505.8 656.8) rotate(-61)" y="3.96">0.1</text>
<path d="M527.25 661.63l-4 1.6" stroke="#151515" stroke-width="1"/>
<text font-size="11" text-anchor="end" fill="#111" stroke="#111" stroke-width="0.45" transform="translate(520.05 664.63) rotate(-61)" y="3.96">0.2</text>
<path d="M541.5 669.46l-4 1.6" stroke="#151515" stroke-width="1"/>
<text font-size="11" text-anchor="end" fill="#111" stroke="#111" stroke-width="0.45" transform="translate(534.3 672.46) rotate(-61)" y="3.96">0.3</text>
<path d="M555.75 677.28l-4 1.6" stroke="#151515" stroke-width="1"/>
<text font-size="11" text-anchor="end" fill="#111" stroke="#111" stroke-width="0.45" transform="translate(548.55 680.28) rotate(-61)" y="3.96">0.4</text>
<path d="M570 685.11l-4 1.6" stroke="#151515" stroke-width="1"/>
<text font-size="11" text-anchor="end" fill="#111" stroke="#111" stroke-width="0.45" transform="translate(562.8 688.11) rotate(-61)" y="3.96">0.5</text>
<path d="M584.25 692.94l-4 1.6" stroke="#151515" stroke-width="1"/>
<text font-size="11" text-anchor="end" fill="#111" stroke="#111" stroke-width="0.45" transform="translate(577.05 695.94) rotate(-61)" y="3.96">0.6</text>
<path d="M598.5 700.77l-4 1.6" stroke="#151515" stroke-width="1"/>
<text font-size="11" text-anchor="end" fill="#111" stroke="#111" stroke-width="0.45" transform="translate(591.3 703.77) rotate(-61)" y="3.96">0.7</text>
<path d="M612.75 708.59l-4 1.6" stroke="#151515" stroke-width="1"/>
<text font-size="11" text-anchor="end" fill="#111" stroke="#111" stroke-width="0.45" transform="translate(605.55 711.59) rotate(-61)" y="3.96">0.8</text>
<path d="M627 716.42l-4 1.6" stroke="#151515" stroke-width="1"/>
<text font-size="11" text-anchor="end" fill="#111" stroke="#111" stroke-width="0.45" transform="translate(619.8 719.42) rotate(-61)" y="3.96">0.9</text>
<path d="M641.25 724.25l-4 1.6" stroke="#151515" stroke-width="1"/>
<text font-size="11" text-anchor="end" fill="#111" stroke="#111" stroke-width="0.45" transform="translate(631.14 732.5) rotate(-61)" y="3.96">1</text>
<path d="M641.25 724.25l3 2.9" stroke="#151515" stroke-width="1"/>
<text font-size="11" text-anchor="start" fill="#111" stroke="#111" stroke-width="0.45" transform="translate(647.15 728.55) rotate(69)" y="3.96">0.1</text>
<path d="M659.28 718.06l3 2.9" stroke="#151515" stroke-width="1"/>
<text font-size="11" text-anchor="start" fill="#111" stroke="#111" stroke-width="0.45" transform="translate(665.18 722.36) rotate(69)" y="3.96">0.2</text>
<path d="M677.31 711.86l3 2.9" stroke="#151515" stroke-width="1"/>
<text font-size="11" text-anchor="start" fill="#111" stroke="#111" stroke-width="0.45" transform="translate(683.21 716.16) rotate(69)" y="3.96">0.3</text>
<path d="M695.33 705.67l3 2.9" stroke="#151515" stroke-width="1"/>
<text font-size="11" text-anchor="start" fill="#111" stroke="#111" stroke-width="0.45" transform="translate(701.23 709.97) rotate(69)" y="3.96">0.4</text>
<path d="M713.36 699.47l3 2.9" stroke="#151515" stroke-width="1"/>
<text font-size="11" text-anchor="start" fill="#111" stroke="#111" stroke-width="0.45" transform="translate(719.26 703.77) rotate(69)" y="3.96">0.5</text>
<path d="M731.39 693.28l3 2.9" stroke="#151515" stroke-width="1"/>
<text font-size="11" text-anchor="start" fill="#111" stroke="#111" stroke-width="0.45" transform="translate(737.29 697.58) rotate(69)" y="3.96">0.6</text>
<path d="M749.42 687.08l3 2.9" stroke="#151515" stroke-width="1"/>
<text font-size="11" text-anchor="start" fill="#111" stroke="#111" stroke-width="0.45" transform="translate(755.32 691.38) rotate(69)" y="3.96">0.7</text>
<path d="M767.44 680.89l3 2.9" stroke="#151515" stroke-width="1"/>
<text font-size="11" text-anchor="start" fill="#111" stroke="#111" stroke-width="0.45" transform="translate(773.34 685.19) rotate(69)" y="3.96">0.8</text>
<path d="M785.47 674.69l3 2.9" stroke="#151515" stroke-width="1"/>
<text font-size="11" text-anchor="start" fill="#111" stroke="#111" stroke-width="0.45" transform="translate(791.37 678.99) rotate(69)" y="3.96">0.9</text>
<path d="M803.5 668.5l3 2.9" stroke="#151515" stroke-width="1"/>
<text font-size="11" text-anchor="start" fill="#111" stroke="#111" stroke-width="0.45" transform="translate(809.4 672.8) rotate(69)" y="3.96">1</text>
<text x="481.6" y="558.5" font-size="12.7" text-anchor="middle" fill="#111" transform="rotate(-90 481.6 558.5)" stroke="#111" stroke-width="0.35">Z-Axis (mm)</text>
<text x="537" y="745.2" font-size="12.7" text-anchor="middle" fill="#111" stroke="#111" stroke-width="0.35">X-Axis (mm)</text>
<text x="752" y="746.8" font-size="12.7" text-anchor="middle" fill="#111" stroke="#111" stroke-width="0.35">Y-Axis (mm)</text>
<path d="M705 461C640 438 560 450 470 505C410 545 350 600 310 641" fill="none" stroke="#1a1a1a" stroke-width="0.8"/>
<path d="M536.5 541C470 545 400 575 326 641" fill="none" stroke="#1a1a1a" stroke-width="0.8"/>
<path d="M535 657C470 672 400 672 328 661" fill="none" stroke="#1a1a1a" stroke-width="0.8"/>
<path d="M632 697C560 715 440 720 320 667" fill="none" stroke="#1a1a1a" stroke-width="0.8"/>
<path d="M309 642.5L311.33 637.06L314.44 640.17Z" fill="#1a1a1a"/>
<path d="M325 642.5L327.62 637.18L330.56 640.45Z" fill="#1a1a1a"/>
<path d="M326 660.5L331.75 659.09L331.14 663.44Z" fill="#1a1a1a"/>
<path d="M318 666L323.91 666.33L322.05 670.32Z" fill="#1a1a1a"/>
<path d="M808 570.6H842" stroke="#000" stroke-width="1.2"/><path d="M848.5 570.6L838.5 566.6Q840.8 570.6 838.5 574.6Z" fill="#000"/>
<path d="M930.18 638.32L943.14 645.47L943.14 626.61L930.18 619.46Z" fill="#c80000" fill-opacity="0.32" stroke="#380000" stroke-width="0.4" stroke-linejoin="round"/><path d="M943.14 645.47L959.56 639.9L959.56 621.04L943.14 626.61Z" fill="#d20000" fill-opacity="0.32" stroke="#380000" stroke-width="0.4" stroke-linejoin="round"/><path d="M930.18 619.46L943.14 626.61L959.56 621.04L946.6 613.89Z" fill="#de0000" fill-opacity="0.32" stroke="#380000" stroke-width="0.4" stroke-linejoin="round"/>
<path d="M959.56 639.9L972.52 647.05L972.52 628.19L959.56 621.04Z" fill="#c80000" fill-opacity="0.32" stroke="#380000" stroke-width="0.4" stroke-linejoin="round"/><path d="M972.52 647.05L988.94 641.48L988.94 622.62L972.52 628.19Z" fill="#d20000" fill-opacity="0.32" stroke="#380000" stroke-width="0.4" stroke-linejoin="round"/><path d="M959.56 621.04L972.52 628.19L988.94 622.62L975.98 615.47Z" fill="#de0000" fill-opacity="0.32" stroke="#380000" stroke-width="0.4" stroke-linejoin="round"/>
<path d="M943.14 664.33L956.1 671.48L956.1 652.62L943.14 645.47Z" fill="#c80000" fill-opacity="0.32" stroke="#380000" stroke-width="0.4" stroke-linejoin="round"/><path d="M956.1 671.48L972.52 665.91L972.52 647.05L956.1 652.62Z" fill="#d20000" fill-opacity="0.32" stroke="#380000" stroke-width="0.4" stroke-linejoin="round"/><path d="M943.14 645.47L956.1 652.62L972.52 647.05L959.56 639.9Z" fill="#de0000" fill-opacity="0.32" stroke="#380000" stroke-width="0.4" stroke-linejoin="round"/>
<path d="M943.14 645.47L956.1 652.62L956.1 633.76L943.14 626.61Z" fill="#c81414" stroke="#5a0000" stroke-width="0.6" stroke-linejoin="round"/><path d="M956.1 652.62L972.52 647.05L972.52 628.19L956.1 633.76Z" fill="#d61a1a" stroke="#5a0000" stroke-width="0.6" stroke-linejoin="round"/><path d="M943.14 626.61L956.1 633.76L972.52 628.19L959.56 621.04Z" fill="#e62020" stroke="#5a0000" stroke-width="0.6" stroke-linejoin="round"/><path d="M959.56 639.9L972.52 647.05M959.56 639.9L943.14 645.47M959.56 639.9L959.56 621.04" fill="none" stroke="rgba(90,0,0,0.4)" stroke-width="0.5"/>
<path d="M1096.96 533.63L1109.92 540.78L1109.92 521.92L1096.96 514.77Z" fill="#c80000" fill-opacity="0.41" stroke="#380000" stroke-width="0.4" stroke-linejoin="round"/><path d="M1109.92 540.78L1126.34 535.21L1126.34 516.35L1109.92 521.92Z" fill="#d20000" fill-opacity="0.41" stroke="#380000" stroke-width="0.4" stroke-linejoin="round"/><path d="M1096.96 514.77L1109.92 521.92L1126.34 516.35L1113.38 509.2Z" fill="#de0000" fill-opacity="0.41" stroke="#380000" stroke-width="0.4" stroke-linejoin="round"/>
<path d="M1067.58 513.19L1080.54 520.34L1080.54 501.48L1067.58 494.33Z" fill="#c80000" fill-opacity="0.32" stroke="#380000" stroke-width="0.4" stroke-linejoin="round"/><path d="M1080.54 520.34L1096.96 514.77L1096.96 495.91L1080.54 501.48Z" fill="#d20000" fill-opacity="0.32" stroke="#380000" stroke-width="0.4" stroke-linejoin="round"/><path d="M1067.58 494.33L1080.54 501.48L1096.96 495.91L1084 488.76Z" fill="#de0000" fill-opacity="0.32" stroke="#380000" stroke-width="0.4" stroke-linejoin="round"/>
<path d="M1096.96 514.77L1109.92 521.92L1109.92 503.06L1096.96 495.91Z" fill="#c80000" fill-opacity="0.53" stroke="#380000" stroke-width="0.4" stroke-linejoin="round"/><path d="M1109.92 521.92L1126.34 516.35L1126.34 497.49L1109.92 503.06Z" fill="#d20000" fill-opacity="0.53" stroke="#380000" stroke-width="0.4" stroke-linejoin="round"/><path d="M1096.96 495.91L1109.92 503.06L1126.34 497.49L1113.38 490.34Z" fill="#de0000" fill-opacity="0.53" stroke="#380000" stroke-width="0.4" stroke-linejoin="round"/>
<path d="M1126.34 516.35L1139.3 523.5L1139.3 504.64L1126.34 497.49Z" fill="#c80000" fill-opacity="0.32" stroke="#380000" stroke-width="0.4" stroke-linejoin="round"/><path d="M1139.3 523.5L1155.72 517.93L1155.72 499.07L1139.3 504.64Z" fill="#d20000" fill-opacity="0.32" stroke="#380000" stroke-width="0.4" stroke-linejoin="round"/><path d="M1126.34 497.49L1139.3 504.64L1155.72 499.07L1142.76 491.92Z" fill="#de0000" fill-opacity="0.32" stroke="#380000" stroke-width="0.4" stroke-linejoin="round"/>
<path d="M943.14 626.61L956.1 633.76L956.1 614.9L943.14 607.75Z" fill="#c80000" fill-opacity="0.32" stroke="#380000" stroke-width="0.4" stroke-linejoin="round"/><path d="M956.1 633.76L972.52 628.19L972.52 609.33L956.1 614.9Z" fill="#d20000" fill-opacity="0.32" stroke="#380000" stroke-width="0.4" stroke-linejoin="round"/><path d="M943.14 607.75L956.1 614.9L972.52 609.33L959.56 602.18Z" fill="#de0000" fill-opacity="0.32" stroke="#380000" stroke-width="0.4" stroke-linejoin="round"/>
<path d="M926.72 651.04L939.68 658.19L939.68 639.33L926.72 632.18Z" fill="#c80000" fill-opacity="0.32" stroke="#380000" stroke-width="0.4" stroke-linejoin="round"/><path d="M939.68 658.19L956.1 652.62L956.1 633.76L939.68 639.33Z" fill="#d20000" fill-opacity="0.32" stroke="#380000" stroke-width="0.4" stroke-linejoin="round"/><path d="M926.72 632.18L939.68 639.33L956.1 633.76L943.14 626.61Z" fill="#de0000" fill-opacity="0.32" stroke="#380000" stroke-width="0.4" stroke-linejoin="round"/>
<path d="M956.1 652.62L969.06 659.77L969.06 640.91L956.1 633.76Z" fill="#c80000" fill-opacity="0.32" stroke="#380000" stroke-width="0.4" stroke-linejoin="round"/><path d="M969.06 659.77L985.48 654.2L985.48 635.34L969.06 640.91Z" fill="#d20000" fill-opacity="0.32" stroke="#380000" stroke-width="0.4" stroke-linejoin="round"/><path d="M956.1 633.76L969.06 640.91L985.48 635.34L972.52 628.19Z" fill="#de0000" fill-opacity="0.32" stroke="#380000" stroke-width="0.4" stroke-linejoin="round"/>
<path d="M1080.54 539.2L1093.5 546.35L1093.5 527.49L1080.54 520.34Z" fill="#c80000" fill-opacity="0.53" stroke="#380000" stroke-width="0.4" stroke-linejoin="round"/><path d="M1093.5 546.35L1109.92 540.78L1109.92 521.92L1093.5 527.49Z" fill="#d20000" fill-opacity="0.53" stroke="#380000" stroke-width="0.4" stroke-linejoin="round"/><path d="M1080.54 520.34L1093.5 527.49L1109.92 521.92L1096.96 514.77Z" fill="#de0000" fill-opacity="0.53" stroke="#380000" stroke-width="0.4" stroke-linejoin="round"/>
<path d="M1109.92 540.78L1122.88 547.93L1122.88 529.07L1109.92 521.92Z" fill="#c80000" fill-opacity="0.53" stroke="#380000" stroke-width="0.4" stroke-linejoin="round"/><path d="M1122.88 547.93L1139.3 542.36L1139.3 523.5L1122.88 529.07Z" fill="#d20000" fill-opacity="0.53" stroke="#380000" stroke-width="0.4" stroke-linejoin="round"/><path d="M1109.92 521.92L1122.88 529.07L1139.3 523.5L1126.34 516.35Z" fill="#de0000" fill-opacity="0.53" stroke="#380000" stroke-width="0.4" stroke-linejoin="round"/>
<path d="M963.02 532.88L975.98 540.03L975.98 521.17L963.02 514.02Z" fill="#c80000" fill-opacity="0.35" stroke="#380000" stroke-width="0.4" stroke-linejoin="round"/><path d="M975.98 540.03L992.4 534.46L992.4 515.6L975.98 521.17Z" fill="#d20000" fill-opacity="0.35" stroke="#380000" stroke-width="0.4" stroke-linejoin="round"/><path d="M963.02 514.02L975.98 521.17L992.4 515.6L979.44 508.45Z" fill="#de0000" fill-opacity="0.35" stroke="#380000" stroke-width="0.4" stroke-linejoin="round"/>
<path d="M1093.5 565.21L1106.46 572.36L1106.46 553.5L1093.5 546.35Z" fill="#c80000" fill-opacity="0.32" stroke="#380000" stroke-width="0.4" stroke-linejoin="round"/><path d="M1106.46 572.36L1122.88 566.79L1122.88 547.93L1106.46 553.5Z" fill="#d20000" fill-opacity="0.32" stroke="#380000" stroke-width="0.4" stroke-linejoin="round"/><path d="M1093.5 546.35L1106.46 553.5L1122.88 547.93L1109.92 540.78Z" fill="#de0000" fill-opacity="0.32" stroke="#380000" stroke-width="0.4" stroke-linejoin="round"/>
<path d="M946.6 557.31L959.56 564.46L959.56 545.6L946.6 538.45Z" fill="#c80000" fill-opacity="0.35" stroke="#380000" stroke-width="0.4" stroke-linejoin="round"/><path d="M959.56 564.46L975.98 558.89L975.98 540.03L959.56 545.6Z" fill="#d20000" fill-opacity="0.35" stroke="#380000" stroke-width="0.4" stroke-linejoin="round"/><path d="M946.6 538.45L959.56 545.6L975.98 540.03L963.02 532.88Z" fill="#de0000" fill-opacity="0.35" stroke="#380000" stroke-width="0.4" stroke-linejoin="round"/>
<path d="M975.98 558.89L988.94 566.04L988.94 547.18L975.98 540.03Z" fill="#c80000" fill-opacity="0.35" stroke="#380000" stroke-width="0.4" stroke-linejoin="round"/><path d="M988.94 566.04L1005.36 560.47L1005.36 541.61L988.94 547.18Z" fill="#d20000" fill-opacity="0.35" stroke="#380000" stroke-width="0.4" stroke-linejoin="round"/><path d="M975.98 540.03L988.94 547.18L1005.36 541.61L992.4 534.46Z" fill="#de0000" fill-opacity="0.35" stroke="#380000" stroke-width="0.4" stroke-linejoin="round"/>
<path d="M1096.96 495.91L1109.92 503.06L1109.92 484.2L1096.96 477.05Z" fill="#c80000" fill-opacity="0.41" stroke="#380000" stroke-width="0.4" stroke-linejoin="round"/><path d="M1109.92 503.06L1126.34 497.49L1126.34 478.63L1109.92 484.2Z" fill="#d20000" fill-opacity="0.41" stroke="#380000" stroke-width="0.4" stroke-linejoin="round"/><path d="M1096.96 477.05L1109.92 484.2L1126.34 478.63L1113.38 471.48Z" fill="#de0000" fill-opacity="0.41" stroke="#380000" stroke-width="0.4" stroke-linejoin="round"/>
<path d="M1080.54 520.34L1093.5 527.49L1093.5 508.63L1080.54 501.48Z" fill="#c80000" fill-opacity="0.69" stroke="#380000" stroke-width="0.4" stroke-linejoin="round"/><path d="M1093.5 527.49L1109.92 521.92L1109.92 503.06L1093.5 508.63Z" fill="#d20000" fill-opacity="0.69" stroke="#380000" stroke-width="0.4" stroke-linejoin="round"/><path d="M1080.54 501.48L1093.5 508.63L1109.92 503.06L1096.96 495.91Z" fill="#de0000" fill-opacity="0.69" stroke="#380000" stroke-width="0.4" stroke-linejoin="round"/>
<path d="M1109.92 521.92L1122.88 529.07L1122.88 510.21L1109.92 503.06Z" fill="#c80000" fill-opacity="0.69" stroke="#380000" stroke-width="0.4" stroke-linejoin="round"/><path d="M1122.88 529.07L1139.3 523.5L1139.3 504.64L1122.88 510.21Z" fill="#d20000" fill-opacity="0.69" stroke="#380000" stroke-width="0.4" stroke-linejoin="round"/><path d="M1109.92 503.06L1122.88 510.21L1139.3 504.64L1126.34 497.49Z" fill="#de0000" fill-opacity="0.69" stroke="#380000" stroke-width="0.4" stroke-linejoin="round"/>
<path d="M1064.12 544.77L1077.08 551.92L1077.08 533.06L1064.12 525.91Z" fill="#c80000" fill-opacity="0.41" stroke="#380000" stroke-width="0.4" stroke-linejoin="round"/><path d="M1077.08 551.92L1093.5 546.35L1093.5 527.49L1077.08 533.06Z" fill="#d20000" fill-opacity="0.41" stroke="#380000" stroke-width="0.4" stroke-linejoin="round"/><path d="M1064.12 525.91L1077.08 533.06L1093.5 527.49L1080.54 520.34Z" fill="#de0000" fill-opacity="0.41" stroke="#380000" stroke-width="0.4" stroke-linejoin="round"/>
<path d="M1093.5 546.35L1106.46 553.5L1106.46 534.64L1093.5 527.49Z" fill="#c80000" fill-opacity="0.69" stroke="#380000" stroke-width="0.4" stroke-linejoin="round"/><path d="M1106.46 553.5L1122.88 547.93L1122.88 529.07L1106.46 534.64Z" fill="#d20000" fill-opacity="0.69" stroke="#380000" stroke-width="0.4" stroke-linejoin="round"/><path d="M1093.5 527.49L1106.46 534.64L1122.88 529.07L1109.92 521.92Z" fill="#de0000" fill-opacity="0.69" stroke="#380000" stroke-width="0.4" stroke-linejoin="round"/>
<path d="M1122.88 547.93L1135.84 555.08L1135.84 536.22L1122.88 529.07Z" fill="#c80000" fill-opacity="0.41" stroke="#380000" stroke-width="0.4" stroke-linejoin="round"/><path d="M1135.84 555.08L1152.26 549.51L1152.26 530.65L1135.84 536.22Z" fill="#d20000" fill-opacity="0.41" stroke="#380000" stroke-width="0.4" stroke-linejoin="round"/><path d="M1122.88 529.07L1135.84 536.22L1152.26 530.65L1139.3 523.5Z" fill="#de0000" fill-opacity="0.41" stroke="#380000" stroke-width="0.4" stroke-linejoin="round"/>
<path d="M946.6 538.45L959.56 545.6L959.56 526.74L946.6 519.59Z" fill="#c80000" fill-opacity="0.56" stroke="#380000" stroke-width="0.4" stroke-linejoin="round"/><path d="M959.56 545.6L975.98 540.03L975.98 521.17L959.56 526.74Z" fill="#d20000" fill-opacity="0.56" stroke="#380000" stroke-width="0.4" stroke-linejoin="round"/><path d="M946.6 519.59L959.56 526.74L975.98 521.17L963.02 514.02Z" fill="#de0000" fill-opacity="0.56" stroke="#380000" stroke-width="0.4" stroke-linejoin="round"/>
<path d="M975.98 540.03L988.94 547.18L988.94 528.32L975.98 521.17Z" fill="#c80000" fill-opacity="0.56" stroke="#380000" stroke-width="0.4" stroke-linejoin="round"/><path d="M988.94 547.18L1005.36 541.61L1005.36 522.75L988.94 528.32Z" fill="#d20000" fill-opacity="0.56" stroke="#380000" stroke-width="0.4" stroke-linejoin="round"/><path d="M975.98 521.17L988.94 528.32L1005.36 522.75L992.4 515.6Z" fill="#de0000" fill-opacity="0.56" stroke="#380000" stroke-width="0.4" stroke-linejoin="round"/>
<path d="M959.56 564.46L972.52 571.61L972.52 552.75L959.56 545.6Z" fill="#c80000" fill-opacity="0.56" stroke="#380000" stroke-width="0.4" stroke-linejoin="round"/><path d="M972.52 571.61L988.94 566.04L988.94 547.18L972.52 552.75Z" fill="#d20000" fill-opacity="0.56" stroke="#380000" stroke-width="0.4" stroke-linejoin="round"/><path d="M959.56 545.6L972.52 552.75L988.94 547.18L975.98 540.03Z" fill="#de0000" fill-opacity="0.56" stroke="#380000" stroke-width="0.4" stroke-linejoin="round"/>
<path d="M1080.54 501.48L1093.5 508.63L1093.5 489.77L1080.54 482.62Z" fill="#c80000" fill-opacity="0.53" stroke="#380000" stroke-width="0.4" stroke-linejoin="round"/><path d="M1093.5 508.63L1109.92 503.06L1109.92 484.2L1093.5 489.77Z" fill="#d20000" fill-opacity="0.53" stroke="#380000" stroke-width="0.4" stroke-linejoin="round"/><path d="M1080.54 482.62L1093.5 489.77L1109.92 484.2L1096.96 477.05Z" fill="#de0000" fill-opacity="0.53" stroke="#380000" stroke-width="0.4" stroke-linejoin="round"/>
<path d="M1109.92 503.06L1122.88 510.21L1122.88 491.35L1109.92 484.2Z" fill="#c80000" fill-opacity="0.53" stroke="#380000" stroke-width="0.4" stroke-linejoin="round"/><path d="M1122.88 510.21L1139.3 504.64L1139.3 485.78L1122.88 491.35Z" fill="#d20000" fill-opacity="0.53" stroke="#380000" stroke-width="0.4" stroke-linejoin="round"/><path d="M1109.92 484.2L1122.88 491.35L1139.3 485.78L1126.34 478.63Z" fill="#de0000" fill-opacity="0.53" stroke="#380000" stroke-width="0.4" stroke-linejoin="round"/>
<path d="M1064.12 525.91L1077.08 533.06L1077.08 514.2L1064.12 507.05Z" fill="#c80000" fill-opacity="0.53" stroke="#380000" stroke-width="0.4" stroke-linejoin="round"/><path d="M1077.08 533.06L1093.5 527.49L1093.5 508.63L1077.08 514.2Z" fill="#d20000" fill-opacity="0.53" stroke="#380000" stroke-width="0.4" stroke-linejoin="round"/><path d="M1064.12 507.05L1077.08 514.2L1093.5 508.63L1080.54 501.48Z" fill="#de0000" fill-opacity="0.53" stroke="#380000" stroke-width="0.4" stroke-linejoin="round"/>
<path d="M1093.5 527.49L1106.46 534.64L1106.46 515.78L1093.5 508.63Z" fill="#c81414" stroke="#5a0000" stroke-width="0.6" stroke-linejoin="round"/><path d="M1106.46 534.64L1122.88 529.07L1122.88 510.21L1106.46 515.78Z" fill="#d61a1a" stroke="#5a0000" stroke-width="0.6" stroke-linejoin="round"/><path d="M1093.5 508.63L1106.46 515.78L1122.88 510.21L1109.92 503.06Z" fill="#e62020" stroke="#5a0000" stroke-width="0.6" stroke-linejoin="round"/><path d="M1109.92 521.92L1122.88 529.07M1109.92 521.92L1093.5 527.49M1109.92 521.92L1109.92 503.06" fill="none" stroke="rgba(90,0,0,0.4)" stroke-width="0.5"/>
<path d="M1122.88 529.07L1135.84 536.22L1135.84 517.36L1122.88 510.21Z" fill="#c80000" fill-opacity="0.53" stroke="#380000" stroke-width="0.4" stroke-linejoin="round"/><path d="M1135.84 536.22L1152.26 530.65L1152.26 511.79L1135.84 517.36Z" fill="#d20000" fill-opacity="0.53" stroke="#380000" stroke-width="0.4" stroke-linejoin="round"/><path d="M1122.88 510.21L1135.84 517.36L1152.26 511.79L1139.3 504.64Z" fill="#de0000" fill-opacity="0.53" stroke="#380000" stroke-width="0.4" stroke-linejoin="round"/>
<path d="M946.6 519.59L959.56 526.74L959.56 507.88L946.6 500.73Z" fill="#c80000" fill-opacity="0.35" stroke="#380000" stroke-width="0.4" stroke-linejoin="round"/><path d="M959.56 526.74L975.98 521.17L975.98 502.31L959.56 507.88Z" fill="#d20000" fill-opacity="0.35" stroke="#380000" stroke-width="0.4" stroke-linejoin="round"/><path d="M946.6 500.73L959.56 507.88L975.98 502.31L963.02 495.16Z" fill="#de0000" fill-opacity="0.35" stroke="#380000" stroke-width="0.4" stroke-linejoin="round"/>
<path d="M975.98 521.17L988.94 528.32L988.94 509.46L975.98 502.31Z" fill="#c80000" fill-opacity="0.35" stroke="#380000" stroke-width="0.4" stroke-linejoin="round"/><path d="M988.94 528.32L1005.36 522.75L1005.36 503.89L988.94 509.46Z" fill="#d20000" fill-opacity="0.35" stroke="#380000" stroke-width="0.4" stroke-linejoin="round"/><path d="M975.98 502.31L988.94 509.46L1005.36 503.89L992.4 496.74Z" fill="#de0000" fill-opacity="0.35" stroke="#380000" stroke-width="0.4" stroke-linejoin="round"/>
<path d="M1077.08 551.92L1090.04 559.07L1090.04 540.21L1077.08 533.06Z" fill="#c80000" fill-opacity="0.53" stroke="#380000" stroke-width="0.4" stroke-linejoin="round"/><path d="M1090.04 559.07L1106.46 553.5L1106.46 534.64L1090.04 540.21Z" fill="#d20000" fill-opacity="0.53" stroke="#380000" stroke-width="0.4" stroke-linejoin="round"/><path d="M1077.08 533.06L1090.04 540.21L1106.46 534.64L1093.5 527.49Z" fill="#de0000" fill-opacity="0.53" stroke="#380000" stroke-width="0.4" stroke-linejoin="round"/>
<path d="M1106.46 553.5L1119.42 560.65L1119.42 541.79L1106.46 534.64Z" fill="#c80000" fill-opacity="0.53" stroke="#380000" stroke-width="0.4" stroke-linejoin="round"/><path d="M1119.42 560.65L1135.84 555.08L1135.84 536.22L1119.42 541.79Z" fill="#d20000" fill-opacity="0.53" stroke="#380000" stroke-width="0.4" stroke-linejoin="round"/><path d="M1106.46 534.64L1119.42 541.79L1135.84 536.22L1122.88 529.07Z" fill="#de0000" fill-opacity="0.53" stroke="#380000" stroke-width="0.4" stroke-linejoin="round"/>
<path d="M930.18 544.02L943.14 551.17L943.14 532.31L930.18 525.16Z" fill="#c80000" fill-opacity="0.35" stroke="#380000" stroke-width="0.4" stroke-linejoin="round"/><path d="M943.14 551.17L959.56 545.6L959.56 526.74L943.14 532.31Z" fill="#d20000" fill-opacity="0.35" stroke="#380000" stroke-width="0.4" stroke-linejoin="round"/><path d="M930.18 525.16L943.14 532.31L959.56 526.74L946.6 519.59Z" fill="#de0000" fill-opacity="0.35" stroke="#380000" stroke-width="0.4" stroke-linejoin="round"/>
<path d="M959.56 545.6L972.52 552.75L972.52 533.89L959.56 526.74Z" fill="#c81414" stroke="#5a0000" stroke-width="0.6" stroke-linejoin="round"/><path d="M972.52 552.75L988.94 547.18L988.94 528.32L972.52 533.89Z" fill="#d61a1a" stroke="#5a0000" stroke-width="0.6" stroke-linejoin="round"/><path d="M959.56 526.74L972.52 533.89L988.94 528.32L975.98 521.17Z" fill="#e62020" stroke="#5a0000" stroke-width="0.6" stroke-linejoin="round"/><path d="M975.98 540.03L988.94 547.18M975.98 540.03L959.56 545.6M975.98 540.03L975.98 521.17" fill="none" stroke="rgba(90,0,0,0.4)" stroke-width="0.5"/>
<path d="M988.94 547.18L1001.9 554.33L1001.9 535.47L988.94 528.32Z" fill="#c80000" fill-opacity="0.35" stroke="#380000" stroke-width="0.4" stroke-linejoin="round"/><path d="M1001.9 554.33L1018.32 548.76L1018.32 529.9L1001.9 535.47Z" fill="#d20000" fill-opacity="0.35" stroke="#380000" stroke-width="0.4" stroke-linejoin="round"/><path d="M988.94 528.32L1001.9 535.47L1018.32 529.9L1005.36 522.75Z" fill="#de0000" fill-opacity="0.35" stroke="#380000" stroke-width="0.4" stroke-linejoin="round"/>
<path d="M943.14 570.03L956.1 577.18L956.1 558.32L943.14 551.17Z" fill="#c80000" fill-opacity="0.35" stroke="#380000" stroke-width="0.4" stroke-linejoin="round"/><path d="M956.1 577.18L972.52 571.61L972.52 552.75L956.1 558.32Z" fill="#d20000" fill-opacity="0.35" stroke="#380000" stroke-width="0.4" stroke-linejoin="round"/><path d="M943.14 551.17L956.1 558.32L972.52 552.75L959.56 545.6Z" fill="#de0000" fill-opacity="0.35" stroke="#380000" stroke-width="0.4" stroke-linejoin="round"/>
<path d="M972.52 571.61L985.48 578.76L985.48 559.9L972.52 552.75Z" fill="#c80000" fill-opacity="0.35" stroke="#380000" stroke-width="0.4" stroke-linejoin="round"/><path d="M985.48 578.76L1001.9 573.19L1001.9 554.33L985.48 559.9Z" fill="#d20000" fill-opacity="0.35" stroke="#380000" stroke-width="0.4" stroke-linejoin="round"/><path d="M972.52 552.75L985.48 559.9L1001.9 554.33L988.94 547.18Z" fill="#de0000" fill-opacity="0.35" stroke="#380000" stroke-width="0.4" stroke-linejoin="round"/>
<path d="M1064.12 507.05L1077.08 514.2L1077.08 495.34L1064.12 488.19Z" fill="#c80000" fill-opacity="0.41" stroke="#380000" stroke-width="0.4" stroke-linejoin="round"/><path d="M1077.08 514.2L1093.5 508.63L1093.5 489.77L1077.08 495.34Z" fill="#d20000" fill-opacity="0.41" stroke="#380000" stroke-width="0.4" stroke-linejoin="round"/><path d="M1064.12 488.19L1077.08 495.34L1093.5 489.77L1080.54 482.62Z" fill="#de0000" fill-opacity="0.41" stroke="#380000" stroke-width="0.4" stroke-linejoin="round"/>
<path d="M1093.5 508.63L1106.46 515.78L1106.46 496.92L1093.5 489.77Z" fill="#c80000" fill-opacity="0.69" stroke="#380000" stroke-width="0.4" stroke-linejoin="round"/><path d="M1106.46 515.78L1122.88 510.21L1122.88 491.35L1106.46 496.92Z" fill="#d20000" fill-opacity="0.69" stroke="#380000" stroke-width="0.4" stroke-linejoin="round"/><path d="M1093.5 489.77L1106.46 496.92L1122.88 491.35L1109.92 484.2Z" fill="#de0000" fill-opacity="0.69" stroke="#380000" stroke-width="0.4" stroke-linejoin="round"/>
<path d="M1122.88 510.21L1135.84 517.36L1135.84 498.5L1122.88 491.35Z" fill="#c80000" fill-opacity="0.41" stroke="#380000" stroke-width="0.4" stroke-linejoin="round"/><path d="M1135.84 517.36L1152.26 511.79L1152.26 492.93L1135.84 498.5Z" fill="#d20000" fill-opacity="0.41" stroke="#380000" stroke-width="0.4" stroke-linejoin="round"/><path d="M1122.88 491.35L1135.84 498.5L1152.26 492.93L1139.3 485.78Z" fill="#de0000" fill-opacity="0.41" stroke="#380000" stroke-width="0.4" stroke-linejoin="round"/>
<path d="M1077.08 533.06L1090.04 540.21L1090.04 521.35L1077.08 514.2Z" fill="#c80000" fill-opacity="0.69" stroke="#380000" stroke-width="0.4" stroke-linejoin="round"/><path d="M1090.04 540.21L1106.46 534.64L1106.46 515.78L1090.04 521.35Z" fill="#d20000" fill-opacity="0.69" stroke="#380000" stroke-width="0.4" stroke-linejoin="round"/><path d="M1077.08 514.2L1090.04 521.35L1106.46 515.78L1093.5 508.63Z" fill="#de0000" fill-opacity="0.69" stroke="#380000" stroke-width="0.4" stroke-linejoin="round"/>
<path d="M1106.46 534.64L1119.42 541.79L1119.42 522.93L1106.46 515.78Z" fill="#c80000" fill-opacity="0.69" stroke="#380000" stroke-width="0.4" stroke-linejoin="round"/><path d="M1119.42 541.79L1135.84 536.22L1135.84 517.36L1119.42 522.93Z" fill="#d20000" fill-opacity="0.69" stroke="#380000" stroke-width="0.4" stroke-linejoin="round"/><path d="M1106.46 515.78L1119.42 522.93L1135.84 517.36L1122.88 510.21Z" fill="#de0000" fill-opacity="0.69" stroke="#380000" stroke-width="0.4" stroke-linejoin="round"/>
<path d="M959.56 526.74L972.52 533.89L972.52 515.03L959.56 507.88Z" fill="#c80000" fill-opacity="0.56" stroke="#380000" stroke-width="0.4" stroke-linejoin="round"/><path d="M972.52 533.89L988.94 528.32L988.94 509.46L972.52 515.03Z" fill="#d20000" fill-opacity="0.56" stroke="#380000" stroke-width="0.4" stroke-linejoin="round"/><path d="M959.56 507.88L972.52 515.03L988.94 509.46L975.98 502.31Z" fill="#de0000" fill-opacity="0.56" stroke="#380000" stroke-width="0.4" stroke-linejoin="round"/>
<path d="M1090.04 559.07L1103 566.22L1103 547.36L1090.04 540.21Z" fill="#c80000" fill-opacity="0.41" stroke="#380000" stroke-width="0.4" stroke-linejoin="round"/><path d="M1103 566.22L1119.42 560.65L1119.42 541.79L1103 547.36Z" fill="#d20000" fill-opacity="0.41" stroke="#380000" stroke-width="0.4" stroke-linejoin="round"/><path d="M1090.04 540.21L1103 547.36L1119.42 541.79L1106.46 534.64Z" fill="#de0000" fill-opacity="0.41" stroke="#380000" stroke-width="0.4" stroke-linejoin="round"/>
<path d="M943.14 551.17L956.1 558.32L956.1 539.46L943.14 532.31Z" fill="#c80000" fill-opacity="0.56" stroke="#380000" stroke-width="0.4" stroke-linejoin="round"/><path d="M956.1 558.32L972.52 552.75L972.52 533.89L956.1 539.46Z" fill="#d20000" fill-opacity="0.56" stroke="#380000" stroke-width="0.4" stroke-linejoin="round"/><path d="M943.14 532.31L956.1 539.46L972.52 533.89L959.56 526.74Z" fill="#de0000" fill-opacity="0.56" stroke="#380000" stroke-width="0.4" stroke-linejoin="round"/>
<path d="M972.52 552.75L985.48 559.9L985.48 541.04L972.52 533.89Z" fill="#c80000" fill-opacity="0.56" stroke="#380000" stroke-width="0.4" stroke-linejoin="round"/><path d="M985.48 559.9L1001.9 554.33L1001.9 535.47L985.48 541.04Z" fill="#d20000" fill-opacity="0.56" stroke="#380000" stroke-width="0.4" stroke-linejoin="round"/><path d="M972.52 533.89L985.48 541.04L1001.9 535.47L988.94 528.32Z" fill="#de0000" fill-opacity="0.56" stroke="#380000" stroke-width="0.4" stroke-linejoin="round"/>
<path d="M1093.5 489.77L1106.46 496.92L1106.46 478.06L1093.5 470.91Z" fill="#c80000" fill-opacity="0.32" stroke="#380000" stroke-width="0.4" stroke-linejoin="round"/><path d="M1106.46 496.92L1122.88 491.35L1122.88 472.49L1106.46 478.06Z" fill="#d20000" fill-opacity="0.32" stroke="#380000" stroke-width="0.4" stroke-linejoin="round"/><path d="M1093.5 470.91L1106.46 478.06L1122.88 472.49L1109.92 465.34Z" fill="#de0000" fill-opacity="0.32" stroke="#380000" stroke-width="0.4" stroke-linejoin="round"/>
<path d="M1077.08 514.2L1090.04 521.35L1090.04 502.49L1077.08 495.34Z" fill="#c80000" fill-opacity="0.53" stroke="#380000" stroke-width="0.4" stroke-linejoin="round"/><path d="M1090.04 521.35L1106.46 515.78L1106.46 496.92L1090.04 502.49Z" fill="#d20000" fill-opacity="0.53" stroke="#380000" stroke-width="0.4" stroke-linejoin="round"/><path d="M1077.08 495.34L1090.04 502.49L1106.46 496.92L1093.5 489.77Z" fill="#de0000" fill-opacity="0.53" stroke="#380000" stroke-width="0.4" stroke-linejoin="round"/>
<path d="M1106.46 515.78L1119.42 522.93L1119.42 504.07L1106.46 496.92Z" fill="#c80000" fill-opacity="0.53" stroke="#380000" stroke-width="0.4" stroke-linejoin="round"/><path d="M1119.42 522.93L1135.84 517.36L1135.84 498.5L1119.42 504.07Z" fill="#d20000" fill-opacity="0.53" stroke="#380000" stroke-width="0.4" stroke-linejoin="round"/><path d="M1106.46 496.92L1119.42 504.07L1135.84 498.5L1122.88 491.35Z" fill="#de0000" fill-opacity="0.53" stroke="#380000" stroke-width="0.4" stroke-linejoin="round"/>
<path d="M1060.66 538.63L1073.62 545.78L1073.62 526.92L1060.66 519.77Z" fill="#c80000" fill-opacity="0.32" stroke="#380000" stroke-width="0.4" stroke-linejoin="round"/><path d="M1073.62 545.78L1090.04 540.21L1090.04 521.35L1073.62 526.92Z" fill="#d20000" fill-opacity="0.32" stroke="#380000" stroke-width="0.4" stroke-linejoin="round"/><path d="M1060.66 519.77L1073.62 526.92L1090.04 521.35L1077.08 514.2Z" fill="#de0000" fill-opacity="0.32" stroke="#380000" stroke-width="0.4" stroke-linejoin="round"/>
<path d="M1090.04 540.21L1103 547.36L1103 528.5L1090.04 521.35Z" fill="#c80000" fill-opacity="0.53" stroke="#380000" stroke-width="0.4" stroke-linejoin="round"/><path d="M1103 547.36L1119.42 541.79L1119.42 522.93L1103 528.5Z" fill="#d20000" fill-opacity="0.53" stroke="#380000" stroke-width="0.4" stroke-linejoin="round"/><path d="M1090.04 521.35L1103 528.5L1119.42 522.93L1106.46 515.78Z" fill="#de0000" fill-opacity="0.53" stroke="#380000" stroke-width="0.4" stroke-linejoin="round"/>
<path d="M1119.42 541.79L1132.38 548.94L1132.38 530.08L1119.42 522.93Z" fill="#c80000" fill-opacity="0.32" stroke="#380000" stroke-width="0.4" stroke-linejoin="round"/><path d="M1132.38 548.94L1148.8 543.37L1148.8 524.51L1132.38 530.08Z" fill="#d20000" fill-opacity="0.32" stroke="#380000" stroke-width="0.4" stroke-linejoin="round"/><path d="M1119.42 522.93L1132.38 530.08L1148.8 524.51L1135.84 517.36Z" fill="#de0000" fill-opacity="0.32" stroke="#380000" stroke-width="0.4" stroke-linejoin="round"/>
<path d="M943.14 532.31L956.1 539.46L956.1 520.6L943.14 513.45Z" fill="#c80000" fill-opacity="0.35" stroke="#380000" stroke-width="0.4" stroke-linejoin="round"/><path d="M956.1 539.46L972.52 533.89L972.52 515.03L956.1 520.6Z" fill="#d20000" fill-opacity="0.35" stroke="#380000" stroke-width="0.4" stroke-linejoin="round"/><path d="M943.14 513.45L956.1 520.6L972.52 515.03L959.56 507.88Z" fill="#de0000" fill-opacity="0.35" stroke="#380000" stroke-width="0.4" stroke-linejoin="round"/>
<path d="M972.52 533.89L985.48 541.04L985.48 522.18L972.52 515.03Z" fill="#c80000" fill-opacity="0.35" stroke="#380000" stroke-width="0.4" stroke-linejoin="round"/><path d="M985.48 541.04L1001.9 535.47L1001.9 516.61L985.48 522.18Z" fill="#d20000" fill-opacity="0.35" stroke="#380000" stroke-width="0.4" stroke-linejoin="round"/><path d="M972.52 515.03L985.48 522.18L1001.9 516.61L988.94 509.46Z" fill="#de0000" fill-opacity="0.35" stroke="#380000" stroke-width="0.4" stroke-linejoin="round"/>
<path d="M956.1 558.32L969.06 565.47L969.06 546.61L956.1 539.46Z" fill="#c80000" fill-opacity="0.35" stroke="#380000" stroke-width="0.4" stroke-linejoin="round"/><path d="M969.06 565.47L985.48 559.9L985.48 541.04L969.06 546.61Z" fill="#d20000" fill-opacity="0.35" stroke="#380000" stroke-width="0.4" stroke-linejoin="round"/><path d="M956.1 539.46L969.06 546.61L985.48 541.04L972.52 533.89Z" fill="#de0000" fill-opacity="0.35" stroke="#380000" stroke-width="0.4" stroke-linejoin="round"/>
<path d="M1090.04 521.35L1103 528.5L1103 509.64L1090.04 502.49Z" fill="#c80000" fill-opacity="0.41" stroke="#380000" stroke-width="0.4" stroke-linejoin="round"/><path d="M1103 528.5L1119.42 522.93L1119.42 504.07L1103 509.64Z" fill="#d20000" fill-opacity="0.41" stroke="#380000" stroke-width="0.4" stroke-linejoin="round"/><path d="M1090.04 502.49L1103 509.64L1119.42 504.07L1106.46 496.92Z" fill="#de0000" fill-opacity="0.41" stroke="#380000" stroke-width="0.4" stroke-linejoin="round"/>
<path d="M1020.9 688.37L1033.86 695.52L1033.86 676.66L1020.9 669.51Z" fill="#c81414" stroke="#5a0000" stroke-width="0.6" stroke-linejoin="round"/><path d="M1033.86 695.52L1050.28 689.95L1050.28 671.09L1033.86 676.66Z" fill="#d61a1a" stroke="#5a0000" stroke-width="0.6" stroke-linejoin="round"/><path d="M1020.9 669.51L1033.86 676.66L1050.28 671.09L1037.32 663.94Z" fill="#e62020" stroke="#5a0000" stroke-width="0.6" stroke-linejoin="round"/><path d="M1037.32 682.8L1050.28 689.95M1037.32 682.8L1020.9 688.37M1037.32 682.8L1037.32 663.94" fill="none" stroke="rgba(90,0,0,0.4)" stroke-width="0.5"/>
<clipPath id="vbclip"><circle cx="1108.19" cy="518.85" r="56"/><circle cx="974.25" cy="536.96" r="45.5"/><circle cx="957.83" cy="636.83" r="35"/><circle cx="1035.59" cy="679.73" r="24.5"/></clipPath>
<g clip-path="url(#vbclip)" opacity="0.28"><path d="M900.8 655.6L1030.4 727.1M900.8 636.74L1030.4 708.24M900.8 617.88L1030.4 689.38M900.8 599.02L1030.4 670.52M900.8 580.16L1030.4 651.66M900.8 561.3L1030.4 632.8M900.8 542.44L1030.4 613.94M900.8 523.58L1030.4 595.08M900.8 504.72L1030.4 576.22M900.8 485.86L1030.4 557.36M900.8 467L1030.4 538.5M917.22 650.03L1046.82 721.53M917.22 631.17L1046.82 702.67M917.22 612.31L1046.82 683.81M917.22 593.45L1046.82 664.95M917.22 574.59L1046.82 646.09M917.22 555.73L1046.82 627.23M917.22 536.87L1046.82 608.37M917.22 518.01L1046.82 589.51M917.22 499.15L1046.82 570.65M917.22 480.29L1046.82 551.79M917.22 461.43L1046.82 532.93M933.64 644.46L1063.24 715.96M933.64 625.6L1063.24 697.1M933.64 606.74L1063.24 678.24M933.64 587.88L1063.24 659.38M933.64 569.02L1063.24 640.52M933.64 550.16L1063.24 621.66M933.64 531.3L1063.24 602.8M933.64 512.44L1063.24 583.94M933.64 493.58L1063.24 565.08M933.64 474.72L1063.24 546.22M933.64 455.86L1063.24 527.36M950.06 638.89L1079.66 710.39M950.06 620.03L1079.66 691.53M950.06 601.17L1079.66 672.67M950.06 582.31L1079.66 653.81M950.06 563.45L1079.66 634.95M950.06 544.59L1079.66 616.09M950.06 525.73L1079.66 597.23M950.06 506.87L1079.66 578.37M950.06 488.01L1079.66 559.51M950.06 469.15L1079.66 540.65M950.06 450.29L1079.66 521.79M966.48 633.32L1096.08 704.82M966.48 614.46L1096.08 685.96M966.48 595.6L1096.08 667.1M966.48 576.74L1096.08 648.24M966.48 557.88L1096.08 629.38M966.48 539.02L1096.08 610.52M966.48 520.16L1096.08 591.66M966.48 501.3L1096.08 572.8M966.48 482.44L1096.08 553.94M966.48 463.58L1096.08 535.08M966.48 444.72L1096.08 516.22M982.9 627.75L1112.5 699.25M982.9 608.89L1112.5 680.39M982.9 590.03L1112.5 661.53M982.9 571.17L1112.5 642.67M982.9 552.31L1112.5 623.81M982.9 533.45L1112.5 604.95M982.9 514.59L1112.5 586.09M982.9 495.73L1112.5 567.23M982.9 476.87L1112.5 548.37M982.9 458.01L1112.5 529.51M982.9 439.15L1112.5 510.65M999.32 622.18L1128.92 693.68M999.32 603.32L1128.92 674.82M999.32 584.46L1128.92 655.96M999.32 565.6L1128.92 637.1M999.32 546.74L1128.92 618.24M999.32 527.88L1128.92 599.38M999.32 509.02L1128.92 580.52M999.32 490.16L1128.92 561.66M999.32 471.3L1128.92 542.8M999.32 452.44L1128.92 523.94M999.32 433.58L1128.92 505.08M1015.74 616.61L1145.34 688.11M1015.74 597.75L1145.34 669.25M1015.74 578.89L1145.34 650.39M1015.74 560.03L1145.34 631.53M1015.74 541.17L1145.34 612.67M1015.74 522.31L1145.34 593.81M1015.74 503.45L1145.34 574.95M1015.74 484.59L1145.34 556.09M1015.74 465.73L1145.34 537.23M1015.74 446.87L1145.34 518.37M1015.74 428.01L1145.34 499.51M1032.16 611.04L1161.76 682.54M1032.16 592.18L1161.76 663.68M1032.16 573.32L1161.76 644.82M1032.16 554.46L1161.76 625.96M1032.16 535.6L1161.76 607.1M1032.16 516.74L1161.76 588.24M1032.16 497.88L1161.76 569.38M1032.16 479.02L1161.76 550.52M1032.16 460.16L1161.76 531.66M1032.16 441.3L1161.76 512.8M1032.16 422.44L1161.76 493.94M1048.58 605.47L1178.18 676.97M1048.58 586.61L1178.18 658.11M1048.58 567.75L1178.18 639.25M1048.58 548.89L1178.18 620.39M1048.58 530.03L1178.18 601.53M1048.58 511.17L1178.18 582.67M1048.58 492.31L1178.18 563.81M1048.58 473.45L1178.18 544.95M1048.58 454.59L1178.18 526.09M1048.58 435.73L1178.18 507.23M1048.58 416.87L1178.18 488.37M1065 599.9L1194.6 671.4M1065 581.04L1194.6 652.54M1065 562.18L1194.6 633.68M1065 543.32L1194.6 614.82M1065 524.46L1194.6 595.96M1065 505.6L1194.6 577.1M1065 486.74L1194.6 558.24M1065 467.88L1194.6 539.38M1065 449.02L1194.6 520.52M1065 430.16L1194.6 501.66M1065 411.3L1194.6 482.8M900.8 655.6L1065 599.9M900.8 636.74L1065 581.04M900.8 617.88L1065 562.18M900.8 599.02L1065 543.32M900.8 580.16L1065 524.46M900.8 561.3L1065 505.6M900.8 542.44L1065 486.74M900.8 523.58L1065 467.88M900.8 504.72L1065 449.02M900.8 485.86L1065 430.16M900.8 467L1065 411.3M913.76 662.75L1077.96 607.05M913.76 643.89L1077.96 588.19M913.76 625.03L1077.96 569.33M913.76 606.17L1077.96 550.47M913.76 587.31L1077.96 531.61M913.76 568.45L1077.96 512.75M913.76 549.59L1077.96 493.89M913.76 530.73L1077.96 475.03M913.76 511.87L1077.96 456.17M913.76 493.01L1077.96 437.31M913.76 474.15L1077.96 418.45M926.72 669.9L1090.92 614.2M926.72 651.04L1090.92 595.34M926.72 632.18L1090.92 576.48M926.72 613.32L1090.92 557.62M926.72 594.46L1090.92 538.76M926.72 575.6L1090.92 519.9M926.72 556.74L1090.92 501.04M926.72 537.88L1090.92 482.18M926.72 519.02L1090.92 463.32M926.72 500.16L1090.92 444.46M926.72 481.3L1090.92 425.6M939.68 677.05L1103.88 621.35M939.68 658.19L1103.88 602.49M939.68 639.33L1103.88 583.63M939.68 620.47L1103.88 564.77M939.68 601.61L1103.88 545.91M939.68 582.75L1103.88 527.05M939.68 563.89L1103.88 508.19M939.68 545.03L1103.88 489.33M939.68 526.17L1103.88 470.47M939.68 507.31L1103.88 451.61M939.68 488.45L1103.88 432.75M952.64 684.2L1116.84 628.5M952.64 665.34L1116.84 609.64M952.64 646.48L1116.84 590.78M952.64 627.62L1116.84 571.92M952.64 608.76L1116.84 553.06M952.64 589.9L1116.84 534.2M952.64 571.04L1116.84 515.34M952.64 552.18L1116.84 496.48M952.64 533.32L1116.84 477.62M952.64 514.46L1116.84 458.76M952.64 495.6L1116.84 439.9M965.6 691.35L1129.8 635.65M965.6 672.49L1129.8 616.79M965.6 653.63L1129.8 597.93M965.6 634.77L1129.8 579.07M965.6 615.91L1129.8 560.21M965.6 597.05L1129.8 541.35M965.6 578.19L1129.8 522.49M965.6 559.33L1129.8 503.63M965.6 540.47L1129.8 484.77M965.6 521.61L1129.8 465.91M965.6 502.75L1129.8 447.05M978.56 698.5L1142.76 642.8M978.56 679.64L1142.76 623.94M978.56 660.78L1142.76 605.08M978.56 641.92L1142.76 586.22M978.56 623.06L1142.76 567.36M978.56 604.2L1142.76 548.5M978.56 585.34L1142.76 529.64M978.56 566.48L1142.76 510.78M978.56 547.62L1142.76 491.92M978.56 528.76L1142.76 473.06M978.56 509.9L1142.76 454.2M991.52 705.65L1155.72 649.95M991.52 686.79L1155.72 631.09M991.52 667.93L1155.72 612.23M991.52 649.07L1155.72 593.37M991.52 630.21L1155.72 574.51M991.52 611.35L1155.72 555.65M991.52 592.49L1155.72 536.79M991.52 573.63L1155.72 517.93M991.52 554.77L1155.72 499.07M991.52 535.91L1155.72 480.21M991.52 517.05L1155.72 461.35M1004.48 712.8L1168.68 657.1M1004.48 693.94L1168.68 638.24M1004.48 675.08L1168.68 619.38M1004.48 656.22L1168.68 600.52M1004.48 637.36L1168.68 581.66M1004.48 618.5L1168.68 562.8M1004.48 599.64L1168.68 543.94M1004.48 580.78L1168.68 525.08M1004.48 561.92L1168.68 506.22M1004.48 543.06L1168.68 487.36M1004.48 524.2L1168.68 468.5M1017.44 719.95L1181.64 664.25M1017.44 701.09L1181.64 645.39M1017.44 682.23L1181.64 626.53M1017.44 663.37L1181.64 607.67M1017.44 644.51L1181.64 588.81M1017.44 625.65L1181.64 569.95M1017.44 606.79L1181.64 551.09M1017.44 587.93L1181.64 532.23M1017.44 569.07L1181.64 513.37M1017.44 550.21L1181.64 494.51M1017.44 531.35L1181.64 475.65M1030.4 727.1L1194.6 671.4M1030.4 708.24L1194.6 652.54M1030.4 689.38L1194.6 633.68M1030.4 670.52L1194.6 614.82M1030.4 651.66L1194.6 595.96M1030.4 632.8L1194.6 577.1M1030.4 613.94L1194.6 558.24M1030.4 595.08L1194.6 539.38M1030.4 576.22L1194.6 520.52M1030.4 557.36L1194.6 501.66M1030.4 538.5L1194.6 482.8" fill="none" stroke="#a8a0a0" stroke-width="0.5"/><path d="M900.8 655.6L900.8 467M917.22 650.03L917.22 461.43M933.64 644.46L933.64 455.86M950.06 638.89L950.06 450.29M966.48 633.32L966.48 444.72M982.9 627.75L982.9 439.15M999.32 622.18L999.32 433.58M1015.74 616.61L1015.74 428.01M1032.16 611.04L1032.16 422.44M1048.58 605.47L1048.58 416.87M1065 599.9L1065 411.3M913.76 662.75L913.76 474.15M930.18 657.18L930.18 468.58M946.6 651.61L946.6 463.01M963.02 646.04L963.02 457.44M979.44 640.47L979.44 451.87M995.86 634.9L995.86 446.3M1012.28 629.33L1012.28 440.73M1028.7 623.76L1028.7 435.16M1045.12 618.19L1045.12 429.59M1061.54 612.62L1061.54 424.02M1077.96 607.05L1077.96 418.45M926.72 669.9L926.72 481.3M943.14 664.33L943.14 475.73M959.56 658.76L959.56 470.16M975.98 653.19L975.98 464.59M992.4 647.62L992.4 459.02M1008.82 642.05L1008.82 453.45M1025.24 636.48L1025.24 447.88M1041.66 630.91L1041.66 442.31M1058.08 625.34L1058.08 436.74M1074.5 619.77L1074.5 431.17M1090.92 614.2L1090.92 425.6M939.68 677.05L939.68 488.45M956.1 671.48L956.1 482.88M972.52 665.91L972.52 477.31M988.94 660.34L988.94 471.74M1005.36 654.77L1005.36 466.17M1021.78 649.2L1021.78 460.6M1038.2 643.63L1038.2 455.03M1054.62 638.06L1054.62 449.46M1071.04 632.49L1071.04 443.89M1087.46 626.92L1087.46 438.32M1103.88 621.35L1103.88 432.75M952.64 684.2L952.64 495.6M969.06 678.63L969.06 490.03M985.48 673.06L985.48 484.46M1001.9 667.49L1001.9 478.89M1018.32 661.92L1018.32 473.32M1034.74 656.35L1034.74 467.75M1051.16 650.78L1051.16 462.18M1067.58 645.21L1067.58 456.61M1084 639.64L1084 451.04M1100.42 634.07L1100.42 445.47M1116.84 628.5L1116.84 439.9M965.6 691.35L965.6 502.75M982.02 685.78L982.02 497.18M998.44 680.21L998.44 491.61M1014.86 674.64L1014.86 486.04M1031.28 669.07L1031.28 480.47M1047.7 663.5L1047.7 474.9M1064.12 657.93L1064.12 469.33M1080.54 652.36L1080.54 463.76M1096.96 646.79L1096.96 458.19M1113.38 641.22L1113.38 452.62M1129.8 635.65L1129.8 447.05M978.56 698.5L978.56 509.9M994.98 692.93L994.98 504.33M1011.4 687.36L1011.4 498.76M1027.82 681.79L1027.82 493.19M1044.24 676.22L1044.24 487.62M1060.66 670.65L1060.66 482.05M1077.08 665.08L1077.08 476.48M1093.5 659.51L1093.5 470.91M1109.92 653.94L1109.92 465.34M1126.34 648.37L1126.34 459.77M1142.76 642.8L1142.76 454.2M991.52 705.65L991.52 517.05M1007.94 700.08L1007.94 511.48M1024.36 694.51L1024.36 505.91M1040.78 688.94L1040.78 500.34M1057.2 683.37L1057.2 494.77M1073.62 677.8L1073.62 489.2M1090.04 672.23L1090.04 483.63M1106.46 666.66L1106.46 478.06M1122.88 661.09L1122.88 472.49M1139.3 655.52L1139.3 466.92M1155.72 649.95L1155.72 461.35M1004.48 712.8L1004.48 524.2M1020.9 707.23L1020.9 518.63M1037.32 701.66L1037.32 513.06M1053.74 696.09L1053.74 507.49M1070.16 690.52L1070.16 501.92M1086.58 684.95L1086.58 496.35M1103 679.38L1103 490.78M1119.42 673.81L1119.42 485.21M1135.84 668.24L1135.84 479.64M1152.26 662.67L1152.26 474.07M1168.68 657.1L1168.68 468.5M1017.44 719.95L1017.44 531.35M1033.86 714.38L1033.86 525.78M1050.28 708.81L1050.28 520.21M1066.7 703.24L1066.7 514.64M1083.12 697.67L1083.12 509.07M1099.54 692.1L1099.54 503.5M1115.96 686.53L1115.96 497.93M1132.38 680.96L1132.38 492.36M1148.8 675.39L1148.8 486.79M1165.22 669.82L1165.22 481.22M1181.64 664.25L1181.64 475.65M1030.4 727.1L1030.4 538.5M1046.82 721.53L1046.82 532.93M1063.24 715.96L1063.24 527.36M1079.66 710.39L1079.66 521.79M1096.08 704.82L1096.08 516.22M1112.5 699.25L1112.5 510.65M1128.92 693.68L1128.92 505.08M1145.34 688.11L1145.34 499.51M1161.76 682.54L1161.76 493.94M1178.18 676.97L1178.18 488.37M1194.6 671.4L1194.6 482.8" fill="none" stroke="#9a9090" stroke-width="0.6"/></g>
</svg>
</body></html>
